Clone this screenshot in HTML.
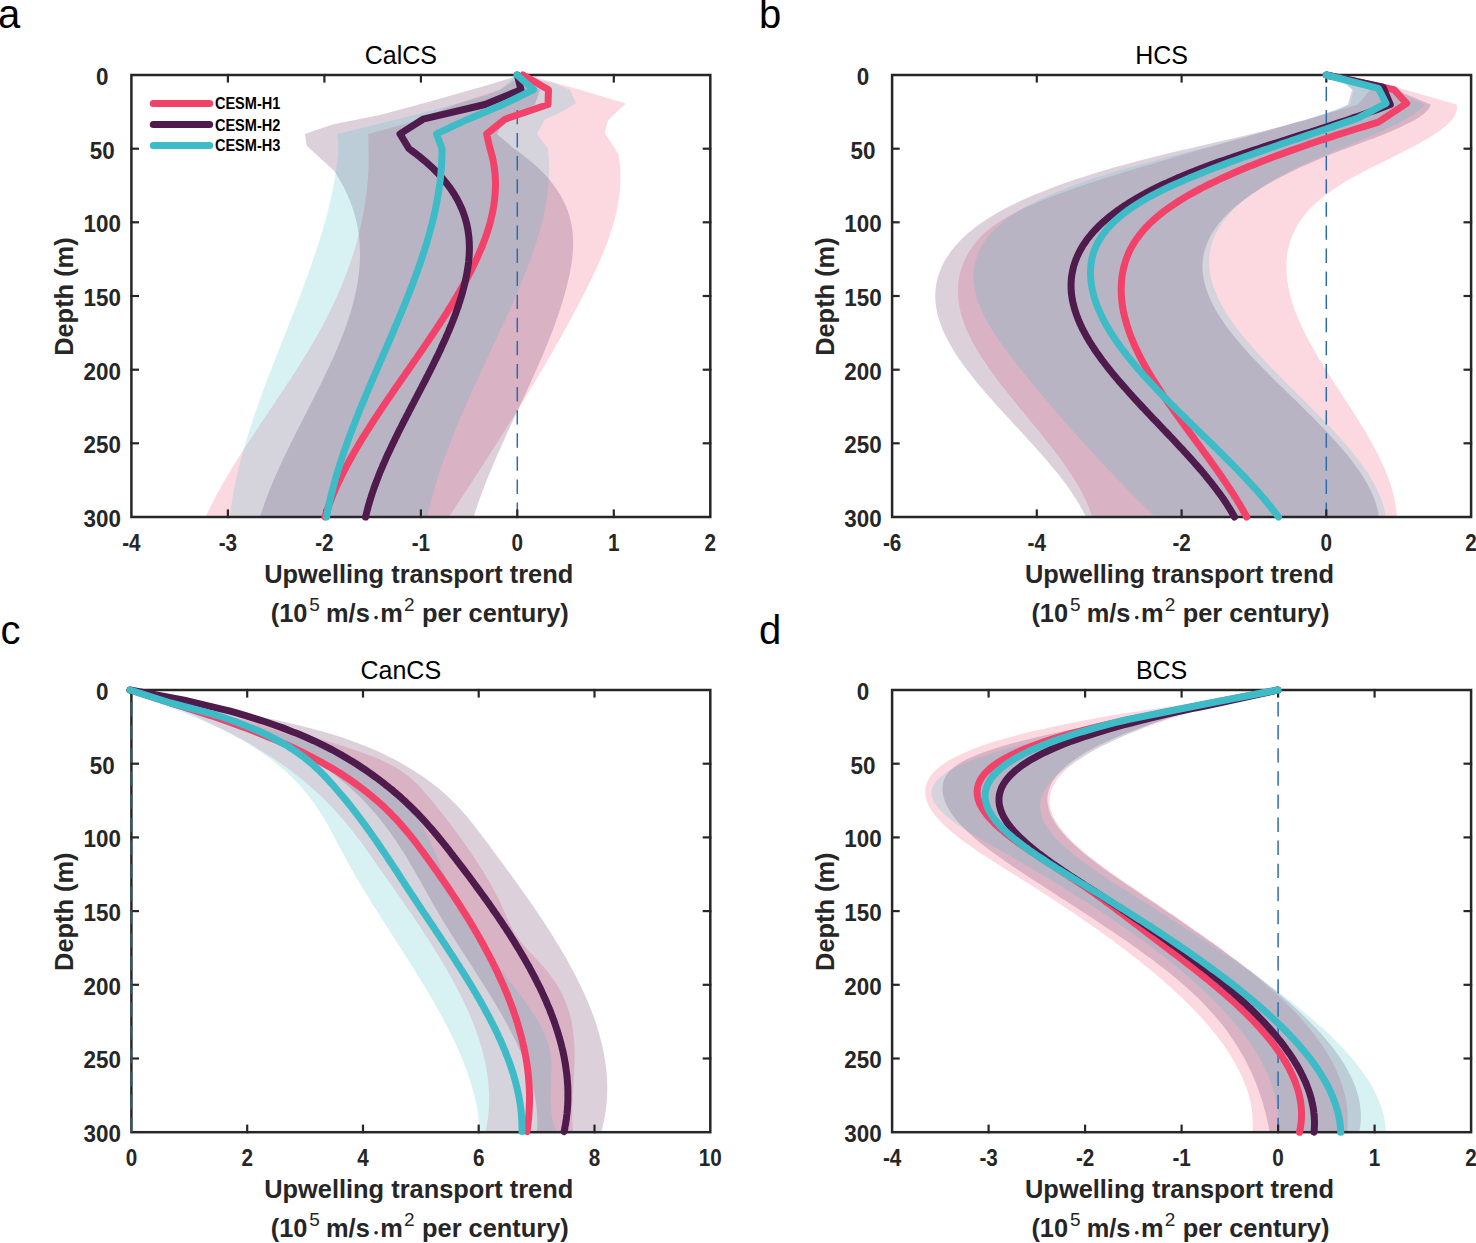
<!DOCTYPE html>
<html><head><meta charset="utf-8"><style>
html,body{margin:0;padding:0;background:#fff;width:1476px;height:1243px;overflow:hidden}
svg{display:block}
</style></head><body><svg width="1476" height="1243" viewBox="0 0 1476 1243"><defs><clipPath id="clipa"><rect x="131.4" y="75.0" width="578.9" height="442.0"/></clipPath></defs><g clip-path="url(#clipa)"><polygon points="523.0,75.0 500.0,89.7 455.0,104.5 413.8,121.6 368.3,133.9 368.7,154.0 368.7,155.4 368.7,156.9 368.7,158.4 368.7,159.9 368.7,161.3 368.6,162.8 368.6,164.3 368.6,165.8 368.5,167.2 368.5,168.7 368.4,170.2 368.3,171.7 368.2,173.1 368.2,174.6 368.1,176.1 368.0,177.5 367.9,179.0 367.8,180.5 367.6,182.0 367.5,183.4 367.4,184.9 367.2,186.4 367.1,187.9 366.9,189.3 366.8,190.8 366.6,192.3 366.4,193.8 366.2,195.2 366.0,196.7 365.8,198.2 365.6,199.6 365.4,201.1 365.2,202.6 365.0,204.1 364.7,205.5 364.5,207.0 364.2,208.5 364.0,210.0 363.7,211.4 363.4,212.9 363.2,214.4 362.9,215.9 362.6,217.3 362.3,218.8 362.0,220.3 361.7,221.7 361.4,223.2 361.0,224.7 360.7,226.2 360.4,227.6 360.0,229.1 359.7,230.6 359.3,232.1 358.9,233.5 358.6,235.0 358.2,236.5 357.8,238.0 357.4,239.4 357.0,240.9 356.6,242.4 356.2,243.8 355.8,245.3 355.3,246.8 354.9,248.3 354.5,249.7 354.0,251.2 353.5,252.7 353.1,254.2 352.6,255.6 352.1,257.1 351.7,258.6 351.2,260.1 350.7,261.5 350.2,263.0 349.7,264.5 349.1,265.9 348.6,267.4 348.1,268.9 347.5,270.4 347.0,271.8 346.5,273.3 345.9,274.8 345.3,276.3 344.8,277.7 344.2,279.2 343.6,280.7 343.0,282.2 342.4,283.6 341.8,285.1 341.2,286.6 340.6,288.0 340.0,289.5 339.3,291.0 338.7,292.5 338.0,293.9 337.4,295.4 336.7,296.9 336.1,298.4 335.4,299.8 334.7,301.3 334.0,302.8 333.3,304.3 332.7,305.7 331.9,307.2 331.2,308.7 330.5,310.1 329.8,311.6 329.1,313.1 328.3,314.6 327.6,316.0 326.8,317.5 326.1,319.0 325.3,320.5 324.6,321.9 323.8,323.4 323.0,324.9 322.2,326.4 321.4,327.8 320.6,329.3 319.8,330.8 319.0,332.2 318.2,333.7 317.3,335.2 316.5,336.7 315.7,338.1 314.8,339.6 314.0,341.1 313.1,342.6 312.3,344.0 311.4,345.5 310.5,347.0 309.6,348.5 308.8,349.9 307.9,351.4 307.0,352.9 306.1,354.3 305.2,355.8 304.3,357.3 303.4,358.8 302.4,360.2 301.5,361.7 300.6,363.2 299.7,364.7 298.7,366.1 297.8,367.6 296.9,369.1 295.9,370.6 295.0,372.0 294.0,373.5 293.1,375.0 292.1,376.4 291.2,377.9 290.2,379.4 289.2,380.9 288.3,382.3 287.3,383.8 286.3,385.3 285.4,386.8 284.4,388.2 283.4,389.7 282.4,391.2 281.4,392.7 280.5,394.1 279.5,395.6 278.5,397.1 277.5,398.5 276.5,400.0 275.5,401.5 274.6,403.0 273.6,404.4 272.6,405.9 271.6,407.4 270.6,408.9 269.6,410.3 268.6,411.8 267.6,413.3 266.6,414.8 265.7,416.2 264.7,417.7 263.7,419.2 262.7,420.6 261.7,422.1 260.7,423.6 259.7,425.1 258.8,426.5 257.8,428.0 256.8,429.5 255.8,431.0 254.8,432.4 253.9,433.9 252.9,435.4 251.9,436.9 250.9,438.3 250.0,439.8 249.0,441.3 248.1,442.7 247.1,444.2 246.1,445.7 245.2,447.2 244.2,448.6 243.3,450.1 242.3,451.6 241.4,453.1 240.5,454.5 239.5,456.0 238.6,457.5 237.7,459.0 236.8,460.4 235.8,461.9 234.9,463.4 234.0,464.8 233.1,466.3 232.2,467.8 231.3,469.3 230.4,470.7 229.5,472.2 228.7,473.7 227.8,475.2 226.9,476.6 226.0,478.1 225.2,479.6 224.3,481.1 223.5,482.5 222.6,484.0 221.8,485.5 221.0,486.9 220.2,488.4 219.3,489.9 218.5,491.4 217.7,492.8 216.9,494.3 216.1,495.8 215.4,497.3 214.6,498.7 213.8,500.2 213.1,501.7 212.3,503.2 211.6,504.6 210.8,506.1 210.1,507.6 209.4,509.0 208.6,510.5 207.9,512.0 207.2,513.5 206.6,514.9 205.9,516.4 205.6,517.0 448.8,517.0 449.2,516.4 450.2,514.9 451.2,513.5 452.1,512.0 453.1,510.5 454.1,509.0 455.1,507.6 456.0,506.1 457.0,504.6 458.0,503.2 458.9,501.7 459.9,500.2 460.9,498.7 461.8,497.3 462.8,495.8 463.8,494.3 464.7,492.8 465.7,491.4 466.7,489.9 467.6,488.4 468.6,486.9 469.6,485.5 470.5,484.0 471.5,482.5 472.5,481.1 473.4,479.6 474.4,478.1 475.3,476.6 476.3,475.2 477.3,473.7 478.2,472.2 479.2,470.7 480.1,469.3 481.1,467.8 482.0,466.3 483.0,464.8 483.9,463.4 484.9,461.9 485.8,460.4 486.8,459.0 487.7,457.5 488.7,456.0 489.6,454.5 490.6,453.1 491.5,451.6 492.5,450.1 493.4,448.6 494.4,447.2 495.3,445.7 496.2,444.2 497.2,442.7 498.1,441.3 499.1,439.8 500.0,438.3 500.9,436.9 501.9,435.4 502.8,433.9 503.7,432.4 504.6,431.0 505.6,429.5 506.5,428.0 507.4,426.5 508.4,425.1 509.3,423.6 510.2,422.1 511.1,420.6 512.0,419.2 513.0,417.7 513.9,416.2 514.8,414.8 515.7,413.3 516.6,411.8 517.5,410.3 518.4,408.9 519.4,407.4 520.3,405.9 521.2,404.4 522.1,403.0 523.0,401.5 523.9,400.0 524.8,398.5 525.7,397.1 526.6,395.6 527.5,394.1 528.4,392.7 529.3,391.2 530.2,389.7 531.0,388.2 531.9,386.8 532.8,385.3 533.7,383.8 534.6,382.3 535.5,380.9 536.3,379.4 537.2,377.9 538.1,376.4 539.0,375.0 539.9,373.5 540.7,372.0 541.6,370.6 542.5,369.1 543.3,367.6 544.2,366.1 545.1,364.7 545.9,363.2 546.8,361.7 547.6,360.2 548.5,358.8 549.3,357.3 550.2,355.8 551.0,354.3 551.9,352.9 552.7,351.4 553.6,349.9 554.4,348.5 555.2,347.0 556.1,345.5 556.9,344.0 557.8,342.6 558.6,341.1 559.4,339.6 560.2,338.1 561.1,336.7 561.9,335.2 562.7,333.7 563.5,332.2 564.3,330.8 565.2,329.3 566.0,327.8 566.8,326.4 567.6,324.9 568.4,323.4 569.2,321.9 570.0,320.5 570.8,319.0 571.6,317.5 572.4,316.0 573.2,314.6 574.0,313.1 574.7,311.6 575.5,310.1 576.3,308.7 577.1,307.2 577.9,305.7 578.6,304.3 579.4,302.8 580.2,301.3 580.9,299.8 581.7,298.4 582.5,296.9 583.2,295.4 584.0,293.9 584.7,292.5 585.5,291.0 586.2,289.5 587.0,288.0 587.7,286.6 588.4,285.1 589.2,283.6 589.9,282.2 590.6,280.7 591.3,279.2 592.0,277.7 592.7,276.3 593.4,274.8 594.1,273.3 594.8,271.8 595.5,270.4 596.2,268.9 596.9,267.4 597.5,265.9 598.2,264.5 598.9,263.0 599.5,261.5 600.1,260.1 600.8,258.6 601.4,257.1 602.0,255.6 602.6,254.2 603.2,252.7 603.8,251.2 604.4,249.7 605.0,248.3 605.6,246.8 606.2,245.3 606.7,243.8 607.3,242.4 607.8,240.9 608.3,239.4 608.8,238.0 609.4,236.5 609.9,235.0 610.4,233.5 610.8,232.1 611.3,230.6 611.8,229.1 612.2,227.6 612.7,226.2 613.1,224.7 613.5,223.2 613.9,221.7 614.3,220.3 614.7,218.8 615.1,217.3 615.5,215.9 615.8,214.4 616.2,212.9 616.5,211.4 616.8,210.0 617.1,208.5 617.4,207.0 617.7,205.5 618.0,204.1 618.2,202.6 618.5,201.1 618.7,199.6 618.9,198.2 619.1,196.7 619.3,195.2 619.5,193.8 619.6,192.3 619.8,190.8 619.9,189.3 620.0,187.9 620.1,186.4 620.2,184.9 620.3,183.4 620.4,182.0 620.4,180.5 620.4,179.0 620.5,177.5 620.4,176.1 620.4,174.6 620.4,173.1 620.3,171.7 620.3,170.2 620.2,168.7 620.1,167.2 620.0,165.8 619.8,164.3 619.7,162.8 619.5,161.3 619.3,159.9 619.1,158.4 618.9,156.9 618.7,155.4 618.4,154.0 604.8,133.0 607.9,120.4 625.8,103.6 580.0,89.7 527.0,75.0" fill="#F2426A" fill-opacity="0.2"/><polygon points="517.0,75.0 511.0,77.9 487.0,85.3 430.0,101.5 381.0,114.8 332.5,124.4 304.9,133.9 306.7,145.7 334.0,170.8 335.0,172.2 335.9,173.7 336.9,175.2 337.8,176.7 338.7,178.1 339.5,179.6 340.4,181.1 341.2,182.6 342.0,184.0 342.8,185.5 343.6,187.0 344.4,188.4 345.1,189.9 345.8,191.4 346.5,192.9 347.2,194.3 347.8,195.8 348.5,197.3 349.1,198.8 349.7,200.2 350.3,201.7 350.8,203.2 351.4,204.7 351.9,206.1 352.4,207.6 352.9,209.1 353.4,210.5 353.8,212.0 354.3,213.5 354.7,215.0 355.1,216.4 355.5,217.9 355.9,219.4 356.2,220.9 356.6,222.3 356.9,223.8 357.2,225.3 357.5,226.8 357.7,228.2 358.0,229.7 358.2,231.2 358.5,232.6 358.7,234.1 358.9,235.6 359.0,237.1 359.2,238.5 359.3,240.0 359.5,241.5 359.6,243.0 359.7,244.4 359.8,245.9 359.8,247.4 359.9,248.9 359.9,250.3 360.0,251.8 360.0,253.3 360.0,254.7 360.0,256.2 360.0,257.7 359.9,259.2 359.9,260.6 359.8,262.1 359.7,263.6 359.6,265.1 359.5,266.5 359.4,268.0 359.3,269.5 359.1,271.0 359.0,272.4 358.8,273.9 358.6,275.4 358.4,276.8 358.2,278.3 358.0,279.8 357.8,281.3 357.6,282.7 357.3,284.2 357.0,285.7 356.8,287.2 356.5,288.6 356.2,290.1 355.9,291.6 355.6,293.1 355.2,294.5 354.9,296.0 354.6,297.5 354.2,298.9 353.8,300.4 353.5,301.9 353.1,303.4 352.7,304.8 352.3,306.3 351.9,307.8 351.4,309.3 351.0,310.7 350.6,312.2 350.1,313.7 349.7,315.2 349.2,316.6 348.7,318.1 348.2,319.6 347.7,321.0 347.2,322.5 346.7,324.0 346.2,325.5 345.7,326.9 345.1,328.4 344.6,329.9 344.1,331.4 343.5,332.8 342.9,334.3 342.4,335.8 341.8,337.3 341.2,338.7 340.6,340.2 340.0,341.7 339.4,343.1 338.8,344.6 338.2,346.1 337.6,347.6 337.0,349.0 336.3,350.5 335.7,352.0 335.1,353.5 334.4,354.9 333.8,356.4 333.1,357.9 332.5,359.4 331.8,360.8 331.1,362.3 330.4,363.8 329.8,365.2 329.1,366.7 328.4,368.2 327.7,369.7 327.0,371.1 326.3,372.6 325.6,374.1 324.9,375.6 324.2,377.0 323.5,378.5 322.8,380.0 322.0,381.5 321.3,382.9 320.6,384.4 319.9,385.9 319.1,387.3 318.4,388.8 317.7,390.3 316.9,391.8 316.2,393.2 315.4,394.7 314.7,396.2 314.0,397.7 313.2,399.1 312.5,400.6 311.7,402.1 311.0,403.6 310.2,405.0 309.5,406.5 308.7,408.0 308.0,409.4 307.2,410.9 306.5,412.4 305.7,413.9 304.9,415.3 304.2,416.8 303.4,418.3 302.7,419.8 301.9,421.2 301.2,422.7 300.4,424.2 299.7,425.7 298.9,427.1 298.2,428.6 297.4,430.1 296.7,431.5 295.9,433.0 295.2,434.5 294.5,436.0 293.7,437.4 293.0,438.9 292.3,440.4 291.5,441.9 290.8,443.3 290.1,444.8 289.3,446.3 288.6,447.8 287.9,449.2 287.2,450.7 286.5,452.2 285.7,453.6 285.0,455.1 284.3,456.6 283.6,458.1 282.9,459.5 282.2,461.0 281.6,462.5 280.9,464.0 280.2,465.4 279.5,466.9 278.8,468.4 278.2,469.9 277.5,471.3 276.9,472.8 276.2,474.3 275.6,475.7 274.9,477.2 274.3,478.7 273.6,480.2 273.0,481.6 272.4,483.1 271.8,484.6 271.2,486.1 270.6,487.5 270.0,489.0 269.4,490.5 268.8,492.0 268.2,493.4 267.7,494.9 267.1,496.4 266.5,497.8 266.0,499.3 265.5,500.8 264.9,502.3 264.4,503.7 263.9,505.2 263.4,506.7 262.9,508.2 262.4,509.6 261.9,511.1 261.4,512.6 260.9,514.1 260.5,515.5 260.0,517.0 473.7,517.0 474.1,515.5 474.6,514.1 475.1,512.6 475.5,511.1 476.0,509.6 476.5,508.2 477.0,506.7 477.5,505.2 478.0,503.7 478.5,502.3 479.0,500.8 479.6,499.3 480.1,497.8 480.6,496.4 481.2,494.9 481.7,493.4 482.2,492.0 482.8,490.5 483.4,489.0 483.9,487.5 484.5,486.1 485.1,484.6 485.6,483.1 486.2,481.6 486.8,480.2 487.4,478.7 488.0,477.2 488.6,475.7 489.2,474.3 489.8,472.8 490.4,471.3 491.0,469.9 491.6,468.4 492.2,466.9 492.9,465.4 493.5,464.0 494.1,462.5 494.8,461.0 495.4,459.5 496.0,458.1 496.7,456.6 497.3,455.1 498.0,453.6 498.6,452.2 499.3,450.7 499.9,449.2 500.6,447.8 501.2,446.3 501.9,444.8 502.6,443.3 503.2,441.9 503.9,440.4 504.6,438.9 505.2,437.4 505.9,436.0 506.6,434.5 507.2,433.0 507.9,431.5 508.6,430.1 509.3,428.6 510.0,427.1 510.6,425.7 511.3,424.2 512.0,422.7 512.7,421.2 513.4,419.8 514.1,418.3 514.7,416.8 515.4,415.3 516.1,413.9 516.8,412.4 517.5,410.9 518.2,409.4 518.9,408.0 519.5,406.5 520.2,405.0 520.9,403.6 521.6,402.1 522.3,400.6 523.0,399.1 523.6,397.7 524.3,396.2 525.0,394.7 525.7,393.2 526.4,391.8 527.1,390.3 527.7,388.8 528.4,387.3 529.1,385.9 529.8,384.4 530.4,382.9 531.1,381.5 531.8,380.0 532.4,378.5 533.1,377.0 533.8,375.6 534.4,374.1 535.1,372.6 535.7,371.1 536.4,369.7 537.0,368.2 537.7,366.7 538.3,365.2 539.0,363.8 539.6,362.3 540.3,360.8 540.9,359.4 541.5,357.9 542.2,356.4 542.8,354.9 543.4,353.5 544.0,352.0 544.6,350.5 545.2,349.0 545.9,347.6 546.5,346.1 547.1,344.6 547.7,343.1 548.2,341.7 548.8,340.2 549.4,338.7 550.0,337.3 550.6,335.8 551.1,334.3 551.7,332.8 552.3,331.4 552.8,329.9 553.4,328.4 553.9,326.9 554.5,325.5 555.0,324.0 555.5,322.5 556.1,321.0 556.6,319.6 557.1,318.1 557.6,316.6 558.1,315.2 558.6,313.7 559.1,312.2 559.6,310.7 560.1,309.3 560.6,307.8 561.0,306.3 561.5,304.8 562.0,303.4 562.4,301.9 562.8,300.4 563.3,298.9 563.7,297.5 564.1,296.0 564.6,294.5 565.0,293.1 565.4,291.6 565.8,290.1 566.2,288.6 566.5,287.2 566.9,285.7 567.3,284.2 567.6,282.7 568.0,281.3 568.3,279.8 568.7,278.3 569.0,276.8 569.3,275.4 569.6,273.9 569.9,272.4 570.2,271.0 570.5,269.5 570.8,268.0 571.0,266.5 571.3,265.1 571.5,263.6 571.7,262.1 571.9,260.6 572.1,259.2 572.3,257.7 572.4,256.2 572.6,254.7 572.7,253.3 572.8,251.8 572.9,250.3 573.0,248.9 573.0,247.4 573.1,245.9 573.1,244.4 573.1,243.0 573.1,241.5 573.1,240.0 573.0,238.5 573.0,237.1 572.9,235.6 572.7,234.1 572.6,232.6 572.4,231.2 572.3,229.7 572.1,228.2 571.8,226.8 571.6,225.3 571.3,223.8 571.0,222.3 570.7,220.9 570.3,219.4 569.9,217.9 569.5,216.4 569.1,215.0 568.6,213.5 568.1,212.0 567.6,210.5 567.0,209.1 566.5,207.6 565.9,206.1 565.2,204.7 564.5,203.2 563.8,201.7 563.1,200.2 562.3,198.8 561.5,197.3 560.7,195.8 559.9,194.3 559.0,192.9 558.0,191.4 557.1,189.9 556.1,188.4 555.0,187.0 553.9,185.5 552.8,184.0 551.7,182.6 550.5,181.1 549.3,179.6 548.0,178.1 546.7,176.7 545.4,175.2 544.0,173.7 542.6,172.2 541.1,170.8 539.6,169.3 538.1,167.8 536.5,166.3 534.8,164.9 533.2,163.4 531.5,161.9 529.7,160.5 527.9,159.0 526.0,157.5 524.2,156.0 522.2,154.6 520.2,153.1 518.2,151.6 516.1,150.1 514.0,148.7 497.0,133.9 505.0,119.2 535.0,104.5 540.0,89.7 517.0,75.0" fill="#4F1B4D" fill-opacity="0.2"/><polygon points="517.0,75.0 500.0,89.7 487.0,95.6 446.0,106.7 397.6,119.2 337.4,133.9 338.5,148.7 338.4,150.1 338.3,151.6 338.1,153.1 338.0,154.6 337.8,156.0 337.7,157.5 337.5,159.0 337.4,160.5 337.2,161.9 337.0,163.4 336.8,164.9 336.6,166.3 336.4,167.8 336.2,169.3 336.0,170.8 335.8,172.2 335.5,173.7 335.3,175.2 335.1,176.7 334.8,178.1 334.6,179.6 334.3,181.1 334.0,182.6 333.8,184.0 333.5,185.5 333.2,187.0 332.9,188.4 332.6,189.9 332.3,191.4 332.0,192.9 331.7,194.3 331.4,195.8 331.1,197.3 330.8,198.8 330.4,200.2 330.1,201.7 329.7,203.2 329.4,204.7 329.0,206.1 328.7,207.6 328.3,209.1 327.9,210.5 327.6,212.0 327.2,213.5 326.8,215.0 326.4,216.4 326.0,217.9 325.6,219.4 325.2,220.9 324.8,222.3 324.4,223.8 324.0,225.3 323.6,226.8 323.1,228.2 322.7,229.7 322.3,231.2 321.8,232.6 321.4,234.1 321.0,235.6 320.5,237.1 320.1,238.5 319.6,240.0 319.1,241.5 318.7,243.0 318.2,244.4 317.7,245.9 317.3,247.4 316.8,248.9 316.3,250.3 315.8,251.8 315.3,253.3 314.8,254.7 314.3,256.2 313.8,257.7 313.3,259.2 312.8,260.6 312.3,262.1 311.8,263.6 311.3,265.1 310.8,266.5 310.3,268.0 309.8,269.5 309.2,271.0 308.7,272.4 308.2,273.9 307.6,275.4 307.1,276.8 306.6,278.3 306.0,279.8 305.5,281.3 304.9,282.7 304.4,284.2 303.9,285.7 303.3,287.2 302.8,288.6 302.2,290.1 301.6,291.6 301.1,293.1 300.5,294.5 300.0,296.0 299.4,297.5 298.8,298.9 298.3,300.4 297.7,301.9 297.1,303.4 296.6,304.8 296.0,306.3 295.4,307.8 294.9,309.3 294.3,310.7 293.7,312.2 293.1,313.7 292.6,315.2 292.0,316.6 291.4,318.1 290.8,319.6 290.2,321.0 289.7,322.5 289.1,324.0 288.5,325.5 287.9,326.9 287.3,328.4 286.8,329.9 286.2,331.4 285.6,332.8 285.0,334.3 284.4,335.8 283.8,337.3 283.3,338.7 282.7,340.2 282.1,341.7 281.5,343.1 280.9,344.6 280.3,346.1 279.8,347.6 279.2,349.0 278.6,350.5 278.0,352.0 277.4,353.5 276.9,354.9 276.3,356.4 275.7,357.9 275.1,359.4 274.5,360.8 274.0,362.3 273.4,363.8 272.8,365.2 272.2,366.7 271.7,368.2 271.1,369.7 270.5,371.1 270.0,372.6 269.4,374.1 268.8,375.6 268.3,377.0 267.7,378.5 267.1,380.0 266.6,381.5 266.0,382.9 265.5,384.4 264.9,385.9 264.4,387.3 263.8,388.8 263.3,390.3 262.7,391.8 262.2,393.2 261.6,394.7 261.1,396.2 260.6,397.7 260.0,399.1 259.5,400.6 259.0,402.1 258.4,403.6 257.9,405.0 257.4,406.5 256.9,408.0 256.4,409.4 255.8,410.9 255.3,412.4 254.8,413.9 254.3,415.3 253.8,416.8 253.3,418.3 252.8,419.8 252.3,421.2 251.8,422.7 251.3,424.2 250.9,425.7 250.4,427.1 249.9,428.6 249.4,430.1 249.0,431.5 248.5,433.0 248.0,434.5 247.6,436.0 247.1,437.4 246.7,438.9 246.2,440.4 245.8,441.9 245.4,443.3 244.9,444.8 244.5,446.3 244.1,447.8 243.6,449.2 243.2,450.7 242.8,452.2 242.4,453.6 242.0,455.1 241.6,456.6 241.2,458.1 240.8,459.5 240.4,461.0 240.1,462.5 239.7,464.0 239.3,465.4 238.9,466.9 238.6,468.4 238.2,469.9 237.9,471.3 237.5,472.8 237.2,474.3 236.9,475.7 236.5,477.2 236.2,478.7 235.9,480.2 235.6,481.6 235.3,483.1 235.0,484.6 234.7,486.1 234.4,487.5 234.1,489.0 233.8,490.5 233.5,492.0 233.3,493.4 233.0,494.9 232.8,496.4 232.5,497.8 232.3,499.3 232.0,500.8 231.8,502.3 231.6,503.7 231.4,505.2 231.1,506.7 230.9,508.2 230.7,509.6 230.6,511.1 230.4,512.6 230.2,514.1 230.0,515.5 229.9,517.0 427.6,517.0 427.9,515.5 428.2,514.1 428.5,512.6 428.8,511.1 429.1,509.6 429.5,508.2 429.8,506.7 430.2,505.2 430.5,503.7 430.9,502.3 431.2,500.8 431.6,499.3 432.0,497.8 432.4,496.4 432.8,494.9 433.2,493.4 433.6,492.0 434.0,490.5 434.4,489.0 434.8,487.5 435.2,486.1 435.7,484.6 436.1,483.1 436.5,481.6 437.0,480.2 437.5,478.7 437.9,477.2 438.4,475.7 438.9,474.3 439.3,472.8 439.8,471.3 440.3,469.9 440.8,468.4 441.3,466.9 441.8,465.4 442.3,464.0 442.8,462.5 443.3,461.0 443.9,459.5 444.4,458.1 444.9,456.6 445.4,455.1 446.0,453.6 446.5,452.2 447.1,450.7 447.6,449.2 448.2,447.8 448.7,446.3 449.3,444.8 449.9,443.3 450.5,441.9 451.0,440.4 451.6,438.9 452.2,437.4 452.8,436.0 453.4,434.5 454.0,433.0 454.6,431.5 455.2,430.1 455.8,428.6 456.4,427.1 457.0,425.7 457.6,424.2 458.2,422.7 458.9,421.2 459.5,419.8 460.1,418.3 460.7,416.8 461.4,415.3 462.0,413.9 462.6,412.4 463.3,410.9 463.9,409.4 464.6,408.0 465.2,406.5 465.9,405.0 466.5,403.6 467.2,402.1 467.8,400.6 468.5,399.1 469.2,397.7 469.8,396.2 470.5,394.7 471.1,393.2 471.8,391.8 472.5,390.3 473.2,388.8 473.8,387.3 474.5,385.9 475.2,384.4 475.9,382.9 476.5,381.5 477.2,380.0 477.9,378.5 478.6,377.0 479.3,375.6 479.9,374.1 480.6,372.6 481.3,371.1 482.0,369.7 482.7,368.2 483.4,366.7 484.1,365.2 484.7,363.8 485.4,362.3 486.1,360.8 486.8,359.4 487.5,357.9 488.2,356.4 488.9,354.9 489.6,353.5 490.3,352.0 490.9,350.5 491.6,349.0 492.3,347.6 493.0,346.1 493.7,344.6 494.4,343.1 495.1,341.7 495.8,340.2 496.4,338.7 497.1,337.3 497.8,335.8 498.5,334.3 499.2,332.8 499.9,331.4 500.5,329.9 501.2,328.4 501.9,326.9 502.6,325.5 503.3,324.0 503.9,322.5 504.6,321.0 505.3,319.6 506.0,318.1 506.6,316.6 507.3,315.2 508.0,313.7 508.6,312.2 509.3,310.7 509.9,309.3 510.6,307.8 511.2,306.3 511.9,304.8 512.6,303.4 513.2,301.9 513.9,300.4 514.5,298.9 515.1,297.5 515.8,296.0 516.4,294.5 517.0,293.1 517.7,291.6 518.3,290.1 518.9,288.6 519.5,287.2 520.2,285.7 520.8,284.2 521.4,282.7 522.0,281.3 522.6,279.8 523.2,278.3 523.8,276.8 524.4,275.4 525.0,273.9 525.6,272.4 526.1,271.0 526.7,269.5 527.3,268.0 527.8,266.5 528.4,265.1 529.0,263.6 529.5,262.1 530.0,260.6 530.6,259.2 531.1,257.7 531.6,256.2 532.2,254.7 532.7,253.3 533.2,251.8 533.7,250.3 534.2,248.9 534.7,247.4 535.2,245.9 535.7,244.4 536.1,243.0 536.6,241.5 537.1,240.0 537.5,238.5 538.0,237.1 538.4,235.6 538.8,234.1 539.2,232.6 539.7,231.2 540.1,229.7 540.5,228.2 540.9,226.8 541.3,225.3 541.6,223.8 542.0,222.3 542.4,220.9 542.7,219.4 543.1,217.9 543.4,216.4 543.7,215.0 544.1,213.5 544.4,212.0 544.7,210.5 545.0,209.1 545.3,207.6 545.5,206.1 545.8,204.7 546.1,203.2 546.3,201.7 546.5,200.2 546.8,198.8 547.0,197.3 547.2,195.8 547.4,194.3 547.6,192.9 547.8,191.4 547.9,189.9 548.1,188.4 548.2,187.0 548.4,185.5 548.5,184.0 548.6,182.6 548.7,181.1 548.8,179.6 548.9,178.1 549.0,176.7 549.0,175.2 549.1,173.7 549.1,172.2 549.1,170.8 549.1,169.3 549.1,167.8 549.1,166.3 549.1,164.9 549.1,163.4 549.0,161.9 549.0,160.5 548.9,159.0 548.8,157.5 548.7,156.0 548.6,154.6 548.5,153.1 548.3,151.6 548.2,150.1 548.0,148.7 537.0,133.9 545.0,119.2 562.0,111.8 576.0,103.0 570.0,89.7 552.0,82.4 517.0,75.0" fill="#3DBCC8" fill-opacity="0.2"/><line x1="517.3" y1="517.0" x2="517.3" y2="75.0" stroke="#2B6CB0" stroke-width="1.5" stroke-dasharray="14.4 8.7"/></g><defs><clipPath id="clipb"><rect x="892.1" y="75.0" width="578.9999999999999" height="442.0"/></clipPath></defs><g clip-path="url(#clipb)"><polygon points="1326.0,75.0 1370.0,89.7 1358.0,104.5 1353.1,105.9 1348.1,107.4 1343.1,108.9 1338.1,110.4 1333.1,111.8 1328.1,113.3 1323.0,114.8 1317.9,116.3 1312.9,117.7 1307.8,119.2 1302.7,120.7 1297.6,122.1 1292.4,123.6 1287.3,125.1 1282.2,126.6 1277.0,128.0 1271.9,129.5 1266.7,131.0 1261.5,132.5 1256.4,133.9 1251.2,135.4 1246.0,136.9 1240.8,138.4 1235.7,139.8 1230.5,141.3 1225.3,142.8 1220.1,144.2 1214.9,145.7 1209.8,147.2 1204.6,148.7 1199.4,150.1 1194.3,151.6 1189.1,153.1 1184.0,154.6 1178.9,156.0 1173.8,157.5 1168.7,159.0 1163.6,160.5 1158.5,161.9 1153.5,163.4 1148.5,164.9 1143.6,166.3 1138.6,167.8 1133.7,169.3 1128.9,170.8 1124.0,172.2 1119.2,173.7 1114.5,175.2 1109.8,176.7 1105.1,178.1 1100.5,179.6 1096.0,181.1 1091.5,182.6 1087.0,184.0 1082.6,185.5 1078.3,187.0 1074.0,188.4 1069.8,189.9 1065.7,191.4 1061.6,192.9 1057.6,194.3 1053.7,195.8 1049.9,197.3 1046.1,198.8 1042.4,200.2 1038.8,201.7 1035.3,203.2 1031.9,204.7 1028.6,206.1 1025.3,207.6 1022.2,209.1 1019.2,210.5 1016.2,212.0 1013.4,213.5 1010.6,215.0 1008.0,216.4 1005.4,217.9 1003.0,219.4 1000.7,220.9 998.4,222.3 996.2,223.8 994.2,225.3 992.2,226.8 990.3,228.2 988.4,229.7 986.7,231.2 985.0,232.6 983.4,234.1 981.9,235.6 980.4,237.1 979.1,238.5 977.7,240.0 976.5,241.5 975.2,243.0 974.1,244.4 973.0,245.9 971.9,247.4 971.0,248.9 970.0,250.3 969.1,251.8 968.2,253.3 967.4,254.7 966.6,256.2 965.9,257.7 965.2,259.2 964.5,260.6 963.8,262.1 963.2,263.6 962.7,265.1 962.1,266.5 961.6,268.0 961.1,269.5 960.7,271.0 960.3,272.4 959.9,273.9 959.6,275.4 959.3,276.8 959.0,278.3 958.8,279.8 958.5,281.3 958.4,282.7 958.2,284.2 958.1,285.7 958.0,287.2 957.9,288.6 957.9,290.1 957.9,291.6 957.9,293.1 958.0,294.5 958.1,296.0 958.2,297.5 958.3,298.9 958.5,300.4 958.6,301.9 958.8,303.4 959.1,304.8 959.4,306.3 959.6,307.8 960.0,309.3 960.3,310.7 960.7,312.2 961.0,313.7 961.4,315.2 961.9,316.6 962.3,318.1 962.8,319.6 963.3,321.0 963.8,322.5 964.4,324.0 964.9,325.5 965.5,326.9 966.1,328.4 966.7,329.9 967.4,331.4 968.0,332.8 968.7,334.3 969.4,335.8 970.2,337.3 970.9,338.7 971.6,340.2 972.4,341.7 973.2,343.1 974.0,344.6 974.8,346.1 975.7,347.6 976.5,349.0 977.4,350.5 978.3,352.0 979.2,353.5 980.1,354.9 981.0,356.4 982.0,357.9 982.9,359.4 983.9,360.8 984.9,362.3 985.9,363.8 986.9,365.2 987.9,366.7 988.9,368.2 989.9,369.7 991.0,371.1 992.1,372.6 993.1,374.1 994.2,375.6 995.3,377.0 996.4,378.5 997.5,380.0 998.6,381.5 999.7,382.9 1000.9,384.4 1002.0,385.9 1003.1,387.3 1004.3,388.8 1005.5,390.3 1006.6,391.8 1007.8,393.2 1009.0,394.7 1010.1,396.2 1011.3,397.7 1012.5,399.1 1013.7,400.6 1014.9,402.1 1016.1,403.6 1017.3,405.0 1018.5,406.5 1019.7,408.0 1020.9,409.4 1022.1,410.9 1023.4,412.4 1024.6,413.9 1025.8,415.3 1027.0,416.8 1028.2,418.3 1029.4,419.8 1030.6,421.2 1031.9,422.7 1033.1,424.2 1034.3,425.7 1035.5,427.1 1036.7,428.6 1037.9,430.1 1039.1,431.5 1040.3,433.0 1041.5,434.5 1042.7,436.0 1043.9,437.4 1045.0,438.9 1046.2,440.4 1047.4,441.9 1048.6,443.3 1049.7,444.8 1050.9,446.3 1052.0,447.8 1053.2,449.2 1054.3,450.7 1055.4,452.2 1056.5,453.6 1057.6,455.1 1058.7,456.6 1059.8,458.1 1060.9,459.5 1062.0,461.0 1063.0,462.5 1064.1,464.0 1065.1,465.4 1066.2,466.9 1067.2,468.4 1068.2,469.9 1069.2,471.3 1070.1,472.8 1071.1,474.3 1072.1,475.7 1073.0,477.2 1073.9,478.7 1074.9,480.2 1075.8,481.6 1076.6,483.1 1077.5,484.6 1078.4,486.1 1079.2,487.5 1080.0,489.0 1080.8,490.5 1081.6,492.0 1082.4,493.4 1083.2,494.9 1083.9,496.4 1084.6,497.8 1085.3,499.3 1086.0,500.8 1086.7,502.3 1087.3,503.7 1087.9,505.2 1088.6,506.7 1089.1,508.2 1089.7,509.6 1090.2,511.1 1090.8,512.6 1091.3,514.1 1091.7,515.5 1092.2,517.0 1396.7,517.0 1396.7,515.5 1396.6,514.1 1396.4,512.6 1396.3,511.1 1396.2,509.6 1396.0,508.2 1395.8,506.7 1395.6,505.2 1395.3,503.7 1395.1,502.3 1394.8,500.8 1394.5,499.3 1394.2,497.8 1393.8,496.4 1393.5,494.9 1393.1,493.4 1392.8,492.0 1392.3,490.5 1391.9,489.0 1391.5,487.5 1391.0,486.1 1390.6,484.6 1390.1,483.1 1389.6,481.6 1389.1,480.2 1388.6,478.7 1388.0,477.2 1387.5,475.7 1386.9,474.3 1386.3,472.8 1385.7,471.3 1385.1,469.9 1384.5,468.4 1383.8,466.9 1383.2,465.4 1382.5,464.0 1381.8,462.5 1381.1,461.0 1380.4,459.5 1379.7,458.1 1379.0,456.6 1378.3,455.1 1377.5,453.6 1376.8,452.2 1376.0,450.7 1375.2,449.2 1374.4,447.8 1373.7,446.3 1372.8,444.8 1372.0,443.3 1371.2,441.9 1370.4,440.4 1369.6,438.9 1368.7,437.4 1367.9,436.0 1367.0,434.5 1366.1,433.0 1365.3,431.5 1364.4,430.1 1363.5,428.6 1362.6,427.1 1361.7,425.7 1360.8,424.2 1359.9,422.7 1359.0,421.2 1358.1,419.8 1357.1,418.3 1356.2,416.8 1355.3,415.3 1354.3,413.9 1353.4,412.4 1352.5,410.9 1351.5,409.4 1350.6,408.0 1349.6,406.5 1348.7,405.0 1347.7,403.6 1346.8,402.1 1345.8,400.6 1344.8,399.1 1343.9,397.7 1342.9,396.2 1342.0,394.7 1341.0,393.2 1340.0,391.8 1339.1,390.3 1338.1,388.8 1337.2,387.3 1336.2,385.9 1335.3,384.4 1334.3,382.9 1333.4,381.5 1332.4,380.0 1331.5,378.5 1330.5,377.0 1329.6,375.6 1328.6,374.1 1327.7,372.6 1326.8,371.1 1325.8,369.7 1324.9,368.2 1324.0,366.7 1323.1,365.2 1322.2,363.8 1321.3,362.3 1320.4,360.8 1319.5,359.4 1318.6,357.9 1317.7,356.4 1316.9,354.9 1316.0,353.5 1315.1,352.0 1314.3,350.5 1313.4,349.0 1312.6,347.6 1311.8,346.1 1311.0,344.6 1310.2,343.1 1309.4,341.7 1308.6,340.2 1307.8,338.7 1307.0,337.3 1306.3,335.8 1305.5,334.3 1304.8,332.8 1304.0,331.4 1303.3,329.9 1302.6,328.4 1301.9,326.9 1301.2,325.5 1300.5,324.0 1299.9,322.5 1299.2,321.0 1298.6,319.6 1298.0,318.1 1297.4,316.6 1296.8,315.2 1296.2,313.7 1295.6,312.2 1295.1,310.7 1294.5,309.3 1294.0,307.8 1293.5,306.3 1293.0,304.8 1292.5,303.4 1292.1,301.9 1291.6,300.4 1291.2,298.9 1290.8,297.5 1290.4,296.0 1290.0,294.5 1289.6,293.1 1289.3,291.6 1289.0,290.1 1288.7,288.6 1288.4,287.2 1288.1,285.7 1287.9,284.2 1287.6,282.7 1287.4,281.3 1287.2,279.8 1287.1,278.3 1286.9,276.8 1286.8,275.4 1286.7,273.9 1286.6,272.4 1286.5,271.0 1286.5,269.5 1286.4,268.0 1286.4,266.5 1286.4,265.1 1286.5,263.6 1286.6,262.1 1286.6,260.6 1286.7,259.2 1286.9,257.7 1287.0,256.2 1287.2,254.7 1287.4,253.3 1287.7,251.8 1287.9,250.3 1288.2,248.9 1288.6,247.4 1288.9,245.9 1289.3,244.4 1289.7,243.0 1290.2,241.5 1290.6,240.0 1291.2,238.5 1291.7,237.1 1292.3,235.6 1292.9,234.1 1293.6,232.6 1294.3,231.2 1295.0,229.7 1295.8,228.2 1296.6,226.8 1297.5,225.3 1298.4,223.8 1299.3,222.3 1300.3,220.9 1301.3,219.4 1302.4,217.9 1303.5,216.4 1304.7,215.0 1305.9,213.5 1307.2,212.0 1308.5,210.5 1309.8,209.1 1311.3,207.6 1312.7,206.1 1314.2,204.7 1315.8,203.2 1317.5,201.7 1319.1,200.2 1320.9,198.8 1322.7,197.3 1324.5,195.8 1326.4,194.3 1328.4,192.9 1330.4,191.4 1332.5,189.9 1334.7,188.4 1336.9,187.0 1339.2,185.5 1341.5,184.0 1343.9,182.6 1346.4,181.1 1348.9,179.6 1351.5,178.1 1354.2,176.7 1356.9,175.2 1359.6,173.7 1362.4,172.2 1365.3,170.8 1368.1,169.3 1371.0,167.8 1374.0,166.3 1376.9,164.9 1379.9,163.4 1382.8,161.9 1385.8,160.5 1388.8,159.0 1391.8,157.5 1394.7,156.0 1397.7,154.6 1400.6,153.1 1403.5,151.6 1406.4,150.1 1409.3,148.7 1412.1,147.2 1414.9,145.7 1417.6,144.2 1420.3,142.8 1422.9,141.3 1425.5,139.8 1428.0,138.4 1430.4,136.9 1432.8,135.4 1435.0,133.9 1437.2,132.5 1439.3,131.0 1441.3,129.5 1443.3,128.0 1445.1,126.6 1446.8,125.1 1448.3,123.6 1449.8,122.1 1451.2,120.7 1452.4,119.2 1453.5,117.7 1454.4,116.3 1455.2,114.8 1455.9,113.3 1456.4,111.8 1456.8,110.4 1457.0,108.9 1457.0,107.4 1456.9,105.9 1456.6,104.5 1400.0,88.3 1326.0,75.0" fill="#F2426A" fill-opacity="0.2"/><polygon points="1326.0,75.0 1345.0,82.4 1352.0,89.7 1348.0,104.5 1345.0,105.9 1341.8,107.4 1338.3,108.9 1334.6,110.4 1330.7,111.8 1326.5,113.3 1322.1,114.8 1317.6,116.3 1312.9,117.7 1307.9,119.2 1302.9,120.7 1297.6,122.1 1292.3,123.6 1286.8,125.1 1281.1,126.6 1275.4,128.0 1269.5,129.5 1263.6,131.0 1257.5,132.5 1251.4,133.9 1245.3,135.4 1239.0,136.9 1232.8,138.4 1226.5,139.8 1220.1,141.3 1213.8,142.8 1207.4,144.2 1201.1,145.7 1194.8,147.2 1188.5,148.7 1182.2,150.1 1176.0,151.6 1169.8,153.1 1163.7,154.6 1157.7,156.0 1151.8,157.5 1146.0,159.0 1140.2,160.5 1134.6,161.9 1129.1,163.4 1123.7,164.9 1118.4,166.3 1113.1,167.8 1108.0,169.3 1103.0,170.8 1098.1,172.2 1093.3,173.7 1088.6,175.2 1083.9,176.7 1079.4,178.1 1075.0,179.6 1070.6,181.1 1066.3,182.6 1062.2,184.0 1058.1,185.5 1054.1,187.0 1050.2,188.4 1046.4,189.9 1042.7,191.4 1039.0,192.9 1035.5,194.3 1032.0,195.8 1028.6,197.3 1025.3,198.8 1022.0,200.2 1018.8,201.7 1015.8,203.2 1012.8,204.7 1009.8,206.1 1007.0,207.6 1004.2,209.1 1001.5,210.5 998.8,212.0 996.2,213.5 993.7,215.0 991.3,216.4 988.9,217.9 986.6,219.4 984.4,220.9 982.2,222.3 980.1,223.8 978.1,225.3 976.1,226.8 974.1,228.2 972.3,229.7 970.5,231.2 968.7,232.6 967.0,234.1 965.4,235.6 963.8,237.1 962.2,238.5 960.8,240.0 959.3,241.5 957.9,243.0 956.6,244.4 955.3,245.9 954.1,247.4 952.9,248.9 951.7,250.3 950.6,251.8 949.6,253.3 948.6,254.7 947.6,256.2 946.6,257.7 945.7,259.2 944.9,260.6 944.1,262.1 943.3,263.6 942.5,265.1 941.8,266.5 941.2,268.0 940.5,269.5 940.0,271.0 939.4,272.4 938.9,273.9 938.4,275.4 938.0,276.8 937.5,278.3 937.2,279.8 936.8,281.3 936.5,282.7 936.3,284.2 936.0,285.7 935.8,287.2 935.6,288.6 935.5,290.1 935.4,291.6 935.3,293.1 935.3,294.5 935.3,296.0 935.3,297.5 935.3,298.9 935.4,300.4 935.5,301.9 935.7,303.4 935.8,304.8 936.0,306.3 936.3,307.8 936.5,309.3 936.8,310.7 937.1,312.2 937.4,313.7 937.8,315.2 938.2,316.6 938.6,318.1 939.1,319.6 939.5,321.0 940.0,322.5 940.5,324.0 941.1,325.5 941.6,326.9 942.2,328.4 942.8,329.9 943.5,331.4 944.1,332.8 944.8,334.3 945.5,335.8 946.2,337.3 947.0,338.7 947.7,340.2 948.5,341.7 949.3,343.1 950.1,344.6 951.0,346.1 951.8,347.6 952.7,349.0 953.6,350.5 954.5,352.0 955.5,353.5 956.4,354.9 957.4,356.4 958.4,357.9 959.4,359.4 960.4,360.8 961.4,362.3 962.5,363.8 963.5,365.2 964.6,366.7 965.7,368.2 966.8,369.7 967.9,371.1 969.0,372.6 970.2,374.1 971.3,375.6 972.5,377.0 973.7,378.5 974.9,380.0 976.1,381.5 977.3,382.9 978.5,384.4 979.7,385.9 981.0,387.3 982.2,388.8 983.5,390.3 984.7,391.8 986.0,393.2 987.3,394.7 988.6,396.2 989.9,397.7 991.2,399.1 992.5,400.6 993.8,402.1 995.1,403.6 996.4,405.0 997.8,406.5 999.1,408.0 1000.5,409.4 1001.8,410.9 1003.1,412.4 1004.5,413.9 1005.8,415.3 1007.2,416.8 1008.6,418.3 1009.9,419.8 1011.3,421.2 1012.6,422.7 1014.0,424.2 1015.4,425.7 1016.7,427.1 1018.1,428.6 1019.4,430.1 1020.8,431.5 1022.2,433.0 1023.5,434.5 1024.9,436.0 1026.2,437.4 1027.6,438.9 1028.9,440.4 1030.3,441.9 1031.6,443.3 1032.9,444.8 1034.3,446.3 1035.6,447.8 1036.9,449.2 1038.2,450.7 1039.5,452.2 1040.8,453.6 1042.1,455.1 1043.4,456.6 1044.7,458.1 1046.0,459.5 1047.2,461.0 1048.5,462.5 1049.7,464.0 1051.0,465.4 1052.2,466.9 1053.4,468.4 1054.6,469.9 1055.8,471.3 1057.0,472.8 1058.2,474.3 1059.4,475.7 1060.5,477.2 1061.7,478.7 1062.8,480.2 1063.9,481.6 1065.0,483.1 1066.1,484.6 1067.2,486.1 1068.2,487.5 1069.3,489.0 1070.3,490.5 1071.3,492.0 1072.3,493.4 1073.3,494.9 1074.3,496.4 1075.2,497.8 1076.1,499.3 1077.0,500.8 1077.9,502.3 1078.8,503.7 1079.7,505.2 1080.5,506.7 1081.3,508.2 1082.1,509.6 1082.9,511.1 1083.7,512.6 1084.4,514.1 1085.1,515.5 1085.8,517.0 1379.0,517.0 1378.7,515.5 1378.5,514.1 1378.2,512.6 1377.9,511.1 1377.6,509.6 1377.2,508.2 1376.8,506.7 1376.4,505.2 1376.0,503.7 1375.5,502.3 1375.0,500.8 1374.4,499.3 1373.9,497.8 1373.3,496.4 1372.7,494.9 1372.0,493.4 1371.4,492.0 1370.7,490.5 1369.9,489.0 1369.2,487.5 1368.4,486.1 1367.6,484.6 1366.8,483.1 1366.0,481.6 1365.1,480.2 1364.2,478.7 1363.3,477.2 1362.4,475.7 1361.5,474.3 1360.5,472.8 1359.5,471.3 1358.5,469.9 1357.5,468.4 1356.4,466.9 1355.3,465.4 1354.2,464.0 1353.1,462.5 1352.0,461.0 1350.9,459.5 1349.7,458.1 1348.6,456.6 1347.4,455.1 1346.2,453.6 1344.9,452.2 1343.7,450.7 1342.5,449.2 1341.2,447.8 1339.9,446.3 1338.6,444.8 1337.3,443.3 1336.0,441.9 1334.7,440.4 1333.3,438.9 1332.0,437.4 1330.6,436.0 1329.3,434.5 1327.9,433.0 1326.5,431.5 1325.1,430.1 1323.7,428.6 1322.2,427.1 1320.8,425.7 1319.4,424.2 1317.9,422.7 1316.5,421.2 1315.0,419.8 1313.6,418.3 1312.1,416.8 1310.6,415.3 1309.1,413.9 1307.7,412.4 1306.2,410.9 1304.7,409.4 1303.2,408.0 1301.7,406.5 1300.2,405.0 1298.7,403.6 1297.2,402.1 1295.7,400.6 1294.1,399.1 1292.6,397.7 1291.1,396.2 1289.6,394.7 1288.1,393.2 1286.6,391.8 1285.1,390.3 1283.6,388.8 1282.1,387.3 1280.6,385.9 1279.1,384.4 1277.6,382.9 1276.1,381.5 1274.6,380.0 1273.1,378.5 1271.6,377.0 1270.1,375.6 1268.7,374.1 1267.2,372.6 1265.7,371.1 1264.3,369.7 1262.9,368.2 1261.4,366.7 1260.0,365.2 1258.6,363.8 1257.2,362.3 1255.7,360.8 1254.4,359.4 1253.0,357.9 1251.6,356.4 1250.2,354.9 1248.9,353.5 1247.5,352.0 1246.2,350.5 1244.9,349.0 1243.6,347.6 1242.3,346.1 1241.0,344.6 1239.7,343.1 1238.5,341.7 1237.3,340.2 1236.0,338.7 1234.8,337.3 1233.6,335.8 1232.5,334.3 1231.3,332.8 1230.2,331.4 1229.0,329.9 1227.9,328.4 1226.8,326.9 1225.8,325.5 1224.7,324.0 1223.7,322.5 1222.7,321.0 1221.7,319.6 1220.7,318.1 1219.8,316.6 1218.8,315.2 1217.9,313.7 1217.0,312.2 1216.2,310.7 1215.3,309.3 1214.5,307.8 1213.7,306.3 1212.9,304.8 1212.2,303.4 1211.5,301.9 1210.8,300.4 1210.1,298.9 1209.5,297.5 1208.8,296.0 1208.2,294.5 1207.7,293.1 1207.1,291.6 1206.6,290.1 1206.1,288.6 1205.7,287.2 1205.3,285.7 1204.9,284.2 1204.5,282.7 1204.2,281.3 1203.8,279.8 1203.6,278.3 1203.3,276.8 1203.1,275.4 1202.9,273.9 1202.8,272.4 1202.7,271.0 1202.6,269.5 1202.5,268.0 1202.5,266.5 1202.5,265.1 1202.6,263.6 1202.7,262.1 1202.8,260.6 1203.0,259.2 1203.2,257.7 1203.4,256.2 1203.7,254.7 1204.0,253.3 1204.3,251.8 1204.7,250.3 1205.2,248.9 1205.6,247.4 1206.1,245.9 1206.7,244.4 1207.3,243.0 1207.9,241.5 1208.5,240.0 1209.3,238.5 1210.0,237.1 1210.8,235.6 1211.6,234.1 1212.5,232.6 1213.4,231.2 1214.4,229.7 1215.4,228.2 1216.4,226.8 1217.5,225.3 1218.7,223.8 1219.9,222.3 1221.1,220.9 1222.4,219.4 1223.7,217.9 1225.1,216.4 1226.5,215.0 1228.0,213.5 1229.5,212.0 1231.1,210.5 1232.7,209.1 1234.4,207.6 1236.1,206.1 1237.9,204.7 1239.7,203.2 1241.6,201.7 1243.5,200.2 1245.4,198.8 1247.5,197.3 1249.6,195.8 1251.7,194.3 1253.9,192.9 1256.1,191.4 1258.4,189.9 1260.7,188.4 1263.1,187.0 1265.6,185.5 1268.1,184.0 1270.7,182.6 1273.3,181.1 1276.0,179.6 1278.7,178.1 1281.5,176.7 1284.4,175.2 1287.3,173.7 1290.2,172.2 1293.3,170.8 1296.3,169.3 1299.5,167.8 1302.7,166.3 1306.0,164.9 1309.3,163.4 1312.7,161.9 1316.1,160.5 1319.6,159.0 1323.2,157.5 1326.8,156.0 1330.5,154.6 1334.3,153.1 1338.1,151.6 1341.9,150.1 1345.8,148.7 1349.7,147.2 1353.7,145.7 1357.6,144.2 1361.5,142.8 1365.5,141.3 1369.3,139.8 1373.2,138.4 1377.0,136.9 1380.8,135.4 1384.5,133.9 1388.1,132.5 1391.7,131.0 1395.1,129.5 1398.5,128.0 1401.7,126.6 1404.8,125.1 1407.8,123.6 1410.7,122.1 1413.4,120.7 1416.0,119.2 1418.3,117.7 1420.5,116.3 1422.6,114.8 1424.4,113.3 1426.0,111.8 1427.4,110.4 1428.5,108.9 1429.5,107.4 1430.2,105.9 1430.6,104.5 1389.2,87.2 1326.0,75.0" fill="#4F1B4D" fill-opacity="0.2"/><polygon points="1326.0,75.0 1354.0,89.4 1350.0,104.5 1346.0,105.9 1342.0,107.4 1337.9,108.9 1333.7,110.4 1329.4,111.8 1325.0,113.3 1320.5,114.8 1316.0,116.3 1311.4,117.7 1306.7,119.2 1302.0,120.7 1297.1,122.1 1292.3,123.6 1287.3,125.1 1282.3,126.6 1277.2,128.0 1272.0,129.5 1266.8,131.0 1261.6,132.5 1256.2,133.9 1250.9,135.4 1245.4,136.9 1240.0,138.4 1234.4,139.8 1228.9,141.3 1223.3,142.8 1217.7,144.2 1212.0,145.7 1206.4,147.2 1200.7,148.7 1195.0,150.1 1189.4,151.6 1183.7,153.1 1178.1,154.6 1172.4,156.0 1166.8,157.5 1161.3,159.0 1155.8,160.5 1150.3,161.9 1144.9,163.4 1139.5,164.9 1134.2,166.3 1128.9,167.8 1123.8,169.3 1118.7,170.8 1113.7,172.2 1108.8,173.7 1104.0,175.2 1099.3,176.7 1094.7,178.1 1090.2,179.6 1085.9,181.1 1081.6,182.6 1077.4,184.0 1073.4,185.5 1069.4,187.0 1065.6,188.4 1061.9,189.9 1058.2,191.4 1054.7,192.9 1051.2,194.3 1047.9,195.8 1044.6,197.3 1041.5,198.8 1038.4,200.2 1035.4,201.7 1032.5,203.2 1029.7,204.7 1027.0,206.1 1024.4,207.6 1021.8,209.1 1019.4,210.5 1017.0,212.0 1014.7,213.5 1012.5,215.0 1010.3,216.4 1008.3,217.9 1006.3,219.4 1004.3,220.9 1002.5,222.3 1000.7,223.8 999.0,225.3 997.4,226.8 995.8,228.2 994.3,229.7 992.9,231.2 991.5,232.6 990.2,234.1 988.9,235.6 987.7,237.1 986.6,238.5 985.5,240.0 984.5,241.5 983.5,243.0 982.6,244.4 981.7,245.9 980.9,247.4 980.1,248.9 979.4,250.3 978.7,251.8 978.1,253.3 977.5,254.7 977.0,256.2 976.5,257.7 976.0,259.2 975.6,260.6 975.2,262.1 974.9,263.6 974.6,265.1 974.3,266.5 974.1,268.0 973.9,269.5 973.7,271.0 973.6,272.4 973.5,273.9 973.5,275.4 973.5,276.8 973.5,278.3 973.5,279.8 973.6,281.3 973.8,282.7 973.9,284.2 974.1,285.7 974.3,287.2 974.6,288.6 974.8,290.1 975.2,291.6 975.5,293.1 975.9,294.5 976.3,296.0 976.7,297.5 977.1,298.9 977.6,300.4 978.1,301.9 978.6,303.4 979.2,304.8 979.8,306.3 980.4,307.8 981.0,309.3 981.7,310.7 982.3,312.2 983.0,313.7 983.8,315.2 984.5,316.6 985.3,318.1 986.0,319.6 986.8,321.0 987.7,322.5 988.5,324.0 989.4,325.5 990.2,326.9 991.1,328.4 992.0,329.9 993.0,331.4 993.9,332.8 994.9,334.3 995.8,335.8 996.8,337.3 997.8,338.7 998.8,340.2 999.9,341.7 1000.9,343.1 1002.0,344.6 1003.0,346.1 1004.1,347.6 1005.2,349.0 1006.3,350.5 1007.4,352.0 1008.5,353.5 1009.6,354.9 1010.7,356.4 1011.9,357.9 1013.0,359.4 1014.2,360.8 1015.3,362.3 1016.5,363.8 1017.6,365.2 1018.8,366.7 1020.0,368.2 1021.2,369.7 1022.3,371.1 1023.5,372.6 1024.7,374.1 1025.9,375.6 1027.1,377.0 1028.3,378.5 1029.5,380.0 1030.7,381.5 1031.9,382.9 1033.1,384.4 1034.3,385.9 1035.5,387.3 1036.7,388.8 1038.0,390.3 1039.2,391.8 1040.4,393.2 1041.6,394.7 1042.9,396.2 1044.1,397.7 1045.3,399.1 1046.6,400.6 1047.8,402.1 1049.1,403.6 1050.3,405.0 1051.6,406.5 1052.8,408.0 1054.1,409.4 1055.3,410.9 1056.6,412.4 1057.9,413.9 1059.2,415.3 1060.4,416.8 1061.7,418.3 1063.0,419.8 1064.3,421.2 1065.6,422.7 1066.9,424.2 1068.1,425.7 1069.4,427.1 1070.7,428.6 1072.0,430.1 1073.4,431.5 1074.7,433.0 1076.0,434.5 1077.3,436.0 1078.6,437.4 1079.9,438.9 1081.3,440.4 1082.6,441.9 1083.9,443.3 1085.3,444.8 1086.6,446.3 1087.9,447.8 1089.3,449.2 1090.6,450.7 1092.0,452.2 1093.4,453.6 1094.7,455.1 1096.1,456.6 1097.4,458.1 1098.8,459.5 1100.2,461.0 1101.6,462.5 1102.9,464.0 1104.3,465.4 1105.7,466.9 1107.1,468.4 1108.5,469.9 1109.9,471.3 1111.3,472.8 1112.7,474.3 1114.1,475.7 1115.5,477.2 1116.9,478.7 1118.4,480.2 1119.8,481.6 1121.2,483.1 1122.6,484.6 1124.1,486.1 1125.5,487.5 1126.9,489.0 1128.4,490.5 1129.8,492.0 1131.3,493.4 1132.7,494.9 1134.2,496.4 1135.7,497.8 1137.1,499.3 1138.6,500.8 1140.1,502.3 1141.5,503.7 1143.0,505.2 1144.5,506.7 1146.0,508.2 1147.5,509.6 1149.0,511.1 1150.5,512.6 1152.0,514.1 1153.5,515.5 1155.0,517.0 1385.8,517.0 1385.6,515.5 1385.3,514.1 1385.0,512.6 1384.7,511.1 1384.4,509.6 1384.0,508.2 1383.6,506.7 1383.2,505.2 1382.7,503.7 1382.3,502.3 1381.8,500.8 1381.2,499.3 1380.7,497.8 1380.1,496.4 1379.5,494.9 1378.8,493.4 1378.2,492.0 1377.5,490.5 1376.8,489.0 1376.0,487.5 1375.3,486.1 1374.5,484.6 1373.7,483.1 1372.9,481.6 1372.0,480.2 1371.2,478.7 1370.3,477.2 1369.4,475.7 1368.4,474.3 1367.5,472.8 1366.5,471.3 1365.5,469.9 1364.5,468.4 1363.5,466.9 1362.5,465.4 1361.4,464.0 1360.3,462.5 1359.2,461.0 1358.1,459.5 1357.0,458.1 1355.8,456.6 1354.7,455.1 1353.5,453.6 1352.3,452.2 1351.1,450.7 1349.9,449.2 1348.6,447.8 1347.4,446.3 1346.1,444.8 1344.9,443.3 1343.6,441.9 1342.3,440.4 1341.0,438.9 1339.7,437.4 1338.3,436.0 1337.0,434.5 1335.6,433.0 1334.3,431.5 1332.9,430.1 1331.5,428.6 1330.1,427.1 1328.7,425.7 1327.3,424.2 1325.9,422.7 1324.5,421.2 1323.1,419.8 1321.7,418.3 1320.2,416.8 1318.8,415.3 1317.3,413.9 1315.9,412.4 1314.4,410.9 1313.0,409.4 1311.5,408.0 1310.0,406.5 1308.6,405.0 1307.1,403.6 1305.6,402.1 1304.1,400.6 1302.7,399.1 1301.2,397.7 1299.7,396.2 1298.2,394.7 1296.7,393.2 1295.2,391.8 1293.8,390.3 1292.3,388.8 1290.8,387.3 1289.3,385.9 1287.9,384.4 1286.4,382.9 1284.9,381.5 1283.4,380.0 1282.0,378.5 1280.5,377.0 1279.1,375.6 1277.6,374.1 1276.2,372.6 1274.7,371.1 1273.3,369.7 1271.9,368.2 1270.4,366.7 1269.0,365.2 1267.6,363.8 1266.2,362.3 1264.8,360.8 1263.5,359.4 1262.1,357.9 1260.7,356.4 1259.4,354.9 1258.0,353.5 1256.7,352.0 1255.3,350.5 1254.0,349.0 1252.7,347.6 1251.4,346.1 1250.2,344.6 1248.9,343.1 1247.6,341.7 1246.4,340.2 1245.2,338.7 1244.0,337.3 1242.8,335.8 1241.6,334.3 1240.4,332.8 1239.3,331.4 1238.1,329.9 1237.0,328.4 1235.9,326.9 1234.8,325.5 1233.7,324.0 1232.7,322.5 1231.6,321.0 1230.6,319.6 1229.6,318.1 1228.6,316.6 1227.7,315.2 1226.7,313.7 1225.8,312.2 1224.9,310.7 1224.0,309.3 1223.2,307.8 1222.3,306.3 1221.5,304.8 1220.7,303.4 1220.0,301.9 1219.2,300.4 1218.5,298.9 1217.8,297.5 1217.1,296.0 1216.5,294.5 1215.9,293.1 1215.3,291.6 1214.7,290.1 1214.1,288.6 1213.6,287.2 1213.1,285.7 1212.6,284.2 1212.2,282.7 1211.8,281.3 1211.4,279.8 1211.1,278.3 1210.7,276.8 1210.4,275.4 1210.2,273.9 1209.9,272.4 1209.7,271.0 1209.5,269.5 1209.4,268.0 1209.3,266.5 1209.2,265.1 1209.2,263.6 1209.1,262.1 1209.2,260.6 1209.2,259.2 1209.3,257.7 1209.4,256.2 1209.6,254.7 1209.7,253.3 1210.0,251.8 1210.2,250.3 1210.5,248.9 1210.9,247.4 1211.2,245.9 1211.6,244.4 1212.1,243.0 1212.6,241.5 1213.1,240.0 1213.7,238.5 1214.3,237.1 1214.9,235.6 1215.6,234.1 1216.3,232.6 1217.1,231.2 1217.9,229.7 1218.8,228.2 1219.7,226.8 1220.6,225.3 1221.6,223.8 1222.6,222.3 1223.7,220.9 1224.8,219.4 1226.0,217.9 1227.2,216.4 1228.5,215.0 1229.8,213.5 1231.1,212.0 1232.6,210.5 1234.0,209.1 1235.5,207.6 1237.1,206.1 1238.7,204.7 1240.3,203.2 1242.0,201.7 1243.8,200.2 1245.6,198.8 1247.5,197.3 1249.4,195.8 1251.3,194.3 1253.4,192.9 1255.4,191.4 1257.6,189.9 1259.8,188.4 1262.0,187.0 1264.3,185.5 1266.7,184.0 1269.1,182.6 1271.5,181.1 1274.1,179.6 1276.7,178.1 1279.3,176.7 1282.0,175.2 1284.8,173.7 1287.6,172.2 1290.5,170.8 1293.4,169.3 1296.4,167.8 1299.5,166.3 1302.7,164.9 1305.8,163.4 1309.1,161.9 1312.4,160.5 1315.8,159.0 1319.2,157.5 1322.7,156.0 1326.2,154.6 1329.7,153.1 1333.2,151.6 1336.8,150.1 1340.4,148.7 1343.9,147.2 1347.5,145.7 1351.1,144.2 1354.7,142.8 1358.2,141.3 1361.7,139.8 1365.2,138.4 1368.7,136.9 1372.1,135.4 1375.5,133.9 1378.8,132.5 1382.1,131.0 1385.3,129.5 1388.5,128.0 1391.6,126.6 1394.5,125.1 1397.5,123.6 1400.3,122.1 1403.0,120.7 1405.6,119.2 1408.1,117.7 1410.5,116.3 1412.8,114.8 1415.0,113.3 1417.0,111.8 1418.9,110.4 1420.7,108.9 1422.3,107.4 1423.7,105.9 1425.0,104.5 1385.0,88.3 1326.0,75.0" fill="#3DBCC8" fill-opacity="0.2"/><line x1="1326.3" y1="517.0" x2="1326.3" y2="75.0" stroke="#2B6CB0" stroke-width="1.5" stroke-dasharray="14.4 8.7"/></g><defs><clipPath id="clipc"><rect x="131.4" y="690.0" width="578.9" height="442.20000000000005"/></clipPath></defs><g clip-path="url(#clipc)"><polygon points="130.0,690.0 168.0,704.7 171.6,706.2 175.2,707.7 178.7,709.2 182.2,710.6 185.6,712.1 189.0,713.6 192.4,715.1 195.7,716.5 199.0,718.0 202.2,719.5 205.4,721.0 208.5,722.4 211.6,723.9 214.7,725.4 217.7,726.9 220.7,728.3 223.6,729.8 226.5,731.3 229.4,732.7 232.2,734.2 235.0,735.7 237.7,737.2 240.4,738.6 243.1,740.1 245.7,741.6 248.3,743.1 250.9,744.5 253.4,746.0 255.9,747.5 258.3,749.0 260.8,750.4 263.2,751.9 265.5,753.4 267.8,754.9 270.1,756.3 272.4,757.8 274.6,759.3 276.8,760.8 278.9,762.2 281.1,763.7 283.2,765.2 285.2,766.6 287.3,768.1 289.3,769.6 291.3,771.1 293.2,772.5 295.2,774.0 297.0,775.5 298.9,777.0 300.8,778.4 302.6,779.9 304.4,781.4 306.1,782.9 307.9,784.3 309.6,785.8 311.3,787.3 312.9,788.8 314.6,790.2 316.2,791.7 317.8,793.2 319.4,794.7 320.9,796.1 322.5,797.6 324.0,799.1 325.5,800.5 326.9,802.0 328.4,803.5 329.8,805.0 331.2,806.4 332.6,807.9 334.0,809.4 335.3,810.9 336.7,812.3 338.0,813.8 339.3,815.3 340.6,816.8 341.9,818.2 343.2,819.7 344.4,821.2 345.7,822.7 346.9,824.1 348.1,825.6 349.3,827.1 350.5,828.6 351.6,830.0 352.8,831.5 354.0,833.0 355.1,834.5 356.2,835.9 357.4,837.4 358.5,838.9 359.6,840.3 360.7,841.8 361.8,843.3 362.9,844.8 363.9,846.2 365.0,847.7 366.1,849.2 367.1,850.7 368.2,852.1 369.2,853.6 370.3,855.1 371.3,856.6 372.4,858.0 373.4,859.5 374.4,861.0 375.5,862.5 376.5,863.9 377.5,865.4 378.6,866.9 379.6,868.4 380.6,869.8 381.7,871.3 382.7,872.8 383.7,874.2 384.8,875.7 385.8,877.2 386.8,878.7 387.9,880.1 388.9,881.6 389.9,883.1 391.0,884.6 392.0,886.0 393.0,887.5 394.0,889.0 395.1,890.5 396.1,891.9 397.1,893.4 398.2,894.9 399.2,896.4 400.2,897.8 401.2,899.3 402.2,900.8 403.3,902.3 404.3,903.7 405.3,905.2 406.3,906.7 407.3,908.2 408.3,909.6 409.3,911.1 410.4,912.6 411.4,914.0 412.4,915.5 413.4,917.0 414.4,918.5 415.3,919.9 416.3,921.4 417.3,922.9 418.3,924.4 419.3,925.8 420.3,927.3 421.3,928.8 422.2,930.3 423.2,931.7 424.2,933.2 425.1,934.7 426.1,936.2 427.0,937.6 428.0,939.1 428.9,940.6 429.9,942.1 430.8,943.5 431.8,945.0 432.7,946.5 433.6,948.0 434.6,949.4 435.5,950.9 436.4,952.4 437.3,953.8 438.2,955.3 439.1,956.8 440.0,958.3 440.9,959.7 441.8,961.2 442.7,962.7 443.5,964.2 444.4,965.6 445.3,967.1 446.1,968.6 447.0,970.1 447.8,971.5 448.7,973.0 449.5,974.5 450.3,976.0 451.1,977.4 452.0,978.9 452.8,980.4 453.6,981.9 454.4,983.3 455.2,984.8 455.9,986.3 456.7,987.7 457.5,989.2 458.3,990.7 459.0,992.2 459.8,993.6 460.5,995.1 461.2,996.6 462.0,998.1 462.7,999.5 463.4,1001.0 464.1,1002.5 464.8,1004.0 465.5,1005.4 466.2,1006.9 466.8,1008.4 467.5,1009.9 468.2,1011.3 468.8,1012.8 469.5,1014.3 470.1,1015.8 470.7,1017.2 471.3,1018.7 471.9,1020.2 472.5,1021.7 473.1,1023.1 473.7,1024.6 474.3,1026.1 474.8,1027.5 475.4,1029.0 475.9,1030.5 476.4,1032.0 477.0,1033.4 477.5,1034.9 478.0,1036.4 478.5,1037.9 479.0,1039.3 479.4,1040.8 479.9,1042.3 480.3,1043.8 480.8,1045.2 481.2,1046.7 481.6,1048.2 482.1,1049.7 482.5,1051.1 482.8,1052.6 483.2,1054.1 483.6,1055.6 483.9,1057.0 484.3,1058.5 484.6,1060.0 485.0,1061.4 485.3,1062.9 485.6,1064.4 485.9,1065.9 486.1,1067.3 486.4,1068.8 486.6,1070.3 486.9,1071.8 487.1,1073.2 487.3,1074.7 487.5,1076.2 487.7,1077.7 487.9,1079.1 488.1,1080.6 488.2,1082.1 488.4,1083.6 488.5,1085.0 488.6,1086.5 488.7,1088.0 488.8,1089.5 488.9,1090.9 489.0,1092.4 489.0,1093.9 489.1,1095.3 489.1,1096.8 489.1,1098.3 489.1,1099.8 489.1,1101.2 489.0,1102.7 489.0,1104.2 488.9,1105.7 488.9,1107.1 488.8,1108.6 488.7,1110.1 488.6,1111.6 488.4,1113.0 488.3,1114.5 488.1,1116.0 488.0,1117.5 487.8,1118.9 487.6,1120.4 487.3,1121.9 487.1,1123.4 486.9,1124.8 486.6,1126.3 486.3,1127.8 486.0,1129.3 485.7,1130.7 485.5,1131.5 573.0,1131.5 572.9,1130.7 572.8,1129.3 572.7,1127.8 572.6,1126.3 572.5,1124.8 572.5,1123.4 572.4,1121.9 572.4,1120.4 572.3,1118.9 572.3,1117.5 572.3,1116.0 572.3,1114.5 572.3,1113.0 572.3,1111.6 572.3,1110.1 572.3,1108.6 572.4,1107.1 572.4,1105.7 572.4,1104.2 572.5,1102.7 572.6,1101.2 572.6,1099.8 572.7,1098.3 572.7,1096.8 572.8,1095.3 572.9,1093.9 573.0,1092.4 573.1,1090.9 573.1,1089.5 573.2,1088.0 573.3,1086.5 573.4,1085.0 573.5,1083.6 573.6,1082.1 573.7,1080.6 573.7,1079.1 573.8,1077.7 573.9,1076.2 574.0,1074.7 574.1,1073.2 574.1,1071.8 574.2,1070.3 574.3,1068.8 574.3,1067.3 574.4,1065.9 574.4,1064.4 574.5,1062.9 574.5,1061.4 574.5,1060.0 574.6,1058.5 574.6,1057.0 574.6,1055.6 574.6,1054.1 574.6,1052.6 574.6,1051.1 574.5,1049.7 574.5,1048.2 574.4,1046.7 574.4,1045.2 574.3,1043.8 574.2,1042.3 574.1,1040.8 574.0,1039.3 573.9,1037.9 573.7,1036.4 573.6,1034.9 573.4,1033.4 573.2,1032.0 573.0,1030.5 572.8,1029.0 572.6,1027.5 572.4,1026.1 572.1,1024.6 571.8,1023.1 571.5,1021.7 571.2,1020.2 570.9,1018.7 570.5,1017.2 570.1,1015.8 569.7,1014.3 569.3,1012.8 568.9,1011.3 568.4,1009.9 567.9,1008.4 567.4,1006.9 566.9,1005.4 566.3,1004.0 565.8,1002.5 565.2,1001.0 564.6,999.5 563.9,998.1 563.2,996.6 562.5,995.1 561.8,993.6 561.1,992.2 560.3,990.7 559.5,989.2 558.6,987.7 557.8,986.3 556.9,984.8 556.0,983.3 555.0,981.9 554.0,980.4 553.0,978.9 552.0,977.4 550.9,976.0 549.8,974.5 548.6,973.0 547.5,971.5 546.3,970.1 545.0,968.6 543.8,967.1 542.5,965.6 541.1,964.2 539.8,962.7 538.4,961.2 537.0,959.7 535.6,958.3 534.3,956.8 532.9,955.3 531.5,953.8 530.1,952.4 528.7,950.9 527.4,949.4 526.1,948.0 524.8,946.5 523.5,945.0 522.3,943.5 521.1,942.1 520.0,940.6 518.9,939.1 517.8,937.6 516.8,936.2 515.9,934.7 514.9,933.2 514.1,931.7 513.2,930.3 512.4,928.8 511.6,927.3 510.8,925.8 510.1,924.4 509.4,922.9 508.7,921.4 508.0,919.9 507.4,918.5 506.7,917.0 506.1,915.5 505.4,914.0 504.8,912.6 504.1,911.1 503.5,909.6 502.8,908.2 502.2,906.7 501.5,905.2 500.8,903.7 500.1,902.3 499.4,900.8 498.7,899.3 497.9,897.8 497.2,896.4 496.4,894.9 495.7,893.4 494.9,891.9 494.1,890.5 493.3,889.0 492.5,887.5 491.7,886.0 490.8,884.6 490.0,883.1 489.2,881.6 488.3,880.1 487.4,878.7 486.6,877.2 485.7,875.7 484.8,874.2 483.9,872.8 483.0,871.3 482.1,869.8 481.2,868.4 480.2,866.9 479.3,865.4 478.3,863.9 477.4,862.5 476.4,861.0 475.5,859.5 474.5,858.0 473.5,856.6 472.5,855.1 471.5,853.6 470.5,852.1 469.5,850.7 468.5,849.2 467.5,847.7 466.5,846.2 465.5,844.8 464.4,843.3 463.4,841.8 462.3,840.3 461.3,838.9 460.2,837.4 459.2,835.9 458.1,834.5 457.0,833.0 455.9,831.5 454.8,830.0 453.7,828.6 452.6,827.1 451.5,825.6 450.4,824.1 449.3,822.7 448.1,821.2 447.0,819.7 445.9,818.2 444.7,816.8 443.5,815.3 442.4,813.8 441.2,812.3 440.0,810.9 438.8,809.4 437.7,807.9 436.5,806.4 435.3,805.0 434.0,803.5 432.8,802.0 431.6,800.5 430.4,799.1 429.1,797.6 427.9,796.1 426.6,794.7 425.4,793.2 424.1,791.7 422.8,790.2 421.5,788.8 420.1,787.3 418.8,785.8 417.3,784.3 415.8,782.9 414.3,781.4 412.7,779.9 411.0,778.4 409.3,777.0 407.4,775.5 405.5,774.0 403.4,772.5 401.2,771.1 399.0,769.6 396.6,768.1 394.0,766.6 391.4,765.2 388.6,763.7 385.6,762.2 382.5,760.8 379.2,759.3 375.7,757.8 372.1,756.3 368.3,754.9 364.4,753.4 360.3,751.9 356.1,750.4 351.7,749.0 347.2,747.5 342.6,746.0 337.9,744.5 333.0,743.1 328.0,741.6 323.0,740.1 317.8,738.6 312.5,737.2 307.1,735.7 301.7,734.2 296.1,732.7 290.5,731.3 284.8,729.8 279.1,728.3 273.3,726.9 267.4,725.4 261.5,723.9 255.5,722.4 249.5,721.0 243.4,719.5 237.3,718.0 231.2,716.5 225.1,715.1 219.0,713.6 212.8,712.1 206.6,710.6 200.5,709.2 194.3,707.7 188.1,706.2 182.0,704.7 130.0,690.0" fill="#F2426A" fill-opacity="0.2"/><polygon points="130.0,690.0 176.0,704.7 181.1,706.2 186.1,707.7 191.1,709.2 195.9,710.6 200.7,712.1 205.3,713.6 209.9,715.1 214.4,716.5 218.8,718.0 223.1,719.5 227.3,721.0 231.5,722.4 235.5,723.9 239.5,725.4 243.4,726.9 247.3,728.3 251.0,729.8 254.7,731.3 258.3,732.7 261.8,734.2 265.3,735.7 268.7,737.2 272.0,738.6 275.2,740.1 278.4,741.6 281.5,743.1 284.6,744.5 287.6,746.0 290.5,747.5 293.3,749.0 296.1,750.4 298.9,751.9 301.5,753.4 304.2,754.9 306.7,756.3 309.3,757.8 311.7,759.3 314.1,760.8 316.5,762.2 318.8,763.7 321.0,765.2 323.2,766.6 325.4,768.1 327.5,769.6 329.6,771.1 331.6,772.5 333.6,774.0 335.6,775.5 337.5,777.0 339.3,778.4 341.2,779.9 342.9,781.4 344.7,782.9 346.4,784.3 348.1,785.8 349.8,787.3 351.4,788.8 353.0,790.2 354.6,791.7 356.1,793.2 357.7,794.7 359.2,796.1 360.6,797.6 362.1,799.1 363.5,800.5 364.9,802.0 366.3,803.5 367.7,805.0 369.0,806.4 370.3,807.9 371.7,809.4 373.0,810.9 374.2,812.3 375.5,813.8 376.7,815.3 378.0,816.8 379.2,818.2 380.4,819.7 381.5,821.2 382.7,822.7 383.9,824.1 385.0,825.6 386.1,827.1 387.2,828.6 388.3,830.0 389.4,831.5 390.5,833.0 391.5,834.5 392.5,835.9 393.6,837.4 394.6,838.9 395.6,840.3 396.6,841.8 397.6,843.3 398.6,844.8 399.5,846.2 400.5,847.7 401.4,849.2 402.4,850.7 403.3,852.1 404.2,853.6 405.1,855.1 406.0,856.6 406.9,858.0 407.8,859.5 408.7,861.0 409.6,862.5 410.4,863.9 411.3,865.4 412.2,866.9 413.0,868.4 413.9,869.8 414.7,871.3 415.6,872.8 416.4,874.2 417.2,875.7 418.1,877.2 418.9,878.7 419.7,880.1 420.6,881.6 421.4,883.1 422.2,884.6 423.0,886.0 423.9,887.5 424.7,889.0 425.5,890.5 426.3,891.9 427.2,893.4 428.0,894.9 428.8,896.4 429.6,897.8 430.5,899.3 431.3,900.8 432.1,902.3 433.0,903.7 433.8,905.2 434.7,906.7 435.5,908.2 436.4,909.6 437.2,911.1 438.1,912.6 439.0,914.0 439.8,915.5 440.7,917.0 441.6,918.5 442.5,919.9 443.4,921.4 444.3,922.9 445.2,924.4 446.1,925.8 447.0,927.3 447.9,928.8 448.8,930.3 449.8,931.7 450.7,933.2 451.6,934.7 452.5,936.2 453.5,937.6 454.4,939.1 455.3,940.6 456.3,942.1 457.2,943.5 458.2,945.0 459.1,946.5 460.0,948.0 461.0,949.4 461.9,950.9 462.9,952.4 463.8,953.8 464.8,955.3 465.7,956.8 466.7,958.3 467.6,959.7 468.6,961.2 469.5,962.7 470.5,964.2 471.4,965.6 472.4,967.1 473.3,968.6 474.3,970.1 475.2,971.5 476.1,973.0 477.1,974.5 478.0,976.0 479.0,977.4 479.9,978.9 480.8,980.4 481.8,981.9 482.7,983.3 483.6,984.8 484.6,986.3 485.5,987.7 486.4,989.2 487.3,990.7 488.2,992.2 489.1,993.6 490.0,995.1 491.0,996.6 491.9,998.1 492.7,999.5 493.6,1001.0 494.5,1002.5 495.4,1004.0 496.3,1005.4 497.2,1006.9 498.0,1008.4 498.9,1009.9 499.7,1011.3 500.6,1012.8 501.4,1014.3 502.3,1015.8 503.1,1017.2 503.9,1018.7 504.8,1020.2 505.6,1021.7 506.4,1023.1 507.2,1024.6 508.0,1026.1 508.8,1027.5 509.5,1029.0 510.3,1030.5 511.1,1032.0 511.8,1033.4 512.6,1034.9 513.3,1036.4 514.1,1037.9 514.8,1039.3 515.5,1040.8 516.2,1042.3 516.9,1043.8 517.6,1045.2 518.3,1046.7 519.0,1048.2 519.6,1049.7 520.3,1051.1 520.9,1052.6 521.6,1054.1 522.2,1055.6 522.8,1057.0 523.4,1058.5 524.0,1060.0 524.6,1061.4 525.1,1062.9 525.7,1064.4 526.2,1065.9 526.8,1067.3 527.3,1068.8 527.8,1070.3 528.3,1071.8 528.8,1073.2 529.3,1074.7 529.8,1076.2 530.2,1077.7 530.7,1079.1 531.1,1080.6 531.5,1082.1 531.9,1083.6 532.3,1085.0 532.7,1086.5 533.0,1088.0 533.4,1089.5 533.7,1090.9 534.0,1092.4 534.4,1093.9 534.6,1095.3 534.9,1096.8 535.2,1098.3 535.4,1099.8 535.7,1101.2 535.9,1102.7 536.1,1104.2 536.3,1105.7 536.5,1107.1 536.6,1108.6 536.8,1110.1 536.9,1111.6 537.0,1113.0 537.1,1114.5 537.2,1116.0 537.2,1117.5 537.3,1118.9 537.3,1120.4 537.3,1121.9 537.3,1123.4 537.3,1124.8 537.2,1126.3 537.2,1127.8 537.1,1129.3 537.0,1130.7 536.9,1131.5 601.4,1131.5 601.7,1130.6 602.1,1129.1 602.4,1127.6 602.8,1126.2 603.1,1124.7 603.5,1123.2 603.8,1121.7 604.1,1120.3 604.4,1118.8 604.7,1117.3 604.9,1115.8 605.2,1114.4 605.4,1112.9 605.6,1111.4 605.8,1109.9 606.0,1108.5 606.2,1107.0 606.3,1105.5 606.5,1104.0 606.6,1102.6 606.7,1101.1 606.8,1099.6 606.9,1098.2 607.0,1096.7 607.1,1095.2 607.1,1093.7 607.2,1092.3 607.2,1090.8 607.2,1089.3 607.2,1087.8 607.2,1086.4 607.2,1084.9 607.2,1083.4 607.1,1081.9 607.1,1080.5 607.0,1079.0 606.9,1077.5 606.8,1076.0 606.7,1074.6 606.6,1073.1 606.4,1071.6 606.3,1070.1 606.1,1068.7 606.0,1067.2 605.8,1065.7 605.6,1064.2 605.4,1062.8 605.2,1061.3 605.0,1059.8 604.7,1058.4 604.5,1056.9 604.2,1055.4 603.9,1053.9 603.7,1052.5 603.4,1051.0 603.1,1049.5 602.7,1048.0 602.4,1046.6 602.1,1045.1 601.7,1043.6 601.4,1042.1 601.0,1040.7 600.6,1039.2 600.2,1037.7 599.8,1036.2 599.4,1034.8 599.0,1033.3 598.6,1031.8 598.1,1030.3 597.7,1028.9 597.2,1027.4 596.8,1025.9 596.3,1024.5 595.8,1023.0 595.3,1021.5 594.8,1020.0 594.3,1018.6 593.8,1017.1 593.2,1015.6 592.7,1014.1 592.1,1012.7 591.6,1011.2 591.0,1009.7 590.4,1008.2 589.8,1006.8 589.2,1005.3 588.6,1003.8 588.0,1002.3 587.4,1000.9 586.8,999.4 586.1,997.9 585.5,996.4 584.8,995.0 584.2,993.5 583.5,992.0 582.8,990.5 582.1,989.1 581.4,987.6 580.7,986.1 580.0,984.7 579.3,983.2 578.6,981.7 577.8,980.2 577.1,978.8 576.4,977.3 575.6,975.8 574.8,974.3 574.1,972.9 573.3,971.4 572.5,969.9 571.7,968.4 570.9,967.0 570.1,965.5 569.3,964.0 568.5,962.5 567.7,961.1 566.8,959.6 566.0,958.1 565.2,956.6 564.3,955.2 563.5,953.7 562.6,952.2 561.7,950.8 560.9,949.3 560.0,947.8 559.1,946.3 558.2,944.9 557.3,943.4 556.4,941.9 555.5,940.4 554.6,939.0 553.7,937.5 552.8,936.0 551.9,934.5 550.9,933.1 550.0,931.6 549.0,930.1 548.1,928.6 547.1,927.2 546.2,925.7 545.2,924.2 544.3,922.7 543.3,921.3 542.3,919.8 541.3,918.3 540.4,916.8 539.4,915.4 538.4,913.9 537.4,912.4 536.4,911.0 535.4,909.5 534.4,908.0 533.4,906.5 532.4,905.1 531.3,903.6 530.3,902.1 529.3,900.6 528.3,899.2 527.2,897.7 526.2,896.2 525.2,894.7 524.1,893.3 523.1,891.8 522.0,890.3 521.0,888.8 519.9,887.4 518.9,885.9 517.8,884.4 516.8,882.9 515.7,881.5 514.6,880.0 513.6,878.5 512.5,877.1 511.4,875.6 510.4,874.1 509.3,872.6 508.2,871.2 507.1,869.7 506.1,868.2 505.0,866.7 503.9,865.3 502.8,863.8 501.7,862.3 500.6,860.8 499.5,859.4 498.4,857.9 497.3,856.4 496.3,854.9 495.2,853.5 494.1,852.0 493.0,850.5 491.9,849.0 490.8,847.6 489.7,846.1 488.6,844.6 487.5,843.1 486.4,841.7 485.3,840.2 484.2,838.7 483.1,837.3 482.0,835.8 480.9,834.3 479.7,832.8 478.6,831.4 477.5,829.9 476.4,828.4 475.2,826.9 474.1,825.5 472.9,824.0 471.7,822.5 470.6,821.0 469.4,819.6 468.1,818.1 466.9,816.6 465.7,815.1 464.4,813.7 463.1,812.2 461.8,810.7 460.5,809.2 459.1,807.8 457.7,806.3 456.3,804.8 454.9,803.4 453.4,801.9 451.9,800.4 450.4,798.9 448.9,797.5 447.3,796.0 445.6,794.5 444.0,793.0 442.3,791.6 440.6,790.1 438.8,788.6 437.0,787.1 435.2,785.7 433.3,784.2 431.3,782.7 429.4,781.2 427.3,779.8 425.3,778.3 423.2,776.8 421.0,775.3 418.8,773.9 416.5,772.4 414.2,770.9 411.8,769.4 409.4,768.0 406.9,766.5 404.4,765.0 401.8,763.6 399.2,762.1 396.5,760.6 393.7,759.1 390.9,757.7 387.9,756.2 385.0,754.7 381.9,753.2 378.7,751.8 375.5,750.3 372.1,748.8 368.6,747.3 365.0,745.9 361.3,744.4 357.4,742.9 353.4,741.4 349.3,740.0 345.0,738.5 340.6,737.0 336.0,735.5 331.2,734.1 326.2,732.6 321.1,731.1 315.8,729.7 310.2,728.2 304.5,726.7 298.6,725.2 292.4,723.8 286.0,722.3 279.4,720.8 272.6,719.3 265.5,717.9 165.0,697.4 130.0,690.0" fill="#4F1B4D" fill-opacity="0.2"/><polygon points="130.0,690.0 162.0,704.7 166.1,706.2 170.2,707.7 174.2,709.2 178.1,710.6 182.0,712.1 185.7,713.6 189.4,715.1 193.0,716.5 196.6,718.0 200.0,719.5 203.4,721.0 206.8,722.4 210.0,723.9 213.2,725.4 216.4,726.9 219.4,728.3 222.5,729.8 225.4,731.3 228.3,732.7 231.1,734.2 233.9,735.7 236.6,737.2 239.2,738.6 241.8,740.1 244.4,741.6 246.8,743.1 249.3,744.5 251.7,746.0 254.0,747.5 256.3,749.0 258.5,750.4 260.7,751.9 262.8,753.4 264.9,754.9 266.9,756.3 268.9,757.8 270.9,759.3 272.8,760.8 274.7,762.2 276.5,763.7 278.3,765.2 280.1,766.6 281.8,768.1 283.5,769.6 285.2,771.1 286.8,772.5 288.4,774.0 289.9,775.5 291.5,777.0 292.9,778.4 294.4,779.9 295.8,781.4 297.2,782.9 298.6,784.3 300.0,785.8 301.3,787.3 302.6,788.8 303.8,790.2 305.1,791.7 306.3,793.2 307.5,794.7 308.6,796.1 309.8,797.6 310.9,799.1 312.0,800.5 313.1,802.0 314.1,803.5 315.2,805.0 316.2,806.4 317.2,807.9 318.2,809.4 319.1,810.9 320.1,812.3 321.0,813.8 321.9,815.3 322.9,816.8 323.8,818.2 324.6,819.7 325.5,821.2 326.4,822.7 327.2,824.1 328.1,825.6 328.9,827.1 329.7,828.6 330.5,830.0 331.3,831.5 332.1,833.0 332.9,834.5 333.7,835.9 334.5,837.4 335.3,838.9 336.1,840.3 336.8,841.8 337.6,843.3 338.4,844.8 339.2,846.2 339.9,847.7 340.7,849.2 341.5,850.7 342.3,852.1 343.1,853.6 343.9,855.1 344.6,856.6 345.4,858.0 346.2,859.5 347.1,861.0 347.9,862.5 348.7,863.9 349.5,865.4 350.3,866.9 351.2,868.4 352.0,869.8 352.9,871.3 353.7,872.8 354.5,874.2 355.4,875.7 356.3,877.2 357.1,878.7 358.0,880.1 358.9,881.6 359.7,883.1 360.6,884.6 361.5,886.0 362.4,887.5 363.3,889.0 364.2,890.5 365.1,891.9 366.0,893.4 366.9,894.9 367.8,896.4 368.7,897.8 369.6,899.3 370.5,900.8 371.4,902.3 372.3,903.7 373.3,905.2 374.2,906.7 375.1,908.2 376.0,909.6 377.0,911.1 377.9,912.6 378.8,914.0 379.8,915.5 380.7,917.0 381.6,918.5 382.6,919.9 383.5,921.4 384.4,922.9 385.4,924.4 386.3,925.8 387.3,927.3 388.2,928.8 389.2,930.3 390.1,931.7 391.0,933.2 392.0,934.7 392.9,936.2 393.9,937.6 394.8,939.1 395.8,940.6 396.7,942.1 397.7,943.5 398.6,945.0 399.5,946.5 400.5,948.0 401.4,949.4 402.4,950.9 403.3,952.4 404.2,953.8 405.2,955.3 406.1,956.8 407.1,958.3 408.0,959.7 408.9,961.2 409.9,962.7 410.8,964.2 411.7,965.6 412.6,967.1 413.6,968.6 414.5,970.1 415.4,971.5 416.3,973.0 417.2,974.5 418.1,976.0 419.0,977.4 420.0,978.9 420.9,980.4 421.8,981.9 422.7,983.3 423.5,984.8 424.4,986.3 425.3,987.7 426.2,989.2 427.1,990.7 428.0,992.2 428.8,993.6 429.7,995.1 430.6,996.6 431.4,998.1 432.3,999.5 433.1,1001.0 434.0,1002.5 434.8,1004.0 435.7,1005.4 436.5,1006.9 437.3,1008.4 438.2,1009.9 439.0,1011.3 439.8,1012.8 440.6,1014.3 441.4,1015.8 442.2,1017.2 443.0,1018.7 443.8,1020.2 444.6,1021.7 445.3,1023.1 446.1,1024.6 446.9,1026.1 447.6,1027.5 448.4,1029.0 449.1,1030.5 449.9,1032.0 450.6,1033.4 451.3,1034.9 452.1,1036.4 452.8,1037.9 453.5,1039.3 454.2,1040.8 454.9,1042.3 455.6,1043.8 456.2,1045.2 456.9,1046.7 457.6,1048.2 458.2,1049.7 458.9,1051.1 459.5,1052.6 460.1,1054.1 460.8,1055.6 461.4,1057.0 462.0,1058.5 462.6,1060.0 463.2,1061.4 463.8,1062.9 464.3,1064.4 464.9,1065.9 465.5,1067.3 466.0,1068.8 466.5,1070.3 467.1,1071.8 467.6,1073.2 468.1,1074.7 468.6,1076.2 469.1,1077.7 469.6,1079.1 470.1,1080.6 470.5,1082.1 471.0,1083.6 471.4,1085.0 471.8,1086.5 472.3,1088.0 472.7,1089.5 473.1,1090.9 473.5,1092.4 473.9,1093.9 474.2,1095.3 474.6,1096.8 474.9,1098.3 475.3,1099.8 475.6,1101.2 475.9,1102.7 476.2,1104.2 476.5,1105.7 476.8,1107.1 477.1,1108.6 477.3,1110.1 477.6,1111.6 477.8,1113.0 478.0,1114.5 478.2,1116.0 478.4,1117.5 478.6,1118.9 478.8,1120.4 478.9,1121.9 479.1,1123.4 479.2,1124.8 479.3,1126.3 479.4,1127.8 479.5,1129.3 479.6,1130.7 479.7,1131.5 556.3,1131.5 556.0,1130.7 555.4,1129.3 554.8,1127.8 554.3,1126.3 553.9,1124.8 553.4,1123.4 553.0,1121.9 552.7,1120.4 552.3,1118.9 552.0,1117.5 551.8,1116.0 551.5,1114.5 551.3,1113.0 551.1,1111.6 551.0,1110.1 550.9,1108.6 550.8,1107.1 550.7,1105.7 550.6,1104.2 550.6,1102.7 550.5,1101.2 550.5,1099.8 550.5,1098.3 550.5,1096.8 550.6,1095.3 550.6,1093.9 550.7,1092.4 550.7,1090.9 550.8,1089.5 550.8,1088.0 550.9,1086.5 551.0,1085.0 551.1,1083.6 551.1,1082.1 551.2,1080.6 551.3,1079.1 551.3,1077.7 551.4,1076.2 551.4,1074.7 551.5,1073.2 551.5,1071.8 551.5,1070.3 551.5,1068.8 551.5,1067.3 551.5,1065.9 551.4,1064.4 551.4,1062.9 551.3,1061.4 551.2,1060.0 551.1,1058.5 550.9,1057.0 550.7,1055.6 550.5,1054.1 550.3,1052.6 550.0,1051.1 549.8,1049.7 549.4,1048.2 549.1,1046.7 548.7,1045.2 548.2,1043.8 547.8,1042.3 547.3,1040.8 546.8,1039.3 546.2,1037.9 545.6,1036.4 545.0,1034.9 544.4,1033.4 543.7,1032.0 543.0,1030.5 542.3,1029.0 541.5,1027.5 540.8,1026.1 540.0,1024.6 539.1,1023.1 538.3,1021.7 537.4,1020.2 536.5,1018.7 535.6,1017.2 534.7,1015.8 533.8,1014.3 532.8,1012.8 531.9,1011.3 530.9,1009.9 529.9,1008.4 528.8,1006.9 527.8,1005.4 526.8,1004.0 525.7,1002.5 524.6,1001.0 523.6,999.5 522.5,998.1 521.4,996.6 520.3,995.1 519.2,993.6 518.1,992.2 517.0,990.7 515.8,989.2 514.7,987.7 513.6,986.3 512.4,984.8 511.3,983.3 510.2,981.9 509.1,980.4 507.9,978.9 506.8,977.4 505.7,976.0 504.5,974.5 503.4,973.0 502.3,971.5 501.2,970.1 500.1,968.6 499.0,967.1 497.9,965.6 496.9,964.2 495.8,962.7 494.7,961.2 493.7,959.7 492.6,958.3 491.6,956.8 490.6,955.3 489.6,953.8 488.5,952.4 487.5,950.9 486.5,949.4 485.5,948.0 484.6,946.5 483.6,945.0 482.6,943.5 481.6,942.1 480.7,940.6 479.7,939.1 478.8,937.6 477.9,936.2 476.9,934.7 476.0,933.2 475.1,931.7 474.2,930.3 473.3,928.8 472.4,927.3 471.5,925.8 470.6,924.4 469.7,922.9 468.9,921.4 468.0,919.9 467.2,918.5 466.3,917.0 465.5,915.5 464.6,914.0 463.8,912.6 463.0,911.1 462.2,909.6 461.3,908.2 460.5,906.7 459.7,905.2 458.9,903.7 458.2,902.3 457.4,900.8 456.6,899.3 455.8,897.8 455.1,896.4 454.3,894.9 453.6,893.4 452.8,891.9 452.1,890.5 451.4,889.0 450.6,887.5 449.9,886.0 449.2,884.6 448.5,883.1 447.8,881.6 447.1,880.1 446.4,878.7 445.7,877.2 445.0,875.7 444.3,874.2 443.7,872.8 443.0,871.3 442.3,869.8 441.7,868.4 441.0,866.9 440.4,865.4 439.7,863.9 439.1,862.5 438.5,861.0 437.9,859.5 437.2,858.0 436.6,856.6 436.0,855.1 435.4,853.6 434.7,852.1 434.1,850.7 433.5,849.2 432.8,847.7 432.2,846.2 431.5,844.8 430.9,843.3 430.2,841.8 429.5,840.3 428.9,838.9 428.2,837.4 427.5,835.9 426.7,834.5 426.0,833.0 425.3,831.5 424.5,830.0 423.7,828.6 422.9,827.1 422.1,825.6 421.2,824.1 420.4,822.7 419.5,821.2 418.6,819.7 417.7,818.2 416.7,816.8 415.7,815.3 414.7,813.8 413.7,812.3 412.6,810.9 411.5,809.4 410.4,807.9 409.2,806.4 408.0,805.0 406.8,803.5 405.5,802.0 404.3,800.5 402.9,799.1 401.5,797.6 400.1,796.1 398.7,794.7 397.2,793.2 395.7,791.7 394.1,790.2 392.5,788.8 390.8,787.3 389.1,785.8 387.4,784.3 385.6,782.9 383.7,781.4 381.8,779.9 379.9,778.4 377.9,777.0 375.8,775.5 373.7,774.0 371.5,772.5 369.3,771.1 367.1,769.6 364.7,768.1 362.3,766.6 359.9,765.2 357.4,763.7 354.8,762.2 352.2,760.8 349.5,759.3 346.7,757.8 343.8,756.3 340.8,754.9 337.8,753.4 334.6,751.9 331.3,750.4 328.0,749.0 324.5,747.5 320.9,746.0 317.1,744.5 313.2,743.1 309.2,741.6 305.1,740.1 300.8,738.6 296.3,737.2 291.7,735.7 286.9,734.2 282.0,732.7 276.9,731.3 271.7,729.8 266.4,728.3 260.9,726.9 255.4,725.4 249.9,723.9 244.3,722.4 238.7,721.0 233.2,719.5 227.6,718.0 222.1,716.5 216.6,715.1 211.3,713.6 206.0,712.1 200.9,710.6 195.9,709.2 191.1,707.7 186.4,706.2 182.0,704.7 130.0,690.0" fill="#3DBCC8" fill-opacity="0.2"/></g><defs><clipPath id="clipd"><rect x="892.1" y="690.0" width="578.9999999999999" height="442.20000000000005"/></clipPath></defs><g clip-path="url(#clipd)"><polygon points="1277.9,690.0 1175.0,705.8 1164.7,707.2 1154.6,708.7 1144.9,710.2 1135.4,711.7 1126.1,713.1 1117.1,714.6 1108.4,716.1 1100.0,717.6 1091.7,719.0 1083.8,720.5 1076.0,722.0 1068.5,723.5 1061.3,724.9 1054.3,726.4 1047.5,727.9 1040.9,729.4 1034.5,730.8 1028.4,732.3 1022.5,733.8 1016.8,735.3 1011.3,736.7 1006.1,738.2 1001.0,739.7 996.1,741.1 991.4,742.6 986.9,744.1 982.6,745.6 978.5,747.0 974.6,748.5 970.9,750.0 967.3,751.5 963.9,752.9 960.7,754.4 957.6,755.9 954.7,757.4 952.0,758.8 949.4,760.3 946.9,761.8 944.7,763.3 942.5,764.7 940.5,766.2 938.7,767.7 937.0,769.2 935.4,770.6 933.9,772.1 932.6,773.6 931.4,775.0 930.3,776.5 929.3,778.0 928.4,779.5 927.7,780.9 927.1,782.4 926.5,783.9 926.1,785.4 925.7,786.8 925.5,788.3 925.3,789.8 925.2,791.3 925.2,792.7 925.3,794.2 925.5,795.7 925.8,797.2 926.1,798.6 926.5,800.1 927.0,801.6 927.6,803.1 928.2,804.5 928.9,806.0 929.7,807.5 930.6,809.0 931.5,810.4 932.5,811.9 933.5,813.4 934.6,814.8 935.8,816.3 937.1,817.8 938.4,819.3 939.7,820.7 941.1,822.2 942.6,823.7 944.1,825.2 945.6,826.6 947.3,828.1 948.9,829.6 950.6,831.1 952.4,832.5 954.2,834.0 956.0,835.5 957.9,837.0 959.8,838.4 961.7,839.9 963.7,841.4 965.7,842.9 967.8,844.3 969.8,845.8 971.9,847.3 974.1,848.7 976.2,850.2 978.4,851.7 980.6,853.2 982.8,854.6 985.1,856.1 987.3,857.6 989.6,859.1 991.9,860.5 994.2,862.0 996.5,863.5 998.9,865.0 1001.2,866.4 1003.5,867.9 1005.9,869.4 1008.2,870.9 1010.6,872.3 1012.9,873.8 1015.3,875.3 1017.6,876.8 1020.0,878.2 1022.3,879.7 1024.7,881.2 1027.0,882.7 1029.3,884.1 1031.6,885.6 1033.9,887.1 1036.3,888.5 1038.5,890.0 1040.8,891.5 1043.1,893.0 1045.4,894.4 1047.7,895.9 1049.9,897.4 1052.2,898.9 1054.4,900.3 1056.7,901.8 1058.9,903.3 1061.1,904.8 1063.3,906.2 1065.6,907.7 1067.8,909.2 1069.9,910.7 1072.1,912.1 1074.3,913.6 1076.5,915.1 1078.6,916.6 1080.8,918.0 1082.9,919.5 1085.1,921.0 1087.2,922.4 1089.3,923.9 1091.4,925.4 1093.5,926.9 1095.6,928.3 1097.7,929.8 1099.8,931.3 1101.8,932.8 1103.9,934.2 1105.9,935.7 1107.9,937.2 1110.0,938.7 1112.0,940.1 1114.0,941.6 1116.0,943.1 1117.9,944.6 1119.9,946.0 1121.9,947.5 1123.8,949.0 1125.8,950.5 1127.7,951.9 1129.6,953.4 1131.5,954.9 1133.4,956.4 1135.3,957.8 1137.2,959.3 1139.0,960.8 1140.9,962.2 1142.7,963.7 1144.6,965.2 1146.4,966.7 1148.2,968.1 1150.0,969.6 1151.8,971.1 1153.5,972.6 1155.3,974.0 1157.0,975.5 1158.8,977.0 1160.5,978.5 1162.2,979.9 1163.9,981.4 1165.6,982.9 1167.2,984.4 1168.9,985.8 1170.5,987.3 1172.1,988.8 1173.8,990.3 1175.4,991.7 1177.0,993.2 1178.5,994.7 1180.1,996.1 1181.6,997.6 1183.2,999.1 1184.7,1000.6 1186.2,1002.0 1187.7,1003.5 1189.2,1005.0 1190.6,1006.5 1192.1,1007.9 1193.5,1009.4 1194.9,1010.9 1196.3,1012.4 1197.7,1013.8 1199.1,1015.3 1200.5,1016.8 1201.8,1018.3 1203.1,1019.7 1204.5,1021.2 1205.8,1022.7 1207.0,1024.2 1208.3,1025.6 1209.6,1027.1 1210.8,1028.6 1212.0,1030.1 1213.2,1031.5 1214.4,1033.0 1215.6,1034.5 1216.8,1035.9 1217.9,1037.4 1219.0,1038.9 1220.1,1040.4 1221.2,1041.8 1222.3,1043.3 1223.4,1044.8 1224.4,1046.3 1225.4,1047.7 1226.4,1049.2 1227.4,1050.7 1228.4,1052.2 1229.3,1053.6 1230.3,1055.1 1231.2,1056.6 1232.1,1058.1 1233.0,1059.5 1233.8,1061.0 1234.7,1062.5 1235.5,1064.0 1236.3,1065.4 1237.1,1066.9 1237.9,1068.4 1238.7,1069.8 1239.4,1071.3 1240.1,1072.8 1240.8,1074.3 1241.5,1075.7 1242.2,1077.2 1242.8,1078.7 1243.4,1080.2 1244.0,1081.6 1244.6,1083.1 1245.2,1084.6 1245.7,1086.1 1246.3,1087.5 1246.8,1089.0 1247.3,1090.5 1247.7,1092.0 1248.2,1093.4 1248.6,1094.9 1249.0,1096.4 1249.4,1097.9 1249.8,1099.3 1250.1,1100.8 1250.4,1102.3 1250.8,1103.8 1251.0,1105.2 1251.3,1106.7 1251.5,1108.2 1251.8,1109.6 1252.0,1111.1 1252.1,1112.6 1252.3,1114.1 1252.4,1115.5 1252.6,1117.0 1252.7,1118.5 1252.7,1120.0 1252.8,1121.4 1252.8,1122.9 1252.8,1124.4 1252.8,1125.9 1252.8,1127.3 1252.7,1128.8 1252.6,1130.3 1252.5,1131.8 1252.5,1132.2 1347.0,1132.2 1347.1,1131.3 1347.2,1129.8 1347.4,1128.4 1347.5,1126.9 1347.6,1125.4 1347.6,1123.9 1347.7,1122.5 1347.7,1121.0 1347.7,1119.5 1347.7,1118.0 1347.7,1116.6 1347.6,1115.1 1347.5,1113.6 1347.4,1112.2 1347.3,1110.7 1347.2,1109.2 1347.0,1107.7 1346.8,1106.3 1346.6,1104.8 1346.4,1103.3 1346.2,1101.8 1345.9,1100.4 1345.6,1098.9 1345.3,1097.4 1345.0,1095.9 1344.7,1094.5 1344.3,1093.0 1343.9,1091.5 1343.5,1090.0 1343.1,1088.6 1342.7,1087.1 1342.2,1085.6 1341.7,1084.1 1341.2,1082.7 1340.7,1081.2 1340.2,1079.7 1339.6,1078.3 1339.0,1076.8 1338.4,1075.3 1337.8,1073.8 1337.2,1072.4 1336.5,1070.9 1335.9,1069.4 1335.2,1067.9 1334.4,1066.5 1333.7,1065.0 1333.0,1063.5 1332.2,1062.0 1331.4,1060.6 1330.6,1059.1 1329.8,1057.6 1328.9,1056.1 1328.1,1054.7 1327.2,1053.2 1326.3,1051.7 1325.3,1050.2 1324.4,1048.8 1323.4,1047.3 1322.5,1045.8 1321.5,1044.3 1320.4,1042.9 1319.4,1041.4 1318.4,1039.9 1317.3,1038.5 1316.2,1037.0 1315.1,1035.5 1313.9,1034.0 1312.8,1032.6 1311.6,1031.1 1310.4,1029.6 1309.2,1028.1 1308.0,1026.7 1306.8,1025.2 1305.5,1023.7 1304.3,1022.2 1303.0,1020.8 1301.6,1019.3 1300.3,1017.8 1299.0,1016.3 1297.6,1014.9 1296.2,1013.4 1294.8,1011.9 1293.4,1010.4 1292.0,1009.0 1290.5,1007.5 1289.0,1006.0 1287.5,1004.6 1286.0,1003.1 1284.5,1001.6 1283.0,1000.1 1281.4,998.7 1279.8,997.2 1278.3,995.7 1276.7,994.2 1275.0,992.8 1273.4,991.3 1271.8,989.8 1270.1,988.3 1268.4,986.9 1266.7,985.4 1265.0,983.9 1263.3,982.4 1261.6,981.0 1259.8,979.5 1258.1,978.0 1256.3,976.5 1254.5,975.1 1252.7,973.6 1250.9,972.1 1249.1,970.6 1247.2,969.2 1245.4,967.7 1243.5,966.2 1241.7,964.8 1239.8,963.3 1237.9,961.8 1236.0,960.3 1234.1,958.9 1232.1,957.4 1230.2,955.9 1228.3,954.4 1226.3,953.0 1224.3,951.5 1222.4,950.0 1220.4,948.5 1218.4,947.1 1216.4,945.6 1214.4,944.1 1212.4,942.6 1210.3,941.2 1208.3,939.7 1206.3,938.2 1204.2,936.7 1202.2,935.3 1200.1,933.8 1198.0,932.3 1195.9,930.9 1193.9,929.4 1191.8,927.9 1189.7,926.4 1187.6,925.0 1185.5,923.5 1183.3,922.0 1181.2,920.5 1179.1,919.1 1177.0,917.6 1174.8,916.1 1172.7,914.6 1170.5,913.2 1168.4,911.7 1166.2,910.2 1164.1,908.7 1161.9,907.3 1159.8,905.8 1157.6,904.3 1155.4,902.8 1153.3,901.4 1151.1,899.9 1148.9,898.4 1146.7,896.9 1144.5,895.5 1142.4,894.0 1140.2,892.5 1138.0,891.1 1135.8,889.6 1133.6,888.1 1131.5,886.6 1129.3,885.2 1127.1,883.7 1125.0,882.2 1122.8,880.7 1120.7,879.3 1118.5,877.8 1116.4,876.3 1114.3,874.8 1112.2,873.4 1110.1,871.9 1108.1,870.4 1106.0,868.9 1104.0,867.5 1102.0,866.0 1100.0,864.5 1098.0,863.0 1096.1,861.6 1094.1,860.1 1092.3,858.6 1090.4,857.2 1088.5,855.7 1086.7,854.2 1084.9,852.7 1083.2,851.3 1081.5,849.8 1079.8,848.3 1078.1,846.8 1076.5,845.4 1074.9,843.9 1073.3,842.4 1071.8,840.9 1070.4,839.5 1068.9,838.0 1067.5,836.5 1066.2,835.0 1064.9,833.6 1063.6,832.1 1062.4,830.6 1061.3,829.1 1060.1,827.7 1059.1,826.2 1058.1,824.7 1057.1,823.2 1056.2,821.8 1055.3,820.3 1054.5,818.8 1053.8,817.4 1053.1,815.9 1052.4,814.4 1051.9,812.9 1051.4,811.5 1050.9,810.0 1050.5,808.5 1050.2,807.0 1050.0,805.6 1049.8,804.1 1049.6,802.6 1049.6,801.1 1049.6,799.7 1049.7,798.2 1049.8,796.7 1050.1,795.2 1050.4,793.8 1050.8,792.3 1051.2,790.8 1051.7,789.3 1052.3,787.9 1053.0,786.4 1053.7,784.9 1054.6,783.5 1055.5,782.0 1056.4,780.5 1057.5,779.0 1058.6,777.6 1059.8,776.1 1061.1,774.6 1062.5,773.1 1063.9,771.7 1065.4,770.2 1067.0,768.7 1068.7,767.2 1070.5,765.8 1072.3,764.3 1074.2,762.8 1076.2,761.3 1078.3,759.9 1080.5,758.4 1082.7,756.9 1085.1,755.4 1087.5,754.0 1090.0,752.5 1092.5,751.0 1095.2,749.5 1097.9,748.1 1100.8,746.6 1103.7,745.1 1106.7,743.7 1109.8,742.2 1112.9,740.7 1116.2,739.2 1119.5,737.8 1123.0,736.3 1126.5,734.8 1130.1,733.3 1133.8,731.9 1137.6,730.4 1141.4,728.9 1145.4,727.4 1149.4,726.0 1153.6,724.5 1157.8,723.0 1162.1,721.5 1166.5,720.1 1171.0,718.6 1175.6,717.1 1180.3,715.6 1185.1,714.2 1190.0,712.7 1194.9,711.2 1200.0,709.8 1277.9,690.0" fill="#F2426A" fill-opacity="0.2"/><polygon points="1277.9,690.0 1167.0,711.7 1158.5,713.1 1150.1,714.6 1141.8,716.1 1133.6,717.6 1125.5,719.0 1117.5,720.5 1109.7,722.0 1101.9,723.5 1094.3,724.9 1086.9,726.4 1079.6,727.9 1072.4,729.4 1065.4,730.8 1058.5,732.3 1051.8,733.8 1045.3,735.3 1038.9,736.7 1032.8,738.2 1026.8,739.7 1021.0,741.1 1015.3,742.6 1009.9,744.1 1004.7,745.6 999.7,747.0 994.9,748.5 990.3,750.0 986.0,751.5 981.8,752.9 978.0,754.4 974.3,755.9 970.9,757.4 967.7,758.8 964.8,760.3 962.1,761.8 959.6,763.3 957.3,764.7 955.2,766.2 953.3,767.7 951.6,769.2 950.1,770.6 948.7,772.1 947.5,773.6 946.5,775.0 945.6,776.5 944.8,778.0 944.2,779.5 943.7,780.9 943.2,782.4 942.9,783.9 942.7,785.4 942.6,786.8 942.5,788.3 942.5,789.8 942.6,791.3 942.8,792.7 943.0,794.2 943.3,795.7 943.6,797.2 944.0,798.6 944.5,800.1 945.0,801.6 945.6,803.1 946.3,804.5 947.0,806.0 947.7,807.5 948.6,809.0 949.4,810.4 950.4,811.9 951.4,813.4 952.4,814.8 953.5,816.3 954.6,817.8 955.8,819.3 957.0,820.7 958.3,822.2 959.6,823.7 961.0,825.2 962.4,826.6 963.8,828.1 965.3,829.6 966.8,831.1 968.4,832.5 970.0,834.0 971.7,835.5 973.3,837.0 975.1,838.4 976.8,839.9 978.6,841.4 980.4,842.9 982.2,844.3 984.1,845.8 986.0,847.3 987.9,848.7 989.9,850.2 991.9,851.7 993.9,853.2 995.9,854.6 998.0,856.1 1000.0,857.6 1002.1,859.1 1004.2,860.5 1006.4,862.0 1008.5,863.5 1010.7,865.0 1012.9,866.4 1015.1,867.9 1017.3,869.4 1019.5,870.9 1021.7,872.3 1023.9,873.8 1026.2,875.3 1028.4,876.8 1030.7,878.2 1033.0,879.7 1035.2,881.2 1037.5,882.7 1039.8,884.1 1042.1,885.6 1044.3,887.1 1046.6,888.5 1048.9,890.0 1051.2,891.5 1053.5,893.0 1055.7,894.4 1058.0,895.9 1060.3,897.4 1062.6,898.9 1064.9,900.3 1067.2,901.8 1069.4,903.3 1071.7,904.8 1074.0,906.2 1076.3,907.7 1078.5,909.2 1080.8,910.7 1083.1,912.1 1085.3,913.6 1087.6,915.1 1089.8,916.6 1092.1,918.0 1094.3,919.5 1096.5,921.0 1098.8,922.4 1101.0,923.9 1103.2,925.4 1105.4,926.9 1107.6,928.3 1109.8,929.8 1112.0,931.3 1114.2,932.8 1116.4,934.2 1118.5,935.7 1120.7,937.2 1122.8,938.7 1125.0,940.1 1127.1,941.6 1129.2,943.1 1131.3,944.6 1133.4,946.0 1135.5,947.5 1137.6,949.0 1139.6,950.5 1141.7,951.9 1143.7,953.4 1145.7,954.9 1147.8,956.4 1149.8,957.8 1151.7,959.3 1153.7,960.8 1155.7,962.2 1157.6,963.7 1159.5,965.2 1161.5,966.7 1163.3,968.1 1165.2,969.6 1167.1,971.1 1168.9,972.6 1170.8,974.0 1172.6,975.5 1174.4,977.0 1176.2,978.5 1177.9,979.9 1179.7,981.4 1181.4,982.9 1183.1,984.4 1184.8,985.8 1186.5,987.3 1188.1,988.8 1189.7,990.3 1191.3,991.7 1192.9,993.2 1194.5,994.7 1196.0,996.1 1197.6,997.6 1199.1,999.1 1200.6,1000.6 1202.0,1002.0 1203.5,1003.5 1204.9,1005.0 1206.3,1006.5 1207.7,1007.9 1209.0,1009.4 1210.4,1010.9 1211.7,1012.4 1213.0,1013.8 1214.3,1015.3 1215.6,1016.8 1216.8,1018.3 1218.1,1019.7 1219.3,1021.2 1220.5,1022.7 1221.7,1024.2 1222.8,1025.6 1224.0,1027.1 1225.1,1028.6 1226.2,1030.1 1227.3,1031.5 1228.4,1033.0 1229.4,1034.5 1230.5,1035.9 1231.5,1037.4 1232.5,1038.9 1233.5,1040.4 1234.5,1041.8 1235.4,1043.3 1236.4,1044.8 1237.3,1046.3 1238.2,1047.7 1239.1,1049.2 1240.0,1050.7 1240.9,1052.2 1241.7,1053.6 1242.5,1055.1 1243.4,1056.6 1244.2,1058.1 1245.0,1059.5 1245.8,1061.0 1246.5,1062.5 1247.3,1064.0 1248.0,1065.4 1248.7,1066.9 1249.5,1068.4 1250.2,1069.8 1250.8,1071.3 1251.5,1072.8 1252.2,1074.3 1252.8,1075.7 1253.5,1077.2 1254.1,1078.7 1254.7,1080.2 1255.3,1081.6 1255.9,1083.1 1256.5,1084.6 1257.0,1086.1 1257.6,1087.5 1258.1,1089.0 1258.7,1090.5 1259.2,1092.0 1259.7,1093.4 1260.2,1094.9 1260.7,1096.4 1261.1,1097.9 1261.6,1099.3 1262.1,1100.8 1262.5,1102.3 1263.0,1103.8 1263.4,1105.2 1263.8,1106.7 1264.2,1108.2 1264.6,1109.6 1265.0,1111.1 1265.4,1112.6 1265.8,1114.1 1266.1,1115.5 1266.5,1117.0 1266.8,1118.5 1267.2,1120.0 1267.5,1121.4 1267.8,1122.9 1268.2,1124.4 1268.5,1125.9 1268.8,1127.3 1269.1,1128.8 1269.4,1130.3 1269.6,1131.8 1269.7,1132.2 1359.1,1132.2 1359.3,1131.3 1359.6,1129.8 1359.9,1128.4 1360.1,1126.9 1360.3,1125.4 1360.5,1123.9 1360.6,1122.5 1360.7,1121.0 1360.8,1119.5 1360.8,1118.0 1360.9,1116.6 1360.9,1115.1 1360.8,1113.6 1360.8,1112.2 1360.7,1110.7 1360.5,1109.2 1360.4,1107.7 1360.2,1106.3 1360.0,1104.8 1359.8,1103.3 1359.5,1101.8 1359.2,1100.4 1358.9,1098.9 1358.6,1097.4 1358.2,1095.9 1357.8,1094.5 1357.4,1093.0 1356.9,1091.5 1356.5,1090.0 1356.0,1088.6 1355.5,1087.1 1354.9,1085.6 1354.3,1084.1 1353.7,1082.7 1353.1,1081.2 1352.5,1079.7 1351.8,1078.3 1351.1,1076.8 1350.4,1075.3 1349.6,1073.8 1348.9,1072.4 1348.1,1070.9 1347.3,1069.4 1346.4,1067.9 1345.6,1066.5 1344.7,1065.0 1343.8,1063.5 1342.9,1062.0 1341.9,1060.6 1340.9,1059.1 1340.0,1057.6 1338.9,1056.1 1337.9,1054.7 1336.9,1053.2 1335.8,1051.7 1334.7,1050.2 1333.6,1048.8 1332.4,1047.3 1331.3,1045.8 1330.1,1044.3 1328.9,1042.9 1327.7,1041.4 1326.4,1039.9 1325.2,1038.5 1323.9,1037.0 1322.6,1035.5 1321.3,1034.0 1320.0,1032.6 1318.6,1031.1 1317.3,1029.6 1315.9,1028.1 1314.5,1026.7 1313.1,1025.2 1311.6,1023.7 1310.2,1022.2 1308.7,1020.8 1307.2,1019.3 1305.7,1017.8 1304.2,1016.3 1302.7,1014.9 1301.1,1013.4 1299.6,1011.9 1298.0,1010.4 1296.4,1009.0 1294.8,1007.5 1293.2,1006.0 1291.5,1004.6 1289.9,1003.1 1288.2,1001.6 1286.5,1000.1 1284.8,998.7 1283.1,997.2 1281.4,995.7 1279.7,994.2 1277.9,992.8 1276.1,991.3 1274.4,989.8 1272.6,988.3 1270.8,986.9 1269.0,985.4 1267.1,983.9 1265.3,982.4 1263.5,981.0 1261.6,979.5 1259.7,978.0 1257.8,976.5 1255.9,975.1 1254.0,973.6 1252.1,972.1 1250.2,970.6 1248.3,969.2 1246.3,967.7 1244.4,966.2 1242.4,964.8 1240.4,963.3 1238.5,961.8 1236.5,960.3 1234.5,958.9 1232.5,957.4 1230.4,955.9 1228.4,954.4 1226.4,953.0 1224.3,951.5 1222.3,950.0 1220.2,948.5 1218.2,947.1 1216.1,945.6 1214.0,944.1 1211.9,942.6 1209.9,941.2 1207.8,939.7 1205.7,938.2 1203.6,936.7 1201.4,935.3 1199.3,933.8 1197.2,932.3 1195.1,930.9 1192.9,929.4 1190.8,927.9 1188.6,926.4 1186.5,925.0 1184.3,923.5 1182.2,922.0 1180.0,920.5 1177.9,919.1 1175.7,917.6 1173.5,916.1 1171.4,914.6 1169.2,913.2 1167.0,911.7 1164.8,910.2 1162.6,908.7 1160.5,907.3 1158.3,905.8 1156.1,904.3 1153.9,902.8 1151.7,901.4 1149.5,899.9 1147.3,898.4 1145.1,896.9 1142.9,895.5 1140.7,894.0 1138.5,892.5 1136.4,891.1 1134.2,889.6 1132.0,888.1 1129.8,886.6 1127.6,885.2 1125.5,883.7 1123.3,882.2 1121.1,880.7 1119.0,879.3 1116.9,877.8 1114.7,876.3 1112.6,874.8 1110.6,873.4 1108.5,871.9 1106.4,870.4 1104.4,868.9 1102.3,867.5 1100.3,866.0 1098.4,864.5 1096.4,863.0 1094.5,861.6 1092.5,860.1 1090.6,858.6 1088.8,857.2 1086.9,855.7 1085.1,854.2 1083.3,852.7 1081.6,851.3 1079.9,849.8 1078.2,848.3 1076.5,846.8 1074.9,845.4 1073.3,843.9 1071.8,842.4 1070.3,840.9 1068.8,839.5 1067.3,838.0 1066.0,836.5 1064.6,835.0 1063.3,833.6 1062.0,832.1 1060.8,830.6 1059.6,829.1 1058.5,827.7 1057.4,826.2 1056.4,824.7 1055.4,823.2 1054.5,821.8 1053.6,820.3 1052.8,818.8 1052.0,817.4 1051.3,815.9 1050.6,814.4 1050.0,812.9 1049.5,811.5 1049.0,810.0 1048.6,808.5 1048.2,807.0 1047.9,805.6 1047.7,804.1 1047.5,802.6 1047.4,801.1 1047.3,799.7 1047.4,798.2 1047.5,796.7 1047.6,795.2 1047.9,793.8 1048.2,792.3 1048.6,790.8 1049.0,789.3 1049.5,787.9 1050.1,786.4 1050.8,784.9 1051.6,783.5 1052.4,782.0 1053.3,780.5 1054.3,779.0 1055.3,777.6 1056.4,776.1 1057.6,774.6 1058.9,773.1 1060.3,771.7 1061.7,770.2 1063.3,768.7 1064.9,767.2 1066.6,765.8 1068.4,764.3 1070.2,762.8 1072.2,761.3 1074.2,759.9 1076.3,758.4 1078.5,756.9 1080.8,755.4 1083.2,754.0 1085.6,752.5 1088.2,751.0 1090.8,749.5 1093.5,748.1 1096.4,746.6 1099.3,745.1 1102.3,743.7 1105.4,742.2 1108.5,740.7 1111.8,739.2 1115.2,737.8 1118.7,736.3 1122.2,734.8 1125.9,733.3 1129.6,731.9 1133.5,730.4 1137.5,728.9 1141.5,727.4 1145.7,726.0 1149.9,724.5 1154.2,723.0 1158.7,721.5 1163.2,720.1 1167.9,718.6 1172.7,717.1 1177.5,715.6 1182.5,714.2 1187.5,712.7 1192.7,711.2 1198.0,709.8 1277.9,690.0" fill="#4F1B4D" fill-opacity="0.2"/><polygon points="1277.9,690.0 1186.7,711.7 1179.3,713.1 1171.8,714.6 1164.3,716.1 1156.7,717.6 1149.0,719.0 1141.3,720.5 1133.7,722.0 1126.0,723.5 1118.3,724.9 1110.6,726.4 1103.0,727.9 1095.5,729.4 1088.0,730.8 1080.6,732.3 1073.3,733.8 1066.1,735.3 1059.0,736.7 1052.1,738.2 1045.3,739.7 1038.7,741.1 1032.3,742.6 1026.0,744.1 1020.0,745.6 1014.2,747.0 1008.6,748.5 1003.2,750.0 998.1,751.5 993.1,752.9 988.4,754.4 983.8,755.9 979.5,757.4 975.4,758.8 971.4,760.3 967.7,761.8 964.1,763.3 960.8,764.7 957.7,766.2 954.7,767.7 951.9,769.2 949.3,770.6 947.0,772.1 944.7,773.6 942.7,775.0 940.9,776.5 939.2,778.0 937.7,779.5 936.4,780.9 935.2,782.4 934.3,783.9 933.4,785.4 932.8,786.8 932.2,788.3 931.9,789.8 931.6,791.3 931.6,792.7 931.6,794.2 931.8,795.7 932.1,797.2 932.6,798.6 933.2,800.1 933.9,801.6 934.7,803.1 935.6,804.5 936.6,806.0 937.8,807.5 939.0,809.0 940.4,810.4 941.8,811.9 943.3,813.4 944.9,814.8 946.6,816.3 948.4,817.8 950.2,819.3 952.2,820.7 954.2,822.2 956.2,823.7 958.3,825.2 960.5,826.6 962.7,828.1 965.0,829.6 967.3,831.1 969.7,832.5 972.1,834.0 974.5,835.5 977.0,837.0 979.5,838.4 982.0,839.9 984.6,841.4 987.2,842.9 989.7,844.3 992.3,845.8 994.9,847.3 997.5,848.7 1000.1,850.2 1002.7,851.7 1005.3,853.2 1007.8,854.6 1010.4,856.1 1013.0,857.6 1015.5,859.1 1018.1,860.5 1020.6,862.0 1023.1,863.5 1025.7,865.0 1028.2,866.4 1030.7,867.9 1033.2,869.4 1035.7,870.9 1038.1,872.3 1040.6,873.8 1043.1,875.3 1045.5,876.8 1048.0,878.2 1050.4,879.7 1052.8,881.2 1055.3,882.7 1057.7,884.1 1060.1,885.6 1062.5,887.1 1064.9,888.5 1067.2,890.0 1069.6,891.5 1072.0,893.0 1074.3,894.4 1076.6,895.9 1079.0,897.4 1081.3,898.9 1083.6,900.3 1085.9,901.8 1088.2,903.3 1090.5,904.8 1092.7,906.2 1095.0,907.7 1097.3,909.2 1099.5,910.7 1101.7,912.1 1103.9,913.6 1106.2,915.1 1108.3,916.6 1110.5,918.0 1112.7,919.5 1114.9,921.0 1117.0,922.4 1119.2,923.9 1121.3,925.4 1123.4,926.9 1125.6,928.3 1127.7,929.8 1129.7,931.3 1131.8,932.8 1133.9,934.2 1135.9,935.7 1138.0,937.2 1140.0,938.7 1142.0,940.1 1144.1,941.6 1146.1,943.1 1148.0,944.6 1150.0,946.0 1152.0,947.5 1153.9,949.0 1155.9,950.5 1157.8,951.9 1159.7,953.4 1161.6,954.9 1163.5,956.4 1165.4,957.8 1167.2,959.3 1169.1,960.8 1170.9,962.2 1172.7,963.7 1174.6,965.2 1176.4,966.7 1178.1,968.1 1179.9,969.6 1181.7,971.1 1183.4,972.6 1185.2,974.0 1186.9,975.5 1188.6,977.0 1190.3,978.5 1191.9,979.9 1193.6,981.4 1195.3,982.9 1196.9,984.4 1198.5,985.8 1200.1,987.3 1201.7,988.8 1203.3,990.3 1204.9,991.7 1206.4,993.2 1208.0,994.7 1209.5,996.1 1211.0,997.6 1212.5,999.1 1214.0,1000.6 1215.4,1002.0 1216.9,1003.5 1218.3,1005.0 1219.8,1006.5 1221.2,1007.9 1222.5,1009.4 1223.9,1010.9 1225.3,1012.4 1226.6,1013.8 1228.0,1015.3 1229.3,1016.8 1230.6,1018.3 1231.9,1019.7 1233.1,1021.2 1234.4,1022.7 1235.6,1024.2 1236.8,1025.6 1238.0,1027.1 1239.2,1028.6 1240.4,1030.1 1241.5,1031.5 1242.7,1033.0 1243.8,1034.5 1244.9,1035.9 1246.0,1037.4 1247.1,1038.9 1248.1,1040.4 1249.2,1041.8 1250.2,1043.3 1251.2,1044.8 1252.2,1046.3 1253.2,1047.7 1254.1,1049.2 1255.0,1050.7 1256.0,1052.2 1256.9,1053.6 1257.8,1055.1 1258.6,1056.6 1259.5,1058.1 1260.3,1059.5 1261.1,1061.0 1261.9,1062.5 1262.7,1064.0 1263.5,1065.4 1264.2,1066.9 1264.9,1068.4 1265.6,1069.8 1266.3,1071.3 1267.0,1072.8 1267.6,1074.3 1268.3,1075.7 1268.9,1077.2 1269.5,1078.7 1270.1,1080.2 1270.6,1081.6 1271.2,1083.1 1271.7,1084.6 1272.2,1086.1 1272.7,1087.5 1273.1,1089.0 1273.6,1090.5 1274.0,1092.0 1274.4,1093.4 1274.8,1094.9 1275.2,1096.4 1275.5,1097.9 1275.8,1099.3 1276.1,1100.8 1276.4,1102.3 1276.7,1103.8 1277.0,1105.2 1277.2,1106.7 1277.4,1108.2 1277.6,1109.6 1277.7,1111.1 1277.9,1112.6 1278.0,1114.1 1278.1,1115.5 1278.2,1117.0 1278.3,1118.5 1278.3,1120.0 1278.4,1121.4 1278.4,1122.9 1278.3,1124.4 1278.3,1125.9 1278.2,1127.3 1278.2,1128.8 1278.1,1130.3 1277.9,1131.8 1277.9,1132.2 1385.8,1132.2 1385.8,1131.3 1385.7,1129.8 1385.6,1128.4 1385.5,1126.9 1385.4,1125.4 1385.2,1123.9 1385.0,1122.5 1384.8,1121.0 1384.5,1119.5 1384.3,1118.0 1383.9,1116.6 1383.6,1115.1 1383.3,1113.6 1382.9,1112.2 1382.5,1110.7 1382.0,1109.2 1381.5,1107.7 1381.0,1106.3 1380.5,1104.8 1380.0,1103.3 1379.4,1101.8 1378.8,1100.4 1378.2,1098.9 1377.6,1097.4 1376.9,1095.9 1376.2,1094.5 1375.5,1093.0 1374.7,1091.5 1374.0,1090.0 1373.2,1088.6 1372.4,1087.1 1371.5,1085.6 1370.7,1084.1 1369.8,1082.7 1368.9,1081.2 1367.9,1079.7 1367.0,1078.3 1366.0,1076.8 1365.0,1075.3 1364.0,1073.8 1362.9,1072.4 1361.9,1070.9 1360.8,1069.4 1359.7,1067.9 1358.6,1066.5 1357.4,1065.0 1356.2,1063.5 1355.1,1062.0 1353.8,1060.6 1352.6,1059.1 1351.4,1057.6 1350.1,1056.1 1348.8,1054.7 1347.5,1053.2 1346.2,1051.7 1344.8,1050.2 1343.5,1048.8 1342.1,1047.3 1340.7,1045.8 1339.3,1044.3 1337.8,1042.9 1336.4,1041.4 1334.9,1039.9 1333.4,1038.5 1331.9,1037.0 1330.4,1035.5 1328.8,1034.0 1327.3,1032.6 1325.7,1031.1 1324.1,1029.6 1322.5,1028.1 1320.8,1026.7 1319.2,1025.2 1317.5,1023.7 1315.9,1022.2 1314.2,1020.8 1312.5,1019.3 1310.8,1017.8 1309.0,1016.3 1307.3,1014.9 1305.5,1013.4 1303.7,1011.9 1301.9,1010.4 1300.1,1009.0 1298.3,1007.5 1296.5,1006.0 1294.6,1004.6 1292.8,1003.1 1290.9,1001.6 1289.0,1000.1 1287.1,998.7 1285.2,997.2 1283.3,995.7 1281.4,994.2 1279.4,992.8 1277.5,991.3 1275.5,989.8 1273.5,988.3 1271.5,986.9 1269.5,985.4 1267.5,983.9 1265.5,982.4 1263.4,981.0 1261.4,979.5 1259.3,978.0 1257.3,976.5 1255.2,975.1 1253.1,973.6 1251.0,972.1 1248.9,970.6 1246.8,969.2 1244.7,967.7 1242.6,966.2 1240.4,964.8 1238.3,963.3 1236.1,961.8 1234.0,960.3 1231.8,958.9 1229.6,957.4 1227.4,955.9 1225.2,954.4 1223.0,953.0 1220.8,951.5 1218.6,950.0 1216.4,948.5 1214.2,947.1 1211.9,945.6 1209.7,944.1 1207.5,942.6 1205.2,941.2 1203.0,939.7 1200.7,938.2 1198.4,936.7 1196.2,935.3 1193.9,933.8 1191.6,932.3 1189.3,930.9 1187.1,929.4 1184.8,927.9 1182.5,926.4 1180.2,925.0 1177.9,923.5 1175.6,922.0 1173.3,920.5 1171.0,919.1 1168.6,917.6 1166.3,916.1 1164.0,914.6 1161.7,913.2 1159.4,911.7 1157.1,910.2 1154.7,908.7 1152.4,907.3 1150.1,905.8 1147.8,904.3 1145.4,902.8 1143.1,901.4 1140.8,899.9 1138.5,898.4 1136.1,896.9 1133.8,895.5 1131.5,894.0 1129.2,892.5 1126.8,891.1 1124.5,889.6 1122.2,888.1 1119.9,886.6 1117.6,885.2 1115.3,883.7 1113.0,882.2 1110.7,880.7 1108.5,879.3 1106.2,877.8 1104.0,876.3 1101.8,874.8 1099.6,873.4 1097.4,871.9 1095.3,870.4 1093.2,868.9 1091.1,867.5 1089.0,866.0 1086.9,864.5 1084.9,863.0 1082.9,861.6 1080.9,860.1 1079.0,858.6 1077.0,857.2 1075.2,855.7 1073.3,854.2 1071.5,852.7 1069.7,851.3 1068.0,849.8 1066.3,848.3 1064.6,846.8 1063.0,845.4 1061.5,843.9 1059.9,842.4 1058.5,840.9 1057.0,839.5 1055.6,838.0 1054.3,836.5 1053.0,835.0 1051.8,833.6 1050.6,832.1 1049.5,830.6 1048.4,829.1 1047.4,827.7 1046.5,826.2 1045.6,824.7 1044.7,823.2 1044.0,821.8 1043.3,820.3 1042.6,818.8 1042.1,817.4 1041.6,815.9 1041.1,814.4 1040.8,812.9 1040.5,811.5 1040.2,810.0 1040.1,808.5 1040.0,807.0 1040.0,805.6 1040.1,804.1 1040.2,802.6 1040.5,801.1 1040.8,799.7 1041.2,798.2 1041.7,796.7 1042.2,795.2 1042.9,793.8 1043.6,792.3 1044.4,790.8 1045.3,789.3 1046.2,787.9 1047.2,786.4 1048.3,784.9 1049.5,783.5 1050.8,782.0 1052.1,780.5 1053.5,779.0 1055.0,777.6 1056.5,776.1 1058.1,774.6 1059.8,773.1 1061.5,771.7 1063.4,770.2 1065.3,768.7 1067.2,767.2 1069.2,765.8 1071.3,764.3 1073.5,762.8 1075.7,761.3 1078.0,759.9 1080.4,758.4 1082.8,756.9 1085.3,755.4 1087.8,754.0 1090.4,752.5 1093.1,751.0 1095.8,749.5 1098.6,748.1 1101.4,746.6 1104.3,745.1 1107.3,743.7 1110.3,742.2 1113.4,740.7 1116.5,739.2 1119.7,737.8 1123.0,736.3 1126.3,734.8 1129.6,733.3 1133.0,731.9 1136.5,730.4 1140.0,728.9 1143.5,727.4 1147.1,726.0 1150.8,724.5 1154.5,723.0 1158.3,721.5 1162.1,720.1 1165.9,718.6 1169.8,717.1 1173.8,715.6 1177.8,714.2 1181.8,712.7 1185.9,711.2 1190.0,709.8 1277.9,690.0" fill="#3DBCC8" fill-opacity="0.2"/><line x1="1278.1" y1="1132.2" x2="1278.1" y2="690.0" stroke="#2B6CB0" stroke-width="1.5" stroke-dasharray="14.4 8.7"/></g><g stroke="#262626" stroke-width="2.2" fill="none" stroke-linecap="square"><line x1="227.9" y1="517.0" x2="227.9" y2="510.5"/><line x1="227.9" y1="75.0" x2="227.9" y2="81.5"/><line x1="324.4" y1="517.0" x2="324.4" y2="510.5"/><line x1="324.4" y1="75.0" x2="324.4" y2="81.5"/><line x1="420.9" y1="517.0" x2="420.9" y2="510.5"/><line x1="420.9" y1="75.0" x2="420.9" y2="81.5"/><line x1="517.3" y1="517.0" x2="517.3" y2="510.5"/><line x1="517.3" y1="75.0" x2="517.3" y2="81.5"/><line x1="613.8" y1="517.0" x2="613.8" y2="510.5"/><line x1="613.8" y1="75.0" x2="613.8" y2="81.5"/><line x1="131.4" y1="148.7" x2="137.9" y2="148.7"/><line x1="710.3" y1="148.7" x2="703.8" y2="148.7"/><line x1="131.4" y1="222.3" x2="137.9" y2="222.3"/><line x1="710.3" y1="222.3" x2="703.8" y2="222.3"/><line x1="131.4" y1="296.0" x2="137.9" y2="296.0"/><line x1="710.3" y1="296.0" x2="703.8" y2="296.0"/><line x1="131.4" y1="369.7" x2="137.9" y2="369.7"/><line x1="710.3" y1="369.7" x2="703.8" y2="369.7"/><line x1="131.4" y1="443.3" x2="137.9" y2="443.3"/><line x1="710.3" y1="443.3" x2="703.8" y2="443.3"/><rect x="131.4" y="75.0" width="578.9" height="442.0" fill="none" stroke-width="2.5"/></g><g font-family='"Liberation Sans", sans-serif' font-weight="bold" font-size="22" fill="#262626"><text transform="translate(131.4,551.2) scale(0.94,1.09)" text-anchor="middle">-4</text><text transform="translate(227.9,551.2) scale(0.94,1.09)" text-anchor="middle">-3</text><text transform="translate(324.4,551.2) scale(0.94,1.09)" text-anchor="middle">-2</text><text transform="translate(420.9,551.2) scale(0.94,1.09)" text-anchor="middle">-1</text><text transform="translate(517.3,551.2) scale(0.94,1.09)" text-anchor="middle">0</text><text transform="translate(613.8,551.2) scale(0.94,1.09)" text-anchor="middle">1</text><text transform="translate(710.3,551.2) scale(0.94,1.09)" text-anchor="middle">2</text><text transform="translate(102.2,84.9) scale(1.02,1.07)" text-anchor="middle">0</text><text transform="translate(102.2,158.6) scale(1.02,1.07)" text-anchor="middle">50</text><text transform="translate(102.2,232.2) scale(1.02,1.07)" text-anchor="middle">100</text><text transform="translate(102.2,305.9) scale(1.02,1.07)" text-anchor="middle">150</text><text transform="translate(102.2,379.6) scale(1.02,1.07)" text-anchor="middle">200</text><text transform="translate(102.2,453.2) scale(1.02,1.07)" text-anchor="middle">250</text><text transform="translate(102.2,526.9) scale(1.02,1.07)" text-anchor="middle">300</text></g><text x="418.7" y="582.8" text-anchor="middle" font-family='"Liberation Sans", sans-serif' font-weight="bold" font-size="25.4" fill="#262626">Upwelling transport trend</text><text x="270.7" y="622.0" font-family='"Liberation Sans", sans-serif' font-weight="bold" font-size="25.4" fill="#262626">(10</text><text x="309.2" y="610.6" font-family='"Liberation Sans", sans-serif' font-size="19" fill="#262626">5</text><text x="326.0" y="622.0" font-family='"Liberation Sans", sans-serif' font-weight="bold" font-size="25.4" fill="#262626">m/s</text><circle cx="376.1" cy="617.6" r="1.8" fill="#262626"/><text x="380.2" y="622.0" font-family='"Liberation Sans", sans-serif' font-weight="bold" font-size="25.4" fill="#262626">m</text><text x="404.0" y="610.6" font-family='"Liberation Sans", sans-serif' font-size="19" fill="#262626">2</text><text x="422.0" y="622.0" font-family='"Liberation Sans", sans-serif' font-weight="bold" font-size="25.4" fill="#262626">per century)</text><text transform="translate(72.9,296.6) rotate(-90)" font-family='"Liberation Sans", sans-serif' font-weight="bold" font-size="25.4" fill="#262626" text-anchor="middle">Depth (m)</text><text x="400.8" y="64.0" font-family='"Liberation Sans", sans-serif' font-size="25" fill="#000" text-anchor="middle">CalCS</text><g stroke="#262626" stroke-width="2.2" fill="none" stroke-linecap="square"><line x1="1036.8" y1="517.0" x2="1036.8" y2="510.5"/><line x1="1036.8" y1="75.0" x2="1036.8" y2="81.5"/><line x1="1181.6" y1="517.0" x2="1181.6" y2="510.5"/><line x1="1181.6" y1="75.0" x2="1181.6" y2="81.5"/><line x1="1326.3" y1="517.0" x2="1326.3" y2="510.5"/><line x1="1326.3" y1="75.0" x2="1326.3" y2="81.5"/><line x1="892.1" y1="148.7" x2="898.6" y2="148.7"/><line x1="1471.1" y1="148.7" x2="1464.6" y2="148.7"/><line x1="892.1" y1="222.3" x2="898.6" y2="222.3"/><line x1="1471.1" y1="222.3" x2="1464.6" y2="222.3"/><line x1="892.1" y1="296.0" x2="898.6" y2="296.0"/><line x1="1471.1" y1="296.0" x2="1464.6" y2="296.0"/><line x1="892.1" y1="369.7" x2="898.6" y2="369.7"/><line x1="1471.1" y1="369.7" x2="1464.6" y2="369.7"/><line x1="892.1" y1="443.3" x2="898.6" y2="443.3"/><line x1="1471.1" y1="443.3" x2="1464.6" y2="443.3"/><rect x="892.1" y="75.0" width="579.0" height="442.0" fill="none" stroke-width="2.5"/></g><g font-family='"Liberation Sans", sans-serif' font-weight="bold" font-size="22" fill="#262626"><text transform="translate(892.1,551.2) scale(0.94,1.09)" text-anchor="middle">-6</text><text transform="translate(1036.8,551.2) scale(0.94,1.09)" text-anchor="middle">-4</text><text transform="translate(1181.6,551.2) scale(0.94,1.09)" text-anchor="middle">-2</text><text transform="translate(1326.3,551.2) scale(0.94,1.09)" text-anchor="middle">0</text><text transform="translate(1471.1,551.2) scale(0.94,1.09)" text-anchor="middle">2</text><text transform="translate(862.9,84.9) scale(1.02,1.07)" text-anchor="middle">0</text><text transform="translate(862.9,158.6) scale(1.02,1.07)" text-anchor="middle">50</text><text transform="translate(862.9,232.2) scale(1.02,1.07)" text-anchor="middle">100</text><text transform="translate(862.9,305.9) scale(1.02,1.07)" text-anchor="middle">150</text><text transform="translate(862.9,379.6) scale(1.02,1.07)" text-anchor="middle">200</text><text transform="translate(862.9,453.2) scale(1.02,1.07)" text-anchor="middle">250</text><text transform="translate(862.9,526.9) scale(1.02,1.07)" text-anchor="middle">300</text></g><text x="1179.5" y="582.8" text-anchor="middle" font-family='"Liberation Sans", sans-serif' font-weight="bold" font-size="25.4" fill="#262626">Upwelling transport trend</text><text x="1031.4" y="622.0" font-family='"Liberation Sans", sans-serif' font-weight="bold" font-size="25.4" fill="#262626">(10</text><text x="1069.9" y="610.6" font-family='"Liberation Sans", sans-serif' font-size="19" fill="#262626">5</text><text x="1086.7" y="622.0" font-family='"Liberation Sans", sans-serif' font-weight="bold" font-size="25.4" fill="#262626">m/s</text><circle cx="1136.8" cy="617.6" r="1.8" fill="#262626"/><text x="1140.9" y="622.0" font-family='"Liberation Sans", sans-serif' font-weight="bold" font-size="25.4" fill="#262626">m</text><text x="1164.7" y="610.6" font-family='"Liberation Sans", sans-serif' font-size="19" fill="#262626">2</text><text x="1182.7" y="622.0" font-family='"Liberation Sans", sans-serif' font-weight="bold" font-size="25.4" fill="#262626">per century)</text><text transform="translate(833.6,296.6) rotate(-90)" font-family='"Liberation Sans", sans-serif' font-weight="bold" font-size="25.4" fill="#262626" text-anchor="middle">Depth (m)</text><text x="1161.6" y="64.0" font-family='"Liberation Sans", sans-serif' font-size="25" fill="#000" text-anchor="middle">HCS</text><g stroke="#262626" stroke-width="2.2" fill="none" stroke-linecap="square"><line x1="247.2" y1="1132.2" x2="247.2" y2="1125.7"/><line x1="247.2" y1="690.0" x2="247.2" y2="696.5"/><line x1="363.0" y1="1132.2" x2="363.0" y2="1125.7"/><line x1="363.0" y1="690.0" x2="363.0" y2="696.5"/><line x1="478.7" y1="1132.2" x2="478.7" y2="1125.7"/><line x1="478.7" y1="690.0" x2="478.7" y2="696.5"/><line x1="594.5" y1="1132.2" x2="594.5" y2="1125.7"/><line x1="594.5" y1="690.0" x2="594.5" y2="696.5"/><line x1="131.4" y1="763.7" x2="137.9" y2="763.7"/><line x1="710.3" y1="763.7" x2="703.8" y2="763.7"/><line x1="131.4" y1="837.4" x2="137.9" y2="837.4"/><line x1="710.3" y1="837.4" x2="703.8" y2="837.4"/><line x1="131.4" y1="911.1" x2="137.9" y2="911.1"/><line x1="710.3" y1="911.1" x2="703.8" y2="911.1"/><line x1="131.4" y1="984.8" x2="137.9" y2="984.8"/><line x1="710.3" y1="984.8" x2="703.8" y2="984.8"/><line x1="131.4" y1="1058.5" x2="137.9" y2="1058.5"/><line x1="710.3" y1="1058.5" x2="703.8" y2="1058.5"/><rect x="131.4" y="690.0" width="578.9" height="442.2" fill="none" stroke-width="2.5"/></g><g font-family='"Liberation Sans", sans-serif' font-weight="bold" font-size="22" fill="#262626"><text transform="translate(131.4,1166.4) scale(0.94,1.09)" text-anchor="middle">0</text><text transform="translate(247.2,1166.4) scale(0.94,1.09)" text-anchor="middle">2</text><text transform="translate(363.0,1166.4) scale(0.94,1.09)" text-anchor="middle">4</text><text transform="translate(478.7,1166.4) scale(0.94,1.09)" text-anchor="middle">6</text><text transform="translate(594.5,1166.4) scale(0.94,1.09)" text-anchor="middle">8</text><text transform="translate(710.3,1166.4) scale(0.94,1.09)" text-anchor="middle">10</text><text transform="translate(102.2,699.9) scale(1.02,1.07)" text-anchor="middle">0</text><text transform="translate(102.2,773.6) scale(1.02,1.07)" text-anchor="middle">50</text><text transform="translate(102.2,847.3) scale(1.02,1.07)" text-anchor="middle">100</text><text transform="translate(102.2,921.0) scale(1.02,1.07)" text-anchor="middle">150</text><text transform="translate(102.2,994.7) scale(1.02,1.07)" text-anchor="middle">200</text><text transform="translate(102.2,1068.4) scale(1.02,1.07)" text-anchor="middle">250</text><text transform="translate(102.2,1142.1) scale(1.02,1.07)" text-anchor="middle">300</text></g><text x="418.7" y="1198.0" text-anchor="middle" font-family='"Liberation Sans", sans-serif' font-weight="bold" font-size="25.4" fill="#262626">Upwelling transport trend</text><text x="270.7" y="1237.2" font-family='"Liberation Sans", sans-serif' font-weight="bold" font-size="25.4" fill="#262626">(10</text><text x="309.2" y="1225.8" font-family='"Liberation Sans", sans-serif' font-size="19" fill="#262626">5</text><text x="326.0" y="1237.2" font-family='"Liberation Sans", sans-serif' font-weight="bold" font-size="25.4" fill="#262626">m/s</text><circle cx="376.1" cy="1232.8" r="1.8" fill="#262626"/><text x="380.2" y="1237.2" font-family='"Liberation Sans", sans-serif' font-weight="bold" font-size="25.4" fill="#262626">m</text><text x="404.0" y="1225.8" font-family='"Liberation Sans", sans-serif' font-size="19" fill="#262626">2</text><text x="422.0" y="1237.2" font-family='"Liberation Sans", sans-serif' font-weight="bold" font-size="25.4" fill="#262626">per century)</text><text transform="translate(72.9,911.7) rotate(-90)" font-family='"Liberation Sans", sans-serif' font-weight="bold" font-size="25.4" fill="#262626" text-anchor="middle">Depth (m)</text><text x="400.8" y="679.0" font-family='"Liberation Sans", sans-serif' font-size="25" fill="#000" text-anchor="middle">CanCS</text><g stroke="#262626" stroke-width="2.2" fill="none" stroke-linecap="square"><line x1="988.6" y1="1132.2" x2="988.6" y2="1125.7"/><line x1="988.6" y1="690.0" x2="988.6" y2="696.5"/><line x1="1085.1" y1="1132.2" x2="1085.1" y2="1125.7"/><line x1="1085.1" y1="690.0" x2="1085.1" y2="696.5"/><line x1="1181.6" y1="1132.2" x2="1181.6" y2="1125.7"/><line x1="1181.6" y1="690.0" x2="1181.6" y2="696.5"/><line x1="1278.1" y1="1132.2" x2="1278.1" y2="1125.7"/><line x1="1278.1" y1="690.0" x2="1278.1" y2="696.5"/><line x1="1374.6" y1="1132.2" x2="1374.6" y2="1125.7"/><line x1="1374.6" y1="690.0" x2="1374.6" y2="696.5"/><line x1="892.1" y1="763.7" x2="898.6" y2="763.7"/><line x1="1471.1" y1="763.7" x2="1464.6" y2="763.7"/><line x1="892.1" y1="837.4" x2="898.6" y2="837.4"/><line x1="1471.1" y1="837.4" x2="1464.6" y2="837.4"/><line x1="892.1" y1="911.1" x2="898.6" y2="911.1"/><line x1="1471.1" y1="911.1" x2="1464.6" y2="911.1"/><line x1="892.1" y1="984.8" x2="898.6" y2="984.8"/><line x1="1471.1" y1="984.8" x2="1464.6" y2="984.8"/><line x1="892.1" y1="1058.5" x2="898.6" y2="1058.5"/><line x1="1471.1" y1="1058.5" x2="1464.6" y2="1058.5"/><rect x="892.1" y="690.0" width="579.0" height="442.2" fill="none" stroke-width="2.5"/></g><g font-family='"Liberation Sans", sans-serif' font-weight="bold" font-size="22" fill="#262626"><text transform="translate(892.1,1166.4) scale(0.94,1.09)" text-anchor="middle">-4</text><text transform="translate(988.6,1166.4) scale(0.94,1.09)" text-anchor="middle">-3</text><text transform="translate(1085.1,1166.4) scale(0.94,1.09)" text-anchor="middle">-2</text><text transform="translate(1181.6,1166.4) scale(0.94,1.09)" text-anchor="middle">-1</text><text transform="translate(1278.1,1166.4) scale(0.94,1.09)" text-anchor="middle">0</text><text transform="translate(1374.6,1166.4) scale(0.94,1.09)" text-anchor="middle">1</text><text transform="translate(1471.1,1166.4) scale(0.94,1.09)" text-anchor="middle">2</text><text transform="translate(862.9,699.9) scale(1.02,1.07)" text-anchor="middle">0</text><text transform="translate(862.9,773.6) scale(1.02,1.07)" text-anchor="middle">50</text><text transform="translate(862.9,847.3) scale(1.02,1.07)" text-anchor="middle">100</text><text transform="translate(862.9,921.0) scale(1.02,1.07)" text-anchor="middle">150</text><text transform="translate(862.9,994.7) scale(1.02,1.07)" text-anchor="middle">200</text><text transform="translate(862.9,1068.4) scale(1.02,1.07)" text-anchor="middle">250</text><text transform="translate(862.9,1142.1) scale(1.02,1.07)" text-anchor="middle">300</text></g><text x="1179.5" y="1198.0" text-anchor="middle" font-family='"Liberation Sans", sans-serif' font-weight="bold" font-size="25.4" fill="#262626">Upwelling transport trend</text><text x="1031.4" y="1237.2" font-family='"Liberation Sans", sans-serif' font-weight="bold" font-size="25.4" fill="#262626">(10</text><text x="1069.9" y="1225.8" font-family='"Liberation Sans", sans-serif' font-size="19" fill="#262626">5</text><text x="1086.7" y="1237.2" font-family='"Liberation Sans", sans-serif' font-weight="bold" font-size="25.4" fill="#262626">m/s</text><circle cx="1136.8" cy="1232.8" r="1.8" fill="#262626"/><text x="1140.9" y="1237.2" font-family='"Liberation Sans", sans-serif' font-weight="bold" font-size="25.4" fill="#262626">m</text><text x="1164.7" y="1225.8" font-family='"Liberation Sans", sans-serif' font-size="19" fill="#262626">2</text><text x="1182.7" y="1237.2" font-family='"Liberation Sans", sans-serif' font-weight="bold" font-size="25.4" fill="#262626">per century)</text><text transform="translate(833.6,911.7) rotate(-90)" font-family='"Liberation Sans", sans-serif' font-weight="bold" font-size="25.4" fill="#262626" text-anchor="middle">Depth (m)</text><text x="1161.6" y="679.0" font-family='"Liberation Sans", sans-serif' font-size="25" fill="#000" text-anchor="middle">BCS</text><line x1="131.4" y1="1132.2" x2="131.4" y2="690.0" stroke="#2F6A8C" stroke-width="2" stroke-dasharray="14.4 8.7" opacity="0.75"/><polyline points="523.0,75.0 548.5,89.7 548.0,104.5 505.0,119.2 486.6,133.9 490.0,148.7 490.5,150.1 490.9,151.6 491.3,153.1 491.7,154.6 492.1,156.0 492.4,157.5 492.8,159.0 493.1,160.5 493.4,161.9 493.6,163.4 493.9,164.9 494.1,166.3 494.3,167.8 494.5,169.3 494.7,170.8 494.9,172.2 495.0,173.7 495.1,175.2 495.2,176.7 495.3,178.1 495.4,179.6 495.4,181.1 495.5,182.6 495.5,184.0 495.5,185.5 495.4,187.0 495.4,188.4 495.3,189.9 495.3,191.4 495.2,192.9 495.1,194.3 495.0,195.8 494.8,197.3 494.7,198.8 494.5,200.2 494.3,201.7 494.1,203.2 493.9,204.7 493.7,206.1 493.4,207.6 493.2,209.1 492.9,210.5 492.6,212.0 492.3,213.5 492.0,215.0 491.6,216.4 491.3,217.9 490.9,219.4 490.6,220.9 490.2,222.3 489.8,223.8 489.4,225.3 488.9,226.8 488.5,228.2 488.0,229.7 487.6,231.2 487.1,232.6 486.6,234.1 486.1,235.6 485.6,237.1 485.1,238.5 484.5,240.0 484.0,241.5 483.4,243.0 482.8,244.4 482.3,245.9 481.7,247.4 481.1,248.9 480.4,250.3 479.8,251.8 479.2,253.3 478.5,254.7 477.9,256.2 477.2,257.7 476.5,259.2 475.9,260.6 475.2,262.1 474.5,263.6 473.8,265.1 473.0,266.5 472.3,268.0 471.6,269.5 470.8,271.0 470.1,272.4 469.3,273.9 468.5,275.4 467.8,276.8 467.0,278.3 466.2,279.8 465.4,281.3 464.6,282.7 463.8,284.2 462.9,285.7 462.1,287.2 461.3,288.6 460.4,290.1 459.6,291.6 458.7,293.1 457.9,294.5 457.0,296.0 456.1,297.5 455.2,298.9 454.4,300.4 453.5,301.9 452.6,303.4 451.7,304.8 450.8,306.3 449.9,307.8 448.9,309.3 448.0,310.7 447.1,312.2 446.2,313.7 445.2,315.2 444.3,316.6 443.3,318.1 442.4,319.6 441.4,321.0 440.5,322.5 439.5,324.0 438.5,325.5 437.6,326.9 436.6,328.4 435.6,329.9 434.6,331.4 433.7,332.8 432.7,334.3 431.7,335.8 430.7,337.3 429.7,338.7 428.7,340.2 427.7,341.7 426.7,343.1 425.7,344.6 424.7,346.1 423.7,347.6 422.7,349.0 421.7,350.5 420.6,352.0 419.6,353.5 418.6,354.9 417.6,356.4 416.6,357.9 415.6,359.4 414.5,360.8 413.5,362.3 412.5,363.8 411.5,365.2 410.4,366.7 409.4,368.2 408.4,369.7 407.4,371.1 406.3,372.6 405.3,374.1 404.3,375.6 403.3,377.0 402.2,378.5 401.2,380.0 400.2,381.5 399.2,382.9 398.2,384.4 397.1,385.9 396.1,387.3 395.1,388.8 394.1,390.3 393.1,391.8 392.1,393.2 391.1,394.7 390.0,396.2 389.0,397.7 388.0,399.1 387.0,400.6 386.0,402.1 385.0,403.6 384.0,405.0 383.0,406.5 382.1,408.0 381.1,409.4 380.1,410.9 379.1,412.4 378.1,413.9 377.2,415.3 376.2,416.8 375.2,418.3 374.3,419.8 373.3,421.2 372.3,422.7 371.4,424.2 370.4,425.7 369.5,427.1 368.6,428.6 367.6,430.1 366.7,431.5 365.8,433.0 364.9,434.5 363.9,436.0 363.0,437.4 362.1,438.9 361.2,440.4 360.3,441.9 359.5,443.3 358.6,444.8 357.7,446.3 356.8,447.8 356.0,449.2 355.1,450.7 354.3,452.2 353.4,453.6 352.6,455.1 351.8,456.6 350.9,458.1 350.1,459.5 349.3,461.0 348.5,462.5 347.7,464.0 346.9,465.4 346.1,466.9 345.4,468.4 344.6,469.9 343.9,471.3 343.1,472.8 342.4,474.3 341.6,475.7 340.9,477.2 340.2,478.7 339.5,480.2 338.8,481.6 338.1,483.1 337.4,484.6 336.7,486.1 336.1,487.5 335.4,489.0 334.8,490.5 334.2,492.0 333.5,493.4 332.9,494.9 332.3,496.4 331.7,497.8 331.1,499.3 330.6,500.8 330.0,502.3 329.4,503.7 328.9,505.2 328.4,506.7 327.9,508.2 327.3,509.6 326.8,511.1 326.4,512.6 325.9,514.1 325.4,515.5 325.0,517.0" fill="none" stroke="#F2426A" stroke-width="7" stroke-linejoin="round" stroke-linecap="round"/><polyline points="517.3,75.0 521.0,89.7 485.0,104.5 423.0,119.2 400.0,133.9 409.0,148.7 411.0,150.1 413.0,151.6 415.0,153.1 416.9,154.6 418.8,156.0 420.6,157.5 422.4,159.0 424.2,160.5 425.9,161.9 427.6,163.4 429.2,164.9 430.8,166.3 432.4,167.8 433.9,169.3 435.4,170.8 436.8,172.2 438.2,173.7 439.6,175.2 440.9,176.7 442.2,178.1 443.5,179.6 444.7,181.1 445.9,182.6 447.1,184.0 448.2,185.5 449.3,187.0 450.4,188.4 451.4,189.9 452.4,191.4 453.3,192.9 454.3,194.3 455.2,195.8 456.0,197.3 456.9,198.8 457.7,200.2 458.4,201.7 459.2,203.2 459.9,204.7 460.6,206.1 461.2,207.6 461.9,209.1 462.5,210.5 463.0,212.0 463.6,213.5 464.1,215.0 464.6,216.4 465.1,217.9 465.5,219.4 465.9,220.9 466.3,222.3 466.7,223.8 467.0,225.3 467.3,226.8 467.6,228.2 467.9,229.7 468.1,231.2 468.3,232.6 468.5,234.1 468.7,235.6 468.9,237.1 469.0,238.5 469.1,240.0 469.2,241.5 469.3,243.0 469.3,244.4 469.4,245.9 469.4,247.4 469.4,248.9 469.4,250.3 469.3,251.8 469.3,253.3 469.2,254.7 469.1,256.2 469.0,257.7 468.8,259.2 468.7,260.6 468.6,262.1 468.4,263.6 468.2,265.1 468.0,266.5 467.8,268.0 467.5,269.5 467.3,271.0 467.0,272.4 466.8,273.9 466.5,275.4 466.2,276.8 465.9,278.3 465.6,279.8 465.3,281.3 464.9,282.7 464.6,284.2 464.2,285.7 463.8,287.2 463.5,288.6 463.1,290.1 462.7,291.6 462.3,293.1 461.9,294.5 461.4,296.0 461.0,297.5 460.5,298.9 460.1,300.4 459.6,301.9 459.1,303.4 458.7,304.8 458.2,306.3 457.7,307.8 457.1,309.3 456.6,310.7 456.1,312.2 455.6,313.7 455.0,315.2 454.5,316.6 453.9,318.1 453.3,319.6 452.8,321.0 452.2,322.5 451.6,324.0 451.0,325.5 450.4,326.9 449.8,328.4 449.2,329.9 448.6,331.4 447.9,332.8 447.3,334.3 446.7,335.8 446.0,337.3 445.4,338.7 444.7,340.2 444.0,341.7 443.4,343.1 442.7,344.6 442.0,346.1 441.3,347.6 440.7,349.0 440.0,350.5 439.3,352.0 438.6,353.5 437.9,354.9 437.2,356.4 436.4,357.9 435.7,359.4 435.0,360.8 434.3,362.3 433.6,363.8 432.8,365.2 432.1,366.7 431.4,368.2 430.6,369.7 429.9,371.1 429.1,372.6 428.4,374.1 427.6,375.6 426.9,377.0 426.1,378.5 425.4,380.0 424.6,381.5 423.8,382.9 423.1,384.4 422.3,385.9 421.6,387.3 420.8,388.8 420.0,390.3 419.3,391.8 418.5,393.2 417.7,394.7 417.0,396.2 416.2,397.7 415.4,399.1 414.6,400.6 413.9,402.1 413.1,403.6 412.3,405.0 411.6,406.5 410.8,408.0 410.0,409.4 409.3,410.9 408.5,412.4 407.8,413.9 407.0,415.3 406.2,416.8 405.5,418.3 404.7,419.8 404.0,421.2 403.2,422.7 402.5,424.2 401.7,425.7 401.0,427.1 400.2,428.6 399.5,430.1 398.7,431.5 398.0,433.0 397.3,434.5 396.6,436.0 395.8,437.4 395.1,438.9 394.4,440.4 393.7,441.9 393.0,443.3 392.3,444.8 391.6,446.3 390.9,447.8 390.2,449.2 389.5,450.7 388.8,452.2 388.1,453.6 387.5,455.1 386.8,456.6 386.1,458.1 385.5,459.5 384.8,461.0 384.2,462.5 383.5,464.0 382.9,465.4 382.3,466.9 381.6,468.4 381.0,469.9 380.4,471.3 379.8,472.8 379.2,474.3 378.6,475.7 378.1,477.2 377.5,478.7 376.9,480.2 376.4,481.6 375.8,483.1 375.3,484.6 374.7,486.1 374.2,487.5 373.7,489.0 373.2,490.5 372.7,492.0 372.2,493.4 371.7,494.9 371.2,496.4 370.8,497.8 370.3,499.3 369.8,500.8 369.4,502.3 369.0,503.7 368.6,505.2 368.2,506.7 367.8,508.2 367.4,509.6 367.0,511.1 366.6,512.6 366.3,514.1 365.9,515.5 365.6,517.0" fill="none" stroke="#4F1B4D" stroke-width="7" stroke-linejoin="round" stroke-linecap="round"/><polyline points="517.0,75.0 533.5,89.7 503.0,104.5 468.0,119.2 436.5,133.9 442.0,148.7 442.0,150.1 442.0,151.6 442.0,153.1 442.0,154.6 441.9,156.0 441.9,157.5 441.8,159.0 441.8,160.5 441.7,161.9 441.6,163.4 441.6,164.9 441.5,166.3 441.4,167.8 441.3,169.3 441.1,170.8 441.0,172.2 440.9,173.7 440.7,175.2 440.6,176.7 440.4,178.1 440.3,179.6 440.1,181.1 439.9,182.6 439.7,184.0 439.5,185.5 439.3,187.0 439.1,188.4 438.9,189.9 438.7,191.4 438.4,192.9 438.2,194.3 437.9,195.8 437.7,197.3 437.4,198.8 437.2,200.2 436.9,201.7 436.6,203.2 436.3,204.7 436.0,206.1 435.7,207.6 435.4,209.1 435.1,210.5 434.8,212.0 434.4,213.5 434.1,215.0 433.8,216.4 433.4,217.9 433.1,219.4 432.7,220.9 432.3,222.3 432.0,223.8 431.6,225.3 431.2,226.8 430.8,228.2 430.4,229.7 430.0,231.2 429.6,232.6 429.2,234.1 428.8,235.6 428.4,237.1 428.0,238.5 427.5,240.0 427.1,241.5 426.7,243.0 426.2,244.4 425.8,245.9 425.3,247.4 424.8,248.9 424.4,250.3 423.9,251.8 423.4,253.3 423.0,254.7 422.5,256.2 422.0,257.7 421.5,259.2 421.0,260.6 420.5,262.1 420.0,263.6 419.5,265.1 419.0,266.5 418.4,268.0 417.9,269.5 417.4,271.0 416.9,272.4 416.3,273.9 415.8,275.4 415.3,276.8 414.7,278.3 414.2,279.8 413.6,281.3 413.1,282.7 412.5,284.2 411.9,285.7 411.4,287.2 410.8,288.6 410.2,290.1 409.7,291.6 409.1,293.1 408.5,294.5 407.9,296.0 407.4,297.5 406.8,298.9 406.2,300.4 405.6,301.9 405.0,303.4 404.4,304.8 403.8,306.3 403.2,307.8 402.6,309.3 402.0,310.7 401.4,312.2 400.8,313.7 400.2,315.2 399.6,316.6 398.9,318.1 398.3,319.6 397.7,321.0 397.1,322.5 396.5,324.0 395.8,325.5 395.2,326.9 394.6,328.4 394.0,329.9 393.3,331.4 392.7,332.8 392.1,334.3 391.5,335.8 390.8,337.3 390.2,338.7 389.6,340.2 388.9,341.7 388.3,343.1 387.6,344.6 387.0,346.1 386.4,347.6 385.7,349.0 385.1,350.5 384.5,352.0 383.8,353.5 383.2,354.9 382.6,356.4 381.9,357.9 381.3,359.4 380.6,360.8 380.0,362.3 379.4,363.8 378.7,365.2 378.1,366.7 377.4,368.2 376.8,369.7 376.2,371.1 375.5,372.6 374.9,374.1 374.3,375.6 373.6,377.0 373.0,378.5 372.4,380.0 371.7,381.5 371.1,382.9 370.5,384.4 369.9,385.9 369.2,387.3 368.6,388.8 368.0,390.3 367.4,391.8 366.7,393.2 366.1,394.7 365.5,396.2 364.9,397.7 364.3,399.1 363.7,400.6 363.1,402.1 362.4,403.6 361.8,405.0 361.2,406.5 360.6,408.0 360.0,409.4 359.4,410.9 358.8,412.4 358.3,413.9 357.7,415.3 357.1,416.8 356.5,418.3 355.9,419.8 355.3,421.2 354.8,422.7 354.2,424.2 353.6,425.7 353.0,427.1 352.5,428.6 351.9,430.1 351.4,431.5 350.8,433.0 350.2,434.5 349.7,436.0 349.1,437.4 348.6,438.9 348.1,440.4 347.5,441.9 347.0,443.3 346.5,444.8 346.0,446.3 345.4,447.8 344.9,449.2 344.4,450.7 343.9,452.2 343.4,453.6 342.9,455.1 342.4,456.6 341.9,458.1 341.4,459.5 340.9,461.0 340.5,462.5 340.0,464.0 339.5,465.4 339.1,466.9 338.6,468.4 338.1,469.9 337.7,471.3 337.2,472.8 336.8,474.3 336.4,475.7 335.9,477.2 335.5,478.7 335.1,480.2 334.7,481.6 334.3,483.1 333.9,484.6 333.5,486.1 333.1,487.5 332.7,489.0 332.3,490.5 332.0,492.0 331.6,493.4 331.2,494.9 330.9,496.4 330.5,497.8 330.2,499.3 329.8,500.8 329.5,502.3 329.2,503.7 328.9,505.2 328.6,506.7 328.2,508.2 327.9,509.6 327.7,511.1 327.4,512.6 327.1,514.1 326.8,515.5 326.6,517.0" fill="none" stroke="#3DBCC8" stroke-width="7" stroke-linejoin="round" stroke-linecap="round"/><polyline points="1326.3,75.0 1394.0,89.7 1406.6,103.4 1378.4,122.1 1373.5,123.6 1368.7,125.1 1363.8,126.6 1359.1,128.0 1354.3,129.5 1349.6,131.0 1344.9,132.5 1340.3,133.9 1335.7,135.4 1331.2,136.9 1326.7,138.4 1322.2,139.8 1317.8,141.3 1313.4,142.8 1309.0,144.2 1304.7,145.7 1300.5,147.2 1296.3,148.7 1292.1,150.1 1288.0,151.6 1283.9,153.1 1279.8,154.6 1275.9,156.0 1271.9,157.5 1268.0,159.0 1264.2,160.5 1260.4,161.9 1256.7,163.4 1253.0,164.9 1249.3,166.3 1245.7,167.8 1242.2,169.3 1238.7,170.8 1235.3,172.2 1231.9,173.7 1228.6,175.2 1225.3,176.7 1222.1,178.1 1218.9,179.6 1215.8,181.1 1212.7,182.6 1209.7,184.0 1206.7,185.5 1203.8,187.0 1201.0,188.4 1198.2,189.9 1195.5,191.4 1192.8,192.9 1190.1,194.3 1187.6,195.8 1185.1,197.3 1182.6,198.8 1180.2,200.2 1177.9,201.7 1175.6,203.2 1173.4,204.7 1171.2,206.1 1169.1,207.6 1167.0,209.1 1165.0,210.5 1163.1,212.0 1161.2,213.5 1159.4,215.0 1157.6,216.4 1155.9,217.9 1154.2,219.4 1152.6,220.9 1151.0,222.3 1149.5,223.8 1148.0,225.3 1146.6,226.8 1145.2,228.2 1143.9,229.7 1142.6,231.2 1141.4,232.6 1140.2,234.1 1139.1,235.6 1138.0,237.1 1136.9,238.5 1135.9,240.0 1134.9,241.5 1134.0,243.0 1133.1,244.4 1132.2,245.9 1131.4,247.4 1130.6,248.9 1129.9,250.3 1129.2,251.8 1128.5,253.3 1127.9,254.7 1127.3,256.2 1126.7,257.7 1126.2,259.2 1125.7,260.6 1125.2,262.1 1124.8,263.6 1124.4,265.1 1124.0,266.5 1123.6,268.0 1123.3,269.5 1123.0,271.0 1122.7,272.4 1122.5,273.9 1122.2,275.4 1122.0,276.8 1121.9,278.3 1121.7,279.8 1121.6,281.3 1121.4,282.7 1121.4,284.2 1121.3,285.7 1121.2,287.2 1121.2,288.6 1121.2,290.1 1121.2,291.6 1121.3,293.1 1121.3,294.5 1121.4,296.0 1121.5,297.5 1121.6,298.9 1121.8,300.4 1121.9,301.9 1122.1,303.4 1122.3,304.8 1122.5,306.3 1122.8,307.8 1123.0,309.3 1123.3,310.7 1123.6,312.2 1123.9,313.7 1124.3,315.2 1124.6,316.6 1125.0,318.1 1125.4,319.6 1125.8,321.0 1126.2,322.5 1126.6,324.0 1127.1,325.5 1127.5,326.9 1128.0,328.4 1128.5,329.9 1129.0,331.4 1129.5,332.8 1130.1,334.3 1130.6,335.8 1131.2,337.3 1131.8,338.7 1132.4,340.2 1133.0,341.7 1133.6,343.1 1134.3,344.6 1134.9,346.1 1135.6,347.6 1136.3,349.0 1137.0,350.5 1137.7,352.0 1138.4,353.5 1139.2,354.9 1139.9,356.4 1140.7,357.9 1141.4,359.4 1142.2,360.8 1143.0,362.3 1143.8,363.8 1144.6,365.2 1145.5,366.7 1146.3,368.2 1147.1,369.7 1148.0,371.1 1148.8,372.6 1149.7,374.1 1150.6,375.6 1151.5,377.0 1152.4,378.5 1153.3,380.0 1154.2,381.5 1155.2,382.9 1156.1,384.4 1157.0,385.9 1158.0,387.3 1158.9,388.8 1159.9,390.3 1160.9,391.8 1161.8,393.2 1162.8,394.7 1163.8,396.2 1164.8,397.7 1165.8,399.1 1166.8,400.6 1167.8,402.1 1168.9,403.6 1169.9,405.0 1170.9,406.5 1172.0,408.0 1173.0,409.4 1174.0,410.9 1175.1,412.4 1176.1,413.9 1177.2,415.3 1178.2,416.8 1179.3,418.3 1180.4,419.8 1181.4,421.2 1182.5,422.7 1183.6,424.2 1184.7,425.7 1185.7,427.1 1186.8,428.6 1187.9,430.1 1189.0,431.5 1190.0,433.0 1191.1,434.5 1192.2,436.0 1193.3,437.4 1194.4,438.9 1195.5,440.4 1196.5,441.9 1197.6,443.3 1198.7,444.8 1199.8,446.3 1200.9,447.8 1202.0,449.2 1203.0,450.7 1204.1,452.2 1205.2,453.6 1206.3,455.1 1207.3,456.6 1208.4,458.1 1209.5,459.5 1210.5,461.0 1211.6,462.5 1212.6,464.0 1213.7,465.4 1214.7,466.9 1215.8,468.4 1216.8,469.9 1217.9,471.3 1218.9,472.8 1219.9,474.3 1221.0,475.7 1222.0,477.2 1223.0,478.7 1224.0,480.2 1225.0,481.6 1226.0,483.1 1227.0,484.6 1228.0,486.1 1228.9,487.5 1229.9,489.0 1230.9,490.5 1231.8,492.0 1232.8,493.4 1233.7,494.9 1234.6,496.4 1235.6,497.8 1236.5,499.3 1237.4,500.8 1238.3,502.3 1239.2,503.7 1240.0,505.2 1240.9,506.7 1241.8,508.2 1242.6,509.6 1243.5,511.1 1244.3,512.6 1245.1,514.1 1245.9,515.5 1246.7,517.0" fill="none" stroke="#F2426A" stroke-width="7" stroke-linejoin="round" stroke-linecap="round"/><polyline points="1326.3,75.0 1383.0,87.2 1390.3,104.5 1386.5,105.9 1382.6,107.4 1378.7,108.9 1374.7,110.4 1370.6,111.8 1366.5,113.3 1362.3,114.8 1358.1,116.3 1353.8,117.7 1349.5,119.2 1345.1,120.7 1340.7,122.1 1336.2,123.6 1331.8,125.1 1327.3,126.6 1322.7,128.0 1318.2,129.5 1313.6,131.0 1309.0,132.5 1304.4,133.9 1299.8,135.4 1295.1,136.9 1290.5,138.4 1285.9,139.8 1281.3,141.3 1276.7,142.8 1272.1,144.2 1267.5,145.7 1262.9,147.2 1258.4,148.7 1253.9,150.1 1249.4,151.6 1244.9,153.1 1240.5,154.6 1236.1,156.0 1231.8,157.5 1227.5,159.0 1223.2,160.5 1219.0,161.9 1214.9,163.4 1210.8,164.9 1206.8,166.3 1202.9,167.8 1199.0,169.3 1195.2,170.8 1191.4,172.2 1187.8,173.7 1184.2,175.2 1180.7,176.7 1177.2,178.1 1173.8,179.6 1170.5,181.1 1167.3,182.6 1164.1,184.0 1161.0,185.5 1157.9,187.0 1154.9,188.4 1152.0,189.9 1149.2,191.4 1146.4,192.9 1143.7,194.3 1141.0,195.8 1138.4,197.3 1135.8,198.8 1133.4,200.2 1130.9,201.7 1128.6,203.2 1126.3,204.7 1124.0,206.1 1121.8,207.6 1119.7,209.1 1117.6,210.5 1115.6,212.0 1113.6,213.5 1111.7,215.0 1109.8,216.4 1108.0,217.9 1106.3,219.4 1104.5,220.9 1102.9,222.3 1101.3,223.8 1099.7,225.3 1098.2,226.8 1096.8,228.2 1095.3,229.7 1094.0,231.2 1092.7,232.6 1091.4,234.1 1090.2,235.6 1089.0,237.1 1087.8,238.5 1086.7,240.0 1085.7,241.5 1084.7,243.0 1083.7,244.4 1082.7,245.9 1081.9,247.4 1081.0,248.9 1080.2,250.3 1079.4,251.8 1078.7,253.3 1078.0,254.7 1077.3,256.2 1076.7,257.7 1076.1,259.2 1075.5,260.6 1075.0,262.1 1074.5,263.6 1074.0,265.1 1073.6,266.5 1073.2,268.0 1072.9,269.5 1072.6,271.0 1072.3,272.4 1072.0,273.9 1071.8,275.4 1071.6,276.8 1071.4,278.3 1071.3,279.8 1071.2,281.3 1071.1,282.7 1071.1,284.2 1071.1,285.7 1071.1,287.2 1071.1,288.6 1071.2,290.1 1071.3,291.6 1071.4,293.1 1071.6,294.5 1071.8,296.0 1072.0,297.5 1072.2,298.9 1072.5,300.4 1072.8,301.9 1073.1,303.4 1073.5,304.8 1073.9,306.3 1074.3,307.8 1074.7,309.3 1075.1,310.7 1075.6,312.2 1076.1,313.7 1076.6,315.2 1077.2,316.6 1077.7,318.1 1078.3,319.6 1078.9,321.0 1079.5,322.5 1080.2,324.0 1080.9,325.5 1081.6,326.9 1082.3,328.4 1083.0,329.9 1083.8,331.4 1084.6,332.8 1085.4,334.3 1086.2,335.8 1087.0,337.3 1087.9,338.7 1088.7,340.2 1089.6,341.7 1090.5,343.1 1091.5,344.6 1092.4,346.1 1093.4,347.6 1094.3,349.0 1095.3,350.5 1096.3,352.0 1097.4,353.5 1098.4,354.9 1099.5,356.4 1100.5,357.9 1101.6,359.4 1102.7,360.8 1103.8,362.3 1104.9,363.8 1106.1,365.2 1107.2,366.7 1108.4,368.2 1109.6,369.7 1110.7,371.1 1111.9,372.6 1113.1,374.1 1114.4,375.6 1115.6,377.0 1116.8,378.5 1118.1,380.0 1119.3,381.5 1120.6,382.9 1121.9,384.4 1123.2,385.9 1124.5,387.3 1125.8,388.8 1127.1,390.3 1128.4,391.8 1129.7,393.2 1131.0,394.7 1132.4,396.2 1133.7,397.7 1135.1,399.1 1136.4,400.6 1137.8,402.1 1139.2,403.6 1140.5,405.0 1141.9,406.5 1143.3,408.0 1144.7,409.4 1146.0,410.9 1147.4,412.4 1148.8,413.9 1150.2,415.3 1151.6,416.8 1153.0,418.3 1154.4,419.8 1155.8,421.2 1157.2,422.7 1158.6,424.2 1160.0,425.7 1161.4,427.1 1162.8,428.6 1164.2,430.1 1165.6,431.5 1167.0,433.0 1168.4,434.5 1169.8,436.0 1171.2,437.4 1172.6,438.9 1174.0,440.4 1175.4,441.9 1176.7,443.3 1178.1,444.8 1179.5,446.3 1180.9,447.8 1182.2,449.2 1183.6,450.7 1184.9,452.2 1186.3,453.6 1187.6,455.1 1189.0,456.6 1190.3,458.1 1191.6,459.5 1192.9,461.0 1194.2,462.5 1195.5,464.0 1196.8,465.4 1198.1,466.9 1199.4,468.4 1200.7,469.9 1201.9,471.3 1203.2,472.8 1204.4,474.3 1205.6,475.7 1206.8,477.2 1208.0,478.7 1209.2,480.2 1210.4,481.6 1211.6,483.1 1212.7,484.6 1213.9,486.1 1215.0,487.5 1216.1,489.0 1217.2,490.5 1218.3,492.0 1219.4,493.4 1220.5,494.9 1221.5,496.4 1222.6,497.8 1223.6,499.3 1224.6,500.8 1225.6,502.3 1226.5,503.7 1227.5,505.2 1228.4,506.7 1229.4,508.2 1230.3,509.6 1231.2,511.1 1232.0,512.6 1232.9,514.1 1233.7,515.5 1234.5,517.0" fill="none" stroke="#4F1B4D" stroke-width="7" stroke-linejoin="round" stroke-linecap="round"/><polyline points="1326.2,75.0 1378.4,88.3 1386.0,103.4 1358.8,117.7 1354.6,119.2 1350.4,120.7 1346.1,122.1 1341.8,123.6 1337.5,125.1 1333.2,126.6 1328.9,128.0 1324.5,129.5 1320.2,131.0 1315.8,132.5 1311.5,133.9 1307.1,135.4 1302.7,136.9 1298.4,138.4 1294.0,139.8 1289.7,141.3 1285.3,142.8 1281.0,144.2 1276.7,145.7 1272.4,147.2 1268.1,148.7 1263.8,150.1 1259.6,151.6 1255.4,153.1 1251.2,154.6 1247.0,156.0 1242.9,157.5 1238.8,159.0 1234.7,160.5 1230.7,161.9 1226.7,163.4 1222.7,164.9 1218.8,166.3 1214.9,167.8 1211.1,169.3 1207.3,170.8 1203.5,172.2 1199.9,173.7 1196.2,175.2 1192.6,176.7 1189.1,178.1 1185.6,179.6 1182.2,181.1 1178.8,182.6 1175.5,184.0 1172.2,185.5 1169.0,187.0 1165.9,188.4 1162.9,189.9 1159.9,191.4 1157.0,192.9 1154.1,194.3 1151.3,195.8 1148.6,197.3 1146.0,198.8 1143.5,200.2 1141.0,201.7 1138.6,203.2 1136.2,204.7 1134.0,206.1 1131.8,207.6 1129.7,209.1 1127.6,210.5 1125.6,212.0 1123.7,213.5 1121.8,215.0 1120.0,216.4 1118.3,217.9 1116.6,219.4 1115.0,220.9 1113.5,222.3 1112.0,223.8 1110.5,225.3 1109.2,226.8 1107.9,228.2 1106.6,229.7 1105.4,231.2 1104.2,232.6 1103.1,234.1 1102.1,235.6 1101.1,237.1 1100.2,238.5 1099.3,240.0 1098.4,241.5 1097.6,243.0 1096.9,244.4 1096.2,245.9 1095.5,247.4 1094.9,248.9 1094.4,250.3 1093.8,251.8 1093.4,253.3 1092.9,254.7 1092.5,256.2 1092.2,257.7 1091.8,259.2 1091.6,260.6 1091.3,262.1 1091.1,263.6 1090.9,265.1 1090.8,266.5 1090.7,268.0 1090.6,269.5 1090.5,271.0 1090.5,272.4 1090.5,273.9 1090.6,275.4 1090.6,276.8 1090.7,278.3 1090.8,279.8 1091.0,281.3 1091.2,282.7 1091.4,284.2 1091.6,285.7 1091.8,287.2 1092.1,288.6 1092.4,290.1 1092.8,291.6 1093.1,293.1 1093.5,294.5 1093.9,296.0 1094.3,297.5 1094.8,298.9 1095.2,300.4 1095.7,301.9 1096.2,303.4 1096.8,304.8 1097.3,306.3 1097.9,307.8 1098.5,309.3 1099.2,310.7 1099.8,312.2 1100.5,313.7 1101.2,315.2 1101.9,316.6 1102.6,318.1 1103.3,319.6 1104.1,321.0 1104.9,322.5 1105.7,324.0 1106.5,325.5 1107.4,326.9 1108.2,328.4 1109.1,329.9 1110.0,331.4 1110.9,332.8 1111.9,334.3 1112.8,335.8 1113.8,337.3 1114.8,338.7 1115.8,340.2 1116.8,341.7 1117.8,343.1 1118.9,344.6 1120.0,346.1 1121.0,347.6 1122.1,349.0 1123.2,350.5 1124.4,352.0 1125.5,353.5 1126.6,354.9 1127.8,356.4 1129.0,357.9 1130.2,359.4 1131.4,360.8 1132.6,362.3 1133.8,363.8 1135.1,365.2 1136.3,366.7 1137.6,368.2 1138.8,369.7 1140.1,371.1 1141.4,372.6 1142.7,374.1 1144.0,375.6 1145.4,377.0 1146.7,378.5 1148.1,380.0 1149.4,381.5 1150.8,382.9 1152.1,384.4 1153.5,385.9 1154.9,387.3 1156.3,388.8 1157.7,390.3 1159.1,391.8 1160.5,393.2 1162.0,394.7 1163.4,396.2 1164.8,397.7 1166.3,399.1 1167.7,400.6 1169.2,402.1 1170.6,403.6 1172.1,405.0 1173.6,406.5 1175.0,408.0 1176.5,409.4 1178.0,410.9 1179.5,412.4 1181.0,413.9 1182.5,415.3 1184.0,416.8 1185.5,418.3 1187.0,419.8 1188.5,421.2 1190.0,422.7 1191.5,424.2 1193.0,425.7 1194.5,427.1 1196.0,428.6 1197.5,430.1 1199.0,431.5 1200.5,433.0 1202.0,434.5 1203.5,436.0 1205.1,437.4 1206.6,438.9 1208.1,440.4 1209.6,441.9 1211.1,443.3 1212.6,444.8 1214.1,446.3 1215.6,447.8 1217.1,449.2 1218.6,450.7 1220.1,452.2 1221.5,453.6 1223.0,455.1 1224.5,456.6 1226.0,458.1 1227.4,459.5 1228.9,461.0 1230.4,462.5 1231.8,464.0 1233.3,465.4 1234.7,466.9 1236.1,468.4 1237.6,469.9 1239.0,471.3 1240.4,472.8 1241.8,474.3 1243.2,475.7 1244.6,477.2 1246.0,478.7 1247.4,480.2 1248.8,481.6 1250.1,483.1 1251.5,484.6 1252.8,486.1 1254.1,487.5 1255.5,489.0 1256.8,490.5 1258.1,492.0 1259.4,493.4 1260.7,494.9 1261.9,496.4 1263.2,497.8 1264.5,499.3 1265.7,500.8 1266.9,502.3 1268.1,503.7 1269.3,505.2 1270.5,506.7 1271.7,508.2 1272.9,509.6 1274.0,511.1 1275.1,512.6 1276.3,514.1 1277.4,515.5 1278.5,517.0" fill="none" stroke="#3DBCC8" stroke-width="7" stroke-linejoin="round" stroke-linecap="round"/><polyline points="130.0,690.0 176.0,704.7 180.9,706.2 185.8,707.7 190.6,709.2 195.3,710.6 199.9,712.1 204.5,713.6 209.0,715.1 213.4,716.5 217.8,718.0 222.1,719.5 226.4,721.0 230.6,722.4 234.7,723.9 238.7,725.4 242.7,726.9 246.6,728.3 250.5,729.8 254.3,731.3 258.0,732.7 261.7,734.2 265.4,735.7 268.9,737.2 272.4,738.6 275.9,740.1 279.3,741.6 282.6,743.1 285.9,744.5 289.1,746.0 292.3,747.5 295.5,749.0 298.5,750.4 301.6,751.9 304.5,753.4 307.4,754.9 310.3,756.3 313.1,757.8 315.9,759.3 318.7,760.8 321.3,762.2 324.0,763.7 326.6,765.2 329.1,766.6 331.6,768.1 334.1,769.6 336.5,771.1 338.9,772.5 341.2,774.0 343.5,775.5 345.7,777.0 348.0,778.4 350.1,779.9 352.3,781.4 354.4,782.9 356.4,784.3 358.5,785.8 360.4,787.3 362.4,788.8 364.3,790.2 366.2,791.7 368.1,793.2 369.9,794.7 371.7,796.1 373.4,797.6 375.2,799.1 376.9,800.5 378.5,802.0 380.2,803.5 381.8,805.0 383.4,806.4 385.0,807.9 386.5,809.4 388.0,810.9 389.5,812.3 391.0,813.8 392.4,815.3 393.8,816.8 395.2,818.2 396.6,819.7 398.0,821.2 399.3,822.7 400.6,824.1 401.9,825.6 403.2,827.1 404.5,828.6 405.7,830.0 407.0,831.5 408.2,833.0 409.4,834.5 410.6,835.9 411.7,837.4 412.9,838.9 414.1,840.3 415.2,841.8 416.4,843.3 417.5,844.8 418.6,846.2 419.7,847.7 420.8,849.2 421.9,850.7 423.0,852.1 424.1,853.6 425.1,855.1 426.2,856.6 427.3,858.0 428.4,859.5 429.4,861.0 430.5,862.5 431.5,863.9 432.6,865.4 433.6,866.9 434.7,868.4 435.7,869.8 436.8,871.3 437.8,872.8 438.8,874.2 439.9,875.7 440.9,877.2 441.9,878.7 442.9,880.1 443.9,881.6 445.0,883.1 446.0,884.6 447.0,886.0 448.0,887.5 449.0,889.0 450.0,890.5 450.9,891.9 451.9,893.4 452.9,894.9 453.9,896.4 454.8,897.8 455.8,899.3 456.8,900.8 457.7,902.3 458.7,903.7 459.6,905.2 460.6,906.7 461.5,908.2 462.4,909.6 463.4,911.1 464.3,912.6 465.2,914.0 466.1,915.5 467.1,917.0 468.0,918.5 468.9,919.9 469.8,921.4 470.7,922.9 471.5,924.4 472.4,925.8 473.3,927.3 474.2,928.8 475.0,930.3 475.9,931.7 476.8,933.2 477.6,934.7 478.5,936.2 479.3,937.6 480.1,939.1 481.0,940.6 481.8,942.1 482.6,943.5 483.4,945.0 484.2,946.5 485.0,948.0 485.8,949.4 486.6,950.9 487.4,952.4 488.2,953.8 489.0,955.3 489.7,956.8 490.5,958.3 491.2,959.7 492.0,961.2 492.7,962.7 493.5,964.2 494.2,965.6 494.9,967.1 495.6,968.6 496.4,970.1 497.1,971.5 497.8,973.0 498.4,974.5 499.1,976.0 499.8,977.4 500.5,978.9 501.2,980.4 501.8,981.9 502.5,983.3 503.1,984.8 503.8,986.3 504.4,987.7 505.0,989.2 505.6,990.7 506.3,992.2 506.9,993.6 507.5,995.1 508.1,996.6 508.6,998.1 509.2,999.5 509.8,1001.0 510.3,1002.5 510.9,1004.0 511.5,1005.4 512.0,1006.9 512.5,1008.4 513.1,1009.9 513.6,1011.3 514.1,1012.8 514.6,1014.3 515.1,1015.8 515.6,1017.2 516.1,1018.7 516.5,1020.2 517.0,1021.7 517.5,1023.1 517.9,1024.6 518.4,1026.1 518.8,1027.5 519.2,1029.0 519.6,1030.5 520.0,1032.0 520.4,1033.4 520.8,1034.9 521.2,1036.4 521.6,1037.9 522.0,1039.3 522.3,1040.8 522.7,1042.3 523.0,1043.8 523.4,1045.2 523.7,1046.7 524.0,1048.2 524.3,1049.7 524.6,1051.1 524.9,1052.6 525.2,1054.1 525.5,1055.6 525.8,1057.0 526.0,1058.5 526.3,1060.0 526.5,1061.4 526.7,1062.9 527.0,1064.4 527.2,1065.9 527.4,1067.3 527.6,1068.8 527.8,1070.3 527.9,1071.8 528.1,1073.2 528.3,1074.7 528.4,1076.2 528.6,1077.7 528.7,1079.1 528.8,1080.6 528.9,1082.1 529.0,1083.6 529.1,1085.0 529.2,1086.5 529.3,1088.0 529.3,1089.5 529.4,1090.9 529.4,1092.4 529.5,1093.9 529.5,1095.3 529.5,1096.8 529.5,1098.3 529.5,1099.8 529.5,1101.2 529.5,1102.7 529.4,1104.2 529.4,1105.7 529.3,1107.1 529.3,1108.6 529.2,1110.1 529.1,1111.6 529.0,1113.0 528.9,1114.5 528.8,1116.0 528.7,1117.5 528.5,1118.9 528.4,1120.4 528.2,1121.9 528.0,1123.4 527.9,1124.8 527.7,1126.3 527.5,1127.8 527.3,1129.3 527.0,1130.7 526.9,1131.5" fill="none" stroke="#F2426A" stroke-width="7" stroke-linejoin="round" stroke-linecap="round"/><polyline points="130.0,690.0 184.2,700.2 224.9,709.8 230.3,711.2 235.5,712.7 240.6,714.2 245.6,715.6 250.5,717.1 255.2,718.6 259.9,720.1 264.4,721.5 268.8,723.0 273.1,724.5 277.2,726.0 281.3,727.4 285.3,728.9 289.2,730.4 292.9,731.9 296.6,733.3 300.2,734.8 303.7,736.3 307.1,737.8 310.4,739.2 313.7,740.7 316.8,742.2 319.9,743.7 323.0,745.1 325.9,746.6 328.8,748.1 331.6,749.5 334.4,751.0 337.1,752.5 339.7,754.0 342.3,755.4 344.8,756.9 347.3,758.4 349.7,759.9 352.1,761.3 354.5,762.8 356.8,764.3 359.1,765.8 361.3,767.2 363.6,768.7 365.7,770.2 367.9,771.7 370.0,773.1 372.1,774.6 374.1,776.1 376.2,777.6 378.2,779.0 380.1,780.5 382.1,782.0 384.0,783.5 385.8,784.9 387.7,786.4 389.5,787.9 391.3,789.3 393.1,790.8 394.8,792.3 396.6,793.8 398.2,795.2 399.9,796.7 401.6,798.2 403.2,799.7 404.8,801.1 406.4,802.6 407.9,804.1 409.5,805.6 411.0,807.0 412.5,808.5 414.0,810.0 415.4,811.5 416.9,812.9 418.3,814.4 419.7,815.9 421.1,817.4 422.5,818.8 423.9,820.3 425.2,821.8 426.5,823.2 427.8,824.7 429.1,826.2 430.4,827.7 431.7,829.1 433.0,830.6 434.2,832.1 435.5,833.6 436.7,835.0 437.9,836.5 439.1,838.0 440.3,839.5 441.5,840.9 442.7,842.4 443.9,843.9 445.1,845.4 446.3,846.8 447.4,848.3 448.6,849.8 449.7,851.3 450.9,852.7 452.0,854.2 453.2,855.7 454.3,857.2 455.4,858.6 456.6,860.1 457.7,861.6 458.8,863.0 459.9,864.5 461.1,866.0 462.2,867.5 463.3,868.9 464.4,870.4 465.5,871.9 466.7,873.4 467.8,874.8 468.9,876.3 470.0,877.8 471.1,879.3 472.2,880.7 473.3,882.2 474.4,883.7 475.5,885.2 476.5,886.6 477.6,888.1 478.7,889.6 479.8,891.1 480.8,892.5 481.9,894.0 483.0,895.5 484.0,896.9 485.1,898.4 486.2,899.9 487.2,901.4 488.3,902.8 489.3,904.3 490.3,905.8 491.4,907.3 492.4,908.7 493.4,910.2 494.4,911.7 495.5,913.2 496.5,914.6 497.5,916.1 498.5,917.6 499.5,919.1 500.5,920.5 501.5,922.0 502.5,923.5 503.4,925.0 504.4,926.4 505.4,927.9 506.4,929.4 507.3,930.9 508.3,932.3 509.2,933.8 510.2,935.3 511.1,936.7 512.0,938.2 513.0,939.7 513.9,941.2 514.8,942.6 515.7,944.1 516.6,945.6 517.5,947.1 518.4,948.5 519.3,950.0 520.2,951.5 521.1,953.0 521.9,954.4 522.8,955.9 523.7,957.4 524.5,958.9 525.4,960.3 526.2,961.8 527.0,963.3 527.9,964.8 528.7,966.2 529.5,967.7 530.3,969.2 531.1,970.6 531.9,972.1 532.7,973.6 533.5,975.1 534.2,976.5 535.0,978.0 535.8,979.5 536.5,981.0 537.3,982.4 538.0,983.9 538.7,985.4 539.5,986.9 540.2,988.3 540.9,989.8 541.6,991.3 542.3,992.8 543.0,994.2 543.6,995.7 544.3,997.2 545.0,998.7 545.6,1000.1 546.3,1001.6 546.9,1003.1 547.5,1004.6 548.1,1006.0 548.8,1007.5 549.4,1009.0 550.0,1010.4 550.5,1011.9 551.1,1013.4 551.7,1014.9 552.3,1016.3 552.8,1017.8 553.3,1019.3 553.9,1020.8 554.4,1022.2 554.9,1023.7 555.4,1025.2 555.9,1026.7 556.4,1028.1 556.9,1029.6 557.4,1031.1 557.8,1032.6 558.3,1034.0 558.7,1035.5 559.2,1037.0 559.6,1038.5 560.0,1039.9 560.4,1041.4 560.8,1042.9 561.2,1044.3 561.6,1045.8 561.9,1047.3 562.3,1048.8 562.6,1050.2 563.0,1051.7 563.3,1053.2 563.6,1054.7 563.9,1056.1 564.2,1057.6 564.5,1059.1 564.7,1060.6 565.0,1062.0 565.3,1063.5 565.5,1065.0 565.7,1066.5 565.9,1067.9 566.1,1069.4 566.3,1070.9 566.5,1072.4 566.7,1073.8 566.9,1075.3 567.0,1076.8 567.2,1078.3 567.3,1079.7 567.4,1081.2 567.5,1082.7 567.6,1084.1 567.7,1085.6 567.8,1087.1 567.8,1088.6 567.9,1090.0 567.9,1091.5 567.9,1093.0 567.9,1094.5 567.9,1095.9 567.9,1097.4 567.9,1098.9 567.9,1100.4 567.8,1101.8 567.8,1103.3 567.7,1104.8 567.6,1106.3 567.5,1107.7 567.4,1109.2 567.3,1110.7 567.1,1112.2 567.0,1113.6 566.8,1115.1 566.6,1116.6 566.5,1118.0 566.3,1119.5 566.0,1121.0 565.8,1122.5 565.6,1123.9 565.3,1125.4 565.0,1126.9 564.8,1128.4 564.5,1129.8 564.2,1131.3 564.1,1131.5" fill="none" stroke="#4F1B4D" stroke-width="7" stroke-linejoin="round" stroke-linecap="round"/><polyline points="130.0,690.0 170.7,703.0 211.3,713.6 216.0,715.1 220.5,716.5 224.9,718.0 229.1,719.5 233.3,721.0 237.3,722.4 241.2,723.9 245.0,725.4 248.7,726.9 252.2,728.3 255.7,729.8 259.1,731.3 262.3,732.7 265.5,734.2 268.5,735.7 271.5,737.2 274.4,738.6 277.1,740.1 279.8,741.6 282.5,743.1 285.0,744.5 287.5,746.0 289.8,747.5 292.1,749.0 294.4,750.4 296.5,751.9 298.6,753.4 300.7,754.9 302.7,756.3 304.6,757.8 306.4,759.3 308.3,760.8 310.0,762.2 311.7,763.7 313.4,765.2 315.0,766.6 316.6,768.1 318.2,769.6 319.7,771.1 321.2,772.5 322.6,774.0 324.1,775.5 325.5,777.0 326.9,778.4 328.2,779.9 329.6,781.4 330.9,782.9 332.2,784.3 333.5,785.8 334.8,787.3 336.1,788.8 337.4,790.2 338.7,791.7 339.9,793.2 341.2,794.7 342.4,796.1 343.6,797.6 344.9,799.1 346.1,800.5 347.3,802.0 348.5,803.5 349.7,805.0 350.8,806.4 352.0,807.9 353.2,809.4 354.3,810.9 355.4,812.3 356.6,813.8 357.7,815.3 358.8,816.8 359.9,818.2 361.0,819.7 362.1,821.2 363.2,822.7 364.3,824.1 365.4,825.6 366.5,827.1 367.5,828.6 368.6,830.0 369.6,831.5 370.7,833.0 371.7,834.5 372.8,835.9 373.8,837.4 374.8,838.9 375.9,840.3 376.9,841.8 377.9,843.3 378.9,844.8 379.9,846.2 380.9,847.7 381.9,849.2 382.9,850.7 383.9,852.1 384.9,853.6 385.9,855.1 386.9,856.6 387.8,858.0 388.8,859.5 389.8,861.0 390.8,862.5 391.7,863.9 392.7,865.4 393.7,866.9 394.6,868.4 395.6,869.8 396.6,871.3 397.5,872.8 398.5,874.2 399.4,875.7 400.4,877.2 401.4,878.7 402.3,880.1 403.3,881.6 404.3,883.1 405.2,884.6 406.2,886.0 407.1,887.5 408.1,889.0 409.1,890.5 410.0,891.9 411.0,893.4 412.0,894.9 412.9,896.4 413.9,897.8 414.9,899.3 415.9,900.8 416.8,902.3 417.8,903.7 418.8,905.2 419.8,906.7 420.8,908.2 421.7,909.6 422.7,911.1 423.7,912.6 424.7,914.0 425.7,915.5 426.7,917.0 427.7,918.5 428.6,919.9 429.6,921.4 430.6,922.9 431.6,924.4 432.6,925.8 433.6,927.3 434.6,928.8 435.5,930.3 436.5,931.7 437.5,933.2 438.5,934.7 439.5,936.2 440.5,937.6 441.4,939.1 442.4,940.6 443.4,942.1 444.4,943.5 445.3,945.0 446.3,946.5 447.3,948.0 448.2,949.4 449.2,950.9 450.2,952.4 451.1,953.8 452.1,955.3 453.1,956.8 454.0,958.3 455.0,959.7 455.9,961.2 456.9,962.7 457.8,964.2 458.8,965.6 459.7,967.1 460.6,968.6 461.6,970.1 462.5,971.5 463.4,973.0 464.3,974.5 465.3,976.0 466.2,977.4 467.1,978.9 468.0,980.4 468.9,981.9 469.8,983.3 470.7,984.8 471.6,986.3 472.5,987.7 473.4,989.2 474.2,990.7 475.1,992.2 476.0,993.6 476.8,995.1 477.7,996.6 478.6,998.1 479.4,999.5 480.3,1001.0 481.1,1002.5 481.9,1004.0 482.8,1005.4 483.6,1006.9 484.4,1008.4 485.2,1009.9 486.0,1011.3 486.8,1012.8 487.6,1014.3 488.4,1015.8 489.2,1017.2 489.9,1018.7 490.7,1020.2 491.4,1021.7 492.2,1023.1 492.9,1024.6 493.7,1026.1 494.4,1027.5 495.1,1029.0 495.9,1030.5 496.6,1032.0 497.3,1033.4 498.0,1034.9 498.6,1036.4 499.3,1037.9 500.0,1039.3 500.7,1040.8 501.3,1042.3 502.0,1043.8 502.6,1045.2 503.2,1046.7 503.8,1048.2 504.5,1049.7 505.1,1051.1 505.7,1052.6 506.2,1054.1 506.8,1055.6 507.4,1057.0 507.9,1058.5 508.5,1060.0 509.0,1061.4 509.6,1062.9 510.1,1064.4 510.6,1065.9 511.1,1067.3 511.6,1068.8 512.1,1070.3 512.5,1071.8 513.0,1073.2 513.5,1074.7 513.9,1076.2 514.3,1077.7 514.8,1079.1 515.2,1080.6 515.6,1082.1 515.9,1083.6 516.3,1085.0 516.7,1086.5 517.0,1088.0 517.4,1089.5 517.7,1090.9 518.0,1092.4 518.3,1093.9 518.6,1095.3 518.9,1096.8 519.2,1098.3 519.5,1099.8 519.7,1101.2 520.0,1102.7 520.2,1104.2 520.4,1105.7 520.6,1107.1 520.8,1108.6 521.0,1110.1 521.1,1111.6 521.3,1113.0 521.4,1114.5 521.5,1116.0 521.6,1117.5 521.7,1118.9 521.8,1120.4 521.9,1121.9 521.9,1123.4 522.0,1124.8 522.0,1126.3 522.0,1127.8 522.0,1129.3 522.0,1130.7 522.0,1131.5" fill="none" stroke="#3DBCC8" stroke-width="7" stroke-linejoin="round" stroke-linecap="round"/><polyline points="1277.9,690.0 1208.0,703.7 1130.0,719.5 1123.0,721.0 1116.2,722.4 1109.7,723.9 1103.2,725.4 1097.0,726.9 1091.0,728.3 1085.2,729.8 1079.5,731.3 1074.0,732.7 1068.7,734.2 1063.5,735.7 1058.6,737.2 1053.8,738.6 1049.2,740.1 1044.7,741.6 1040.4,743.1 1036.3,744.5 1032.3,746.0 1028.5,747.5 1024.8,749.0 1021.3,750.4 1018.0,751.9 1014.8,753.4 1011.7,754.9 1008.8,756.3 1006.0,757.8 1003.4,759.3 1000.9,760.8 998.6,762.2 996.4,763.7 994.3,765.2 992.4,766.6 990.5,768.1 988.9,769.6 987.3,771.1 985.8,772.5 984.5,774.0 983.3,775.5 982.2,777.0 981.2,778.4 980.4,779.9 979.6,781.4 979.0,782.9 978.4,784.3 978.0,785.8 977.6,787.3 977.4,788.8 977.2,790.2 977.1,791.7 977.2,793.2 977.3,794.7 977.5,796.1 977.8,797.6 978.1,799.1 978.6,800.5 979.1,802.0 979.7,803.5 980.4,805.0 981.2,806.4 982.0,807.9 982.9,809.4 983.9,810.9 984.9,812.3 986.0,813.8 987.2,815.3 988.4,816.8 989.7,818.2 991.1,819.7 992.5,821.2 993.9,822.7 995.4,824.1 997.0,825.6 998.6,827.1 1000.3,828.6 1002.0,830.0 1003.7,831.5 1005.5,833.0 1007.4,834.5 1009.2,835.9 1011.2,837.4 1013.1,838.9 1015.1,840.3 1017.1,841.8 1019.2,843.3 1021.2,844.8 1023.3,846.2 1025.5,847.7 1027.6,849.2 1029.8,850.7 1032.0,852.1 1034.2,853.6 1036.4,855.1 1038.6,856.6 1040.9,858.0 1043.2,859.5 1045.4,861.0 1047.7,862.5 1050.0,863.9 1052.3,865.4 1054.6,866.9 1056.9,868.4 1059.2,869.8 1061.5,871.3 1063.8,872.8 1066.1,874.2 1068.3,875.7 1070.6,877.2 1072.8,878.7 1075.1,880.1 1077.3,881.6 1079.5,883.1 1081.7,884.6 1083.9,886.0 1086.0,887.5 1088.2,889.0 1090.3,890.5 1092.4,891.9 1094.5,893.4 1096.6,894.9 1098.6,896.4 1100.7,897.8 1102.7,899.3 1104.7,900.8 1106.8,902.3 1108.8,903.7 1110.8,905.2 1112.8,906.7 1114.8,908.2 1116.7,909.6 1118.7,911.1 1120.7,912.6 1122.6,914.0 1124.6,915.5 1126.5,917.0 1128.4,918.5 1130.4,919.9 1132.3,921.4 1134.2,922.9 1136.2,924.4 1138.1,925.8 1140.0,927.3 1141.9,928.8 1143.9,930.3 1145.8,931.7 1147.7,933.2 1149.6,934.7 1151.6,936.2 1153.5,937.6 1155.4,939.1 1157.4,940.6 1159.3,942.1 1161.2,943.5 1163.2,945.0 1165.1,946.5 1167.0,948.0 1169.0,949.4 1170.9,950.9 1172.8,952.4 1174.8,953.8 1176.7,955.3 1178.6,956.8 1180.5,958.3 1182.4,959.7 1184.4,961.2 1186.3,962.7 1188.2,964.2 1190.0,965.6 1191.9,967.1 1193.8,968.6 1195.7,970.1 1197.6,971.5 1199.4,973.0 1201.3,974.5 1203.1,976.0 1204.9,977.4 1206.8,978.9 1208.6,980.4 1210.4,981.9 1212.2,983.3 1214.0,984.8 1215.7,986.3 1217.5,987.7 1219.2,989.2 1221.0,990.7 1222.7,992.2 1224.4,993.6 1226.1,995.1 1227.8,996.6 1229.4,998.1 1231.1,999.5 1232.7,1001.0 1234.4,1002.5 1236.0,1004.0 1237.6,1005.4 1239.1,1006.9 1240.7,1008.4 1242.2,1009.9 1243.8,1011.3 1245.3,1012.8 1246.8,1014.3 1248.3,1015.8 1249.7,1017.2 1251.2,1018.7 1252.6,1020.2 1254.0,1021.7 1255.4,1023.1 1256.8,1024.6 1258.1,1026.1 1259.5,1027.5 1260.8,1029.0 1262.1,1030.5 1263.4,1032.0 1264.7,1033.4 1265.9,1034.9 1267.2,1036.4 1268.4,1037.9 1269.6,1039.3 1270.8,1040.8 1271.9,1042.3 1273.1,1043.8 1274.2,1045.2 1275.3,1046.7 1276.3,1048.2 1277.4,1049.7 1278.4,1051.1 1279.5,1052.6 1280.5,1054.1 1281.4,1055.6 1282.4,1057.0 1283.3,1058.5 1284.2,1060.0 1285.1,1061.4 1286.0,1062.9 1286.8,1064.4 1287.7,1065.9 1288.5,1067.3 1289.3,1068.8 1290.0,1070.3 1290.7,1071.8 1291.5,1073.2 1292.1,1074.7 1292.8,1076.2 1293.5,1077.7 1294.1,1079.1 1294.7,1080.6 1295.3,1082.1 1295.8,1083.6 1296.3,1085.0 1296.8,1086.5 1297.3,1088.0 1297.8,1089.5 1298.2,1090.9 1298.6,1092.4 1299.0,1093.9 1299.3,1095.3 1299.6,1096.8 1299.9,1098.3 1300.2,1099.8 1300.5,1101.2 1300.7,1102.7 1300.9,1104.2 1301.1,1105.7 1301.2,1107.1 1301.3,1108.6 1301.4,1110.1 1301.5,1111.6 1301.5,1113.0 1301.5,1114.5 1301.5,1116.0 1301.5,1117.5 1301.4,1118.9 1301.3,1120.4 1301.2,1121.9 1301.0,1123.4 1300.8,1124.8 1300.6,1126.3 1300.4,1127.8 1300.1,1129.3 1299.8,1130.7 1299.5,1132.2" fill="none" stroke="#F2426A" stroke-width="7" stroke-linejoin="round" stroke-linecap="round"/><polyline points="1277.9,690.0 1206.3,705.8 1199.0,707.2 1191.9,708.7 1185.0,710.2 1178.1,711.7 1171.5,713.1 1165.0,714.6 1158.6,716.1 1152.4,717.6 1146.3,719.0 1140.4,720.5 1134.6,722.0 1128.9,723.5 1123.4,724.9 1118.1,726.4 1112.8,727.9 1107.7,729.4 1102.8,730.8 1098.0,732.3 1093.3,733.8 1088.7,735.3 1084.3,736.7 1080.0,738.2 1075.8,739.7 1071.7,741.1 1067.8,742.6 1064.0,744.1 1060.3,745.6 1056.8,747.0 1053.3,748.5 1050.0,750.0 1046.8,751.5 1043.7,752.9 1040.8,754.4 1037.9,755.9 1035.2,757.4 1032.5,758.8 1030.0,760.3 1027.6,761.8 1025.3,763.3 1023.1,764.7 1021.0,766.2 1019.0,767.7 1017.1,769.2 1015.3,770.6 1013.7,772.1 1012.1,773.6 1010.6,775.0 1009.2,776.5 1007.9,778.0 1006.7,779.5 1005.6,780.9 1004.6,782.4 1003.6,783.9 1002.8,785.4 1002.0,786.8 1001.4,788.3 1000.8,789.8 1000.3,791.3 999.9,792.7 999.5,794.2 999.3,795.7 999.1,797.2 999.0,798.6 999.0,800.1 999.0,801.6 999.2,803.1 999.3,804.5 999.6,806.0 1000.0,807.5 1000.4,809.0 1000.8,810.4 1001.4,811.9 1002.0,813.4 1002.7,814.8 1003.4,816.3 1004.2,817.8 1005.1,819.3 1006.0,820.7 1006.9,822.2 1008.0,823.7 1009.1,825.2 1010.2,826.6 1011.4,828.1 1012.6,829.6 1013.9,831.1 1015.3,832.5 1016.6,834.0 1018.1,835.5 1019.6,837.0 1021.1,838.4 1022.7,839.9 1024.3,841.4 1025.9,842.9 1027.6,844.3 1029.3,845.8 1031.1,847.3 1032.9,848.7 1034.7,850.2 1036.6,851.7 1038.5,853.2 1040.4,854.6 1042.3,856.1 1044.3,857.6 1046.3,859.1 1048.4,860.5 1050.4,862.0 1052.5,863.5 1054.6,865.0 1056.7,866.4 1058.9,867.9 1061.0,869.4 1063.2,870.9 1065.4,872.3 1067.6,873.8 1069.8,875.3 1072.0,876.8 1074.2,878.2 1076.5,879.7 1078.7,881.2 1081.0,882.7 1083.3,884.1 1085.5,885.6 1087.8,887.1 1090.1,888.5 1092.4,890.0 1094.6,891.5 1096.9,893.0 1099.2,894.4 1101.4,895.9 1103.7,897.4 1105.9,898.9 1108.2,900.3 1110.4,901.8 1112.7,903.3 1114.9,904.8 1117.1,906.2 1119.3,907.7 1121.5,909.2 1123.8,910.7 1126.0,912.1 1128.1,913.6 1130.3,915.1 1132.5,916.6 1134.7,918.0 1136.9,919.5 1139.0,921.0 1141.2,922.4 1143.3,923.9 1145.5,925.4 1147.6,926.9 1149.7,928.3 1151.8,929.8 1154.0,931.3 1156.1,932.8 1158.2,934.2 1160.2,935.7 1162.3,937.2 1164.4,938.7 1166.4,940.1 1168.5,941.6 1170.5,943.1 1172.6,944.6 1174.6,946.0 1176.6,947.5 1178.6,949.0 1180.6,950.5 1182.6,951.9 1184.6,953.4 1186.6,954.9 1188.5,956.4 1190.5,957.8 1192.4,959.3 1194.3,960.8 1196.3,962.2 1198.2,963.7 1200.1,965.2 1201.9,966.7 1203.8,968.1 1205.7,969.6 1207.5,971.1 1209.4,972.6 1211.2,974.0 1213.0,975.5 1214.8,977.0 1216.6,978.5 1218.4,979.9 1220.2,981.4 1221.9,982.9 1223.7,984.4 1225.4,985.8 1227.1,987.3 1228.8,988.8 1230.5,990.3 1232.2,991.7 1233.9,993.2 1235.5,994.7 1237.2,996.1 1238.8,997.6 1240.4,999.1 1242.0,1000.6 1243.6,1002.0 1245.2,1003.5 1246.8,1005.0 1248.3,1006.5 1249.8,1007.9 1251.4,1009.4 1252.9,1010.9 1254.3,1012.4 1255.8,1013.8 1257.3,1015.3 1258.7,1016.8 1260.1,1018.3 1261.6,1019.7 1262.9,1021.2 1264.3,1022.7 1265.7,1024.2 1267.0,1025.6 1268.4,1027.1 1269.7,1028.6 1271.0,1030.1 1272.3,1031.5 1273.5,1033.0 1274.8,1034.5 1276.0,1035.9 1277.2,1037.4 1278.4,1038.9 1279.6,1040.4 1280.8,1041.8 1281.9,1043.3 1283.1,1044.8 1284.2,1046.3 1285.3,1047.7 1286.3,1049.2 1287.4,1050.7 1288.4,1052.2 1289.5,1053.6 1290.5,1055.1 1291.5,1056.6 1292.4,1058.1 1293.4,1059.5 1294.3,1061.0 1295.2,1062.5 1296.1,1064.0 1297.0,1065.4 1297.8,1066.9 1298.7,1068.4 1299.5,1069.8 1300.3,1071.3 1301.0,1072.8 1301.8,1074.3 1302.5,1075.7 1303.2,1077.2 1303.9,1078.7 1304.6,1080.2 1305.2,1081.6 1305.9,1083.1 1306.5,1084.6 1307.1,1086.1 1307.6,1087.5 1308.2,1089.0 1308.7,1090.5 1309.2,1092.0 1309.7,1093.4 1310.1,1094.9 1310.6,1096.4 1311.0,1097.9 1311.4,1099.3 1311.7,1100.8 1312.1,1102.3 1312.4,1103.8 1312.7,1105.2 1313.0,1106.7 1313.2,1108.2 1313.5,1109.6 1313.7,1111.1 1313.8,1112.6 1314.0,1114.1 1314.1,1115.5 1314.3,1117.0 1314.3,1118.5 1314.4,1120.0 1314.5,1121.4 1314.5,1122.9 1314.5,1124.4 1314.4,1125.9 1314.4,1127.3 1314.3,1128.8 1314.2,1130.3 1314.1,1131.8 1314.0,1132.2" fill="none" stroke="#4F1B4D" stroke-width="7" stroke-linejoin="round" stroke-linecap="round"/><polyline points="1277.9,690.0 1206.3,703.7 1127.8,719.5 1121.7,721.0 1115.8,722.4 1110.1,723.9 1104.5,725.4 1099.0,726.9 1093.7,728.3 1088.6,729.8 1083.5,731.3 1078.7,732.7 1073.9,734.2 1069.4,735.7 1064.9,737.2 1060.6,738.6 1056.4,740.1 1052.4,741.6 1048.5,743.1 1044.7,744.5 1041.1,746.0 1037.6,747.5 1034.2,749.0 1030.9,750.4 1027.8,751.9 1024.8,753.4 1021.9,754.9 1019.1,756.3 1016.5,757.8 1013.9,759.3 1011.5,760.8 1009.2,762.2 1007.1,763.7 1005.0,765.2 1003.0,766.6 1001.2,768.1 999.4,769.6 997.8,771.1 996.3,772.5 994.9,774.0 993.5,775.5 992.3,777.0 991.2,778.4 990.2,779.9 989.3,781.4 988.4,782.9 987.7,784.3 987.1,785.8 986.5,787.3 986.1,788.8 985.7,790.2 985.4,791.7 985.2,793.2 985.1,794.7 985.1,796.1 985.2,797.6 985.3,799.1 985.5,800.5 985.8,802.0 986.2,803.5 986.6,805.0 987.2,806.4 987.7,807.9 988.4,809.4 989.1,810.9 989.9,812.3 990.8,813.8 991.7,815.3 992.7,816.8 993.8,818.2 994.9,819.7 996.1,821.2 997.3,822.7 998.6,824.1 1000.0,825.6 1001.4,827.1 1002.8,828.6 1004.3,830.0 1005.9,831.5 1007.5,833.0 1009.2,834.5 1010.9,835.9 1012.6,837.4 1014.4,838.9 1016.2,840.3 1018.1,841.8 1020.0,843.3 1021.9,844.8 1023.9,846.2 1025.9,847.7 1028.0,849.2 1030.0,850.7 1032.2,852.1 1034.3,853.6 1036.5,855.1 1038.6,856.6 1040.9,858.0 1043.1,859.5 1045.4,861.0 1047.6,862.5 1049.9,863.9 1052.3,865.4 1054.6,866.9 1056.9,868.4 1059.3,869.8 1061.7,871.3 1064.1,872.8 1066.5,874.2 1068.9,875.7 1071.3,877.2 1073.7,878.7 1076.1,880.1 1078.5,881.6 1080.9,883.1 1083.4,884.6 1085.8,886.0 1088.2,887.5 1090.6,889.0 1093.0,890.5 1095.4,891.9 1097.8,893.4 1100.2,894.9 1102.6,896.4 1105.0,897.8 1107.4,899.3 1109.7,900.8 1112.1,902.3 1114.5,903.7 1116.8,905.2 1119.2,906.7 1121.6,908.2 1123.9,909.6 1126.2,911.1 1128.6,912.6 1130.9,914.0 1133.2,915.5 1135.5,917.0 1137.8,918.5 1140.1,919.9 1142.4,921.4 1144.7,922.9 1147.0,924.4 1149.3,925.8 1151.6,927.3 1153.8,928.8 1156.1,930.3 1158.3,931.7 1160.6,933.2 1162.8,934.7 1165.0,936.2 1167.2,937.6 1169.4,939.1 1171.6,940.6 1173.8,942.1 1176.0,943.5 1178.2,945.0 1180.4,946.5 1182.5,948.0 1184.7,949.4 1186.8,950.9 1188.9,952.4 1191.1,953.8 1193.2,955.3 1195.3,956.8 1197.4,958.3 1199.4,959.7 1201.5,961.2 1203.6,962.7 1205.6,964.2 1207.7,965.6 1209.7,967.1 1211.7,968.6 1213.7,970.1 1215.7,971.5 1217.7,973.0 1219.7,974.5 1221.7,976.0 1223.6,977.4 1225.6,978.9 1227.5,980.4 1229.4,981.9 1231.3,983.3 1233.2,984.8 1235.1,986.3 1237.0,987.7 1238.8,989.2 1240.7,990.7 1242.5,992.2 1244.3,993.6 1246.1,995.1 1247.9,996.6 1249.7,998.1 1251.5,999.5 1253.2,1001.0 1255.0,1002.5 1256.7,1004.0 1258.4,1005.4 1260.1,1006.9 1261.8,1008.4 1263.5,1009.9 1265.1,1011.3 1266.8,1012.8 1268.4,1014.3 1270.0,1015.8 1271.6,1017.2 1273.2,1018.7 1274.8,1020.2 1276.3,1021.7 1277.9,1023.1 1279.4,1024.6 1280.9,1026.1 1282.4,1027.5 1283.9,1029.0 1285.4,1030.5 1286.8,1032.0 1288.2,1033.4 1289.6,1034.9 1291.0,1036.4 1292.4,1037.9 1293.8,1039.3 1295.1,1040.8 1296.5,1042.3 1297.8,1043.8 1299.1,1045.2 1300.4,1046.7 1301.6,1048.2 1302.9,1049.7 1304.1,1051.1 1305.3,1052.6 1306.5,1054.1 1307.7,1055.6 1308.8,1057.0 1310.0,1058.5 1311.1,1060.0 1312.2,1061.4 1313.3,1062.9 1314.3,1064.4 1315.4,1065.9 1316.4,1067.3 1317.4,1068.8 1318.4,1070.3 1319.3,1071.8 1320.3,1073.2 1321.2,1074.7 1322.1,1076.2 1323.0,1077.7 1323.9,1079.1 1324.7,1080.6 1325.6,1082.1 1326.4,1083.6 1327.2,1085.0 1327.9,1086.5 1328.7,1088.0 1329.4,1089.5 1330.1,1090.9 1330.8,1092.4 1331.4,1093.9 1332.1,1095.3 1332.7,1096.8 1333.3,1098.3 1333.9,1099.8 1334.4,1101.2 1334.9,1102.7 1335.5,1104.2 1335.9,1105.7 1336.4,1107.1 1336.8,1108.6 1337.3,1110.1 1337.7,1111.6 1338.0,1113.0 1338.4,1114.5 1338.7,1116.0 1339.0,1117.5 1339.3,1118.9 1339.6,1120.4 1339.8,1121.9 1340.0,1123.4 1340.2,1124.8 1340.3,1126.3 1340.5,1127.8 1340.6,1129.3 1340.7,1130.7 1340.7,1132.2" fill="none" stroke="#3DBCC8" stroke-width="7" stroke-linejoin="round" stroke-linecap="round"/><line x1="153.3" y1="103.6" x2="209.7" y2="103.6" stroke="#F2426A" stroke-width="7" stroke-linecap="round"/><line x1="153.3" y1="124.6" x2="209.7" y2="124.6" stroke="#4F1B4D" stroke-width="7" stroke-linecap="round"/><line x1="153.3" y1="145.5" x2="209.7" y2="145.5" stroke="#3DBCC8" stroke-width="7" stroke-linecap="round"/><text x="214.9" y="109.1" font-family='"Liberation Sans", sans-serif' font-weight="bold" font-size="16" fill="#000" textLength="65.5" lengthAdjust="spacingAndGlyphs">CESM-H1</text><text x="214.9" y="130.9" font-family='"Liberation Sans", sans-serif' font-weight="bold" font-size="16" fill="#000" textLength="65.5" lengthAdjust="spacingAndGlyphs">CESM-H2</text><text x="214.9" y="151.0" font-family='"Liberation Sans", sans-serif' font-weight="bold" font-size="16" fill="#000" textLength="65.5" lengthAdjust="spacingAndGlyphs">CESM-H3</text><text x="-2" y="28" font-family='"Liberation Sans", sans-serif' font-size="40" fill="#000">a</text><text x="759" y="28" font-family='"Liberation Sans", sans-serif' font-size="40" fill="#000">b</text><text x="0.6" y="644" font-family='"Liberation Sans", sans-serif' font-size="40" fill="#000">c</text><text x="759" y="644" font-family='"Liberation Sans", sans-serif' font-size="40" fill="#000">d</text></svg></body></html>
